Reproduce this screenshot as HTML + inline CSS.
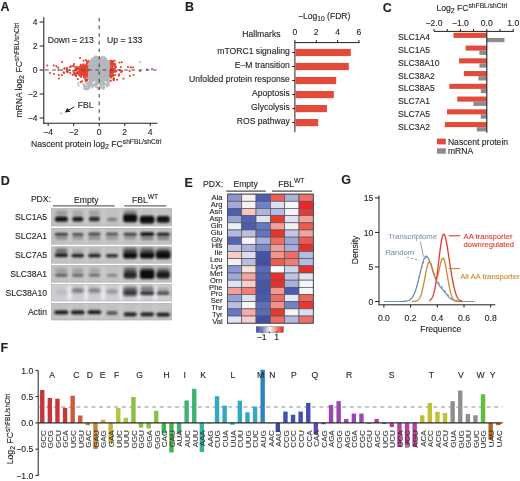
<!DOCTYPE html>
<html><head><meta charset="utf-8"><style>
html,body{margin:0;padding:0;background:#fff;}
svg{display:block;will-change:transform;}
text{font-family:"Liberation Sans", sans-serif;stroke-width:0.12px;}
</style></head><body>
<svg width="520" height="481" viewBox="0 0 520 481">
<rect width="520" height="481" fill="#fff"/>
<text x="0.50" y="10.60" font-size="12.5" text-anchor="start" fill="#231f20" stroke="#231f20" font-weight="bold" >A</text>
<text x="185.00" y="10.70" font-size="12.5" text-anchor="start" fill="#231f20" stroke="#231f20" font-weight="bold" >B</text>
<text x="382.80" y="11.80" font-size="12.5" text-anchor="start" fill="#231f20" stroke="#231f20" font-weight="bold" >C</text>
<text x="0.80" y="185.40" font-size="12.5" text-anchor="start" fill="#231f20" stroke="#231f20" font-weight="bold" >D</text>
<text x="184.60" y="187.00" font-size="12.5" text-anchor="start" fill="#231f20" stroke="#231f20" font-weight="bold" >E</text>
<text x="341.20" y="184.30" font-size="12.5" text-anchor="start" fill="#231f20" stroke="#231f20" font-weight="bold" >G</text>
<text x="0.50" y="351.90" font-size="12.5" text-anchor="start" fill="#231f20" stroke="#231f20" font-weight="bold" >F</text>
<circle cx="105.4" cy="68.1" r="1.05" fill="#b4b8bc"/>
<circle cx="102.5" cy="82.4" r="1.05" fill="#b4b8bc"/>
<circle cx="113.5" cy="79.2" r="1.05" fill="#e5412f"/>
<circle cx="91.3" cy="76.4" r="1.05" fill="#b4b8bc"/>
<circle cx="108.0" cy="77.6" r="1.05" fill="#b4b8bc"/>
<circle cx="106.8" cy="76.3" r="1.05" fill="#b4b8bc"/>
<circle cx="108.3" cy="67.0" r="1.05" fill="#b4b8bc"/>
<circle cx="100.6" cy="73.3" r="1.05" fill="#b4b8bc"/>
<circle cx="113.7" cy="80.3" r="1.05" fill="#e5412f"/>
<circle cx="99.4" cy="78.8" r="1.05" fill="#b4b8bc"/>
<circle cx="82.0" cy="81.4" r="1.05" fill="#e5412f"/>
<circle cx="102.4" cy="76.9" r="1.05" fill="#b4b8bc"/>
<circle cx="93.3" cy="85.4" r="1.05" fill="#b4b8bc"/>
<circle cx="111.7" cy="72.3" r="1.05" fill="#e5412f"/>
<circle cx="102.2" cy="70.3" r="1.05" fill="#b4b8bc"/>
<circle cx="93.1" cy="68.5" r="1.05" fill="#b4b8bc"/>
<circle cx="96.5" cy="75.3" r="1.05" fill="#b4b8bc"/>
<circle cx="101.5" cy="69.0" r="1.05" fill="#b4b8bc"/>
<circle cx="103.6" cy="64.4" r="1.05" fill="#b4b8bc"/>
<circle cx="109.1" cy="78.5" r="1.05" fill="#b4b8bc"/>
<circle cx="99.0" cy="67.5" r="1.05" fill="#b4b8bc"/>
<circle cx="95.6" cy="63.3" r="1.05" fill="#b4b8bc"/>
<circle cx="105.5" cy="67.3" r="1.05" fill="#b4b8bc"/>
<circle cx="104.1" cy="67.8" r="1.05" fill="#b4b8bc"/>
<circle cx="105.5" cy="75.3" r="1.05" fill="#b4b8bc"/>
<circle cx="93.2" cy="78.5" r="1.05" fill="#b4b8bc"/>
<circle cx="95.2" cy="76.9" r="1.05" fill="#b4b8bc"/>
<circle cx="90.4" cy="78.2" r="1.05" fill="#b4b8bc"/>
<circle cx="95.9" cy="81.0" r="1.05" fill="#b4b8bc"/>
<circle cx="95.9" cy="78.2" r="1.05" fill="#b4b8bc"/>
<circle cx="88.7" cy="64.8" r="1.05" fill="#b4b8bc"/>
<circle cx="107.3" cy="74.8" r="1.05" fill="#b4b8bc"/>
<circle cx="106.8" cy="72.6" r="1.05" fill="#b4b8bc"/>
<circle cx="100.4" cy="81.0" r="1.05" fill="#b4b8bc"/>
<circle cx="93.3" cy="72.4" r="1.05" fill="#b4b8bc"/>
<circle cx="83.6" cy="68.4" r="1.05" fill="#e5412f"/>
<circle cx="103.7" cy="75.8" r="1.05" fill="#b4b8bc"/>
<circle cx="107.1" cy="72.6" r="1.05" fill="#b4b8bc"/>
<circle cx="97.1" cy="74.0" r="1.05" fill="#b4b8bc"/>
<circle cx="98.8" cy="82.3" r="1.05" fill="#b4b8bc"/>
<circle cx="107.7" cy="74.5" r="1.05" fill="#b4b8bc"/>
<circle cx="108.2" cy="69.5" r="1.05" fill="#b4b8bc"/>
<circle cx="91.3" cy="71.6" r="1.05" fill="#b4b8bc"/>
<circle cx="85.0" cy="88.1" r="1.05" fill="#b4b8bc"/>
<circle cx="99.2" cy="74.3" r="1.05" fill="#b4b8bc"/>
<circle cx="94.1" cy="67.1" r="1.05" fill="#b4b8bc"/>
<circle cx="106.3" cy="63.4" r="1.05" fill="#b4b8bc"/>
<circle cx="105.2" cy="68.5" r="1.05" fill="#b4b8bc"/>
<circle cx="106.8" cy="70.8" r="1.05" fill="#b4b8bc"/>
<circle cx="95.9" cy="68.0" r="1.05" fill="#b4b8bc"/>
<circle cx="99.9" cy="73.7" r="1.05" fill="#b4b8bc"/>
<circle cx="95.3" cy="75.1" r="1.05" fill="#b4b8bc"/>
<circle cx="97.2" cy="68.9" r="1.05" fill="#b4b8bc"/>
<circle cx="94.4" cy="62.8" r="1.05" fill="#b4b8bc"/>
<circle cx="105.8" cy="74.7" r="1.05" fill="#b4b8bc"/>
<circle cx="99.2" cy="64.2" r="1.05" fill="#b4b8bc"/>
<circle cx="93.4" cy="71.1" r="1.05" fill="#b4b8bc"/>
<circle cx="108.4" cy="71.3" r="1.05" fill="#b4b8bc"/>
<circle cx="112.4" cy="68.2" r="1.05" fill="#e5412f"/>
<circle cx="106.7" cy="78.7" r="1.05" fill="#b4b8bc"/>
<circle cx="76.1" cy="76.2" r="1.05" fill="#e5412f"/>
<circle cx="99.5" cy="70.8" r="1.05" fill="#b4b8bc"/>
<circle cx="91.1" cy="64.0" r="1.05" fill="#b4b8bc"/>
<circle cx="99.5" cy="73.9" r="1.05" fill="#b4b8bc"/>
<circle cx="92.3" cy="71.6" r="1.05" fill="#b4b8bc"/>
<circle cx="102.6" cy="74.6" r="1.05" fill="#b4b8bc"/>
<circle cx="104.4" cy="71.9" r="1.05" fill="#b4b8bc"/>
<circle cx="103.0" cy="70.8" r="1.05" fill="#b4b8bc"/>
<circle cx="97.6" cy="66.8" r="1.05" fill="#b4b8bc"/>
<circle cx="109.6" cy="68.9" r="1.05" fill="#e5412f"/>
<circle cx="102.8" cy="69.0" r="1.05" fill="#b4b8bc"/>
<circle cx="100.4" cy="70.4" r="1.05" fill="#b4b8bc"/>
<circle cx="84.3" cy="67.6" r="1.05" fill="#e5412f"/>
<circle cx="111.4" cy="72.0" r="1.05" fill="#e5412f"/>
<circle cx="91.1" cy="77.2" r="1.05" fill="#b4b8bc"/>
<circle cx="90.1" cy="77.6" r="1.05" fill="#b4b8bc"/>
<circle cx="104.8" cy="79.9" r="1.05" fill="#b4b8bc"/>
<circle cx="99.6" cy="83.6" r="1.05" fill="#b4b8bc"/>
<circle cx="105.5" cy="75.7" r="1.05" fill="#b4b8bc"/>
<circle cx="86.1" cy="71.3" r="1.05" fill="#e5412f"/>
<circle cx="104.3" cy="71.6" r="1.05" fill="#b4b8bc"/>
<circle cx="91.3" cy="63.2" r="1.05" fill="#b4b8bc"/>
<circle cx="98.2" cy="63.4" r="1.05" fill="#b4b8bc"/>
<circle cx="103.9" cy="73.5" r="1.05" fill="#b4b8bc"/>
<circle cx="108.0" cy="66.8" r="1.05" fill="#b4b8bc"/>
<circle cx="91.9" cy="67.7" r="1.05" fill="#b4b8bc"/>
<circle cx="91.1" cy="68.3" r="1.05" fill="#b4b8bc"/>
<circle cx="105.4" cy="68.6" r="1.05" fill="#b4b8bc"/>
<circle cx="102.5" cy="68.3" r="1.05" fill="#b4b8bc"/>
<circle cx="88.9" cy="69.6" r="1.05" fill="#b4b8bc"/>
<circle cx="84.3" cy="73.1" r="1.05" fill="#e5412f"/>
<circle cx="107.8" cy="65.6" r="1.05" fill="#b4b8bc"/>
<circle cx="103.8" cy="78.7" r="1.05" fill="#b4b8bc"/>
<circle cx="98.7" cy="73.3" r="1.05" fill="#b4b8bc"/>
<circle cx="98.3" cy="70.4" r="1.05" fill="#b4b8bc"/>
<circle cx="80.1" cy="58.1" r="1.05" fill="#e5412f"/>
<circle cx="107.0" cy="67.3" r="1.05" fill="#b4b8bc"/>
<circle cx="91.5" cy="66.5" r="1.05" fill="#b4b8bc"/>
<circle cx="89.9" cy="66.4" r="1.05" fill="#b4b8bc"/>
<circle cx="104.8" cy="68.5" r="1.05" fill="#b4b8bc"/>
<circle cx="116.0" cy="66.9" r="1.05" fill="#e5412f"/>
<circle cx="105.9" cy="66.3" r="1.05" fill="#b4b8bc"/>
<circle cx="87.4" cy="74.3" r="1.05" fill="#e5412f"/>
<circle cx="94.4" cy="70.7" r="1.05" fill="#b4b8bc"/>
<circle cx="107.6" cy="61.5" r="1.05" fill="#b4b8bc"/>
<circle cx="104.4" cy="71.8" r="1.05" fill="#b4b8bc"/>
<circle cx="96.7" cy="69.5" r="1.05" fill="#b4b8bc"/>
<circle cx="102.0" cy="66.6" r="1.05" fill="#b4b8bc"/>
<circle cx="104.8" cy="68.5" r="1.05" fill="#b4b8bc"/>
<circle cx="97.8" cy="78.0" r="1.05" fill="#b4b8bc"/>
<circle cx="94.8" cy="70.0" r="1.05" fill="#b4b8bc"/>
<circle cx="92.8" cy="58.9" r="1.05" fill="#b4b8bc"/>
<circle cx="90.3" cy="69.3" r="1.05" fill="#b4b8bc"/>
<circle cx="78.1" cy="73.8" r="1.05" fill="#e5412f"/>
<circle cx="103.8" cy="84.0" r="1.05" fill="#b4b8bc"/>
<circle cx="99.7" cy="64.7" r="1.05" fill="#b4b8bc"/>
<circle cx="90.9" cy="71.4" r="1.05" fill="#b4b8bc"/>
<circle cx="105.6" cy="73.5" r="1.05" fill="#b4b8bc"/>
<circle cx="96.2" cy="70.1" r="1.05" fill="#b4b8bc"/>
<circle cx="97.1" cy="72.2" r="1.05" fill="#b4b8bc"/>
<circle cx="105.3" cy="64.1" r="1.05" fill="#b4b8bc"/>
<circle cx="89.5" cy="75.1" r="1.05" fill="#b4b8bc"/>
<circle cx="105.0" cy="70.4" r="1.05" fill="#b4b8bc"/>
<circle cx="97.8" cy="68.6" r="1.05" fill="#b4b8bc"/>
<circle cx="108.9" cy="73.1" r="1.05" fill="#b4b8bc"/>
<circle cx="96.1" cy="71.5" r="1.05" fill="#b4b8bc"/>
<circle cx="99.1" cy="76.5" r="1.05" fill="#b4b8bc"/>
<circle cx="97.4" cy="63.0" r="1.05" fill="#b4b8bc"/>
<circle cx="103.0" cy="73.3" r="1.05" fill="#b4b8bc"/>
<circle cx="107.4" cy="61.1" r="1.05" fill="#b4b8bc"/>
<circle cx="88.9" cy="72.2" r="1.05" fill="#b4b8bc"/>
<circle cx="106.0" cy="73.3" r="1.05" fill="#b4b8bc"/>
<circle cx="90.7" cy="70.3" r="1.05" fill="#b4b8bc"/>
<circle cx="103.9" cy="80.3" r="1.05" fill="#b4b8bc"/>
<circle cx="54.0" cy="74.0" r="1.05" fill="#e5412f"/>
<circle cx="101.4" cy="75.0" r="1.05" fill="#b4b8bc"/>
<circle cx="92.0" cy="70.5" r="1.05" fill="#b4b8bc"/>
<circle cx="91.3" cy="72.0" r="1.05" fill="#b4b8bc"/>
<circle cx="95.8" cy="69.4" r="1.05" fill="#b4b8bc"/>
<circle cx="90.0" cy="66.1" r="1.05" fill="#b4b8bc"/>
<circle cx="97.5" cy="68.5" r="1.05" fill="#b4b8bc"/>
<circle cx="106.5" cy="68.5" r="1.05" fill="#b4b8bc"/>
<circle cx="90.7" cy="73.6" r="1.05" fill="#b4b8bc"/>
<circle cx="99.4" cy="67.8" r="1.05" fill="#b4b8bc"/>
<circle cx="103.0" cy="70.6" r="1.05" fill="#b4b8bc"/>
<circle cx="105.3" cy="72.7" r="1.05" fill="#b4b8bc"/>
<circle cx="102.7" cy="66.6" r="1.05" fill="#b4b8bc"/>
<circle cx="105.3" cy="61.0" r="1.05" fill="#b4b8bc"/>
<circle cx="99.6" cy="74.7" r="1.05" fill="#b4b8bc"/>
<circle cx="95.7" cy="74.2" r="1.05" fill="#b4b8bc"/>
<circle cx="107.2" cy="72.4" r="1.05" fill="#b4b8bc"/>
<circle cx="98.6" cy="74.4" r="1.05" fill="#b4b8bc"/>
<circle cx="101.5" cy="64.6" r="1.05" fill="#b4b8bc"/>
<circle cx="104.8" cy="72.0" r="1.05" fill="#b4b8bc"/>
<circle cx="89.6" cy="65.4" r="1.05" fill="#b4b8bc"/>
<circle cx="97.0" cy="83.3" r="1.05" fill="#b4b8bc"/>
<circle cx="100.0" cy="72.6" r="1.05" fill="#b4b8bc"/>
<circle cx="99.1" cy="79.7" r="1.05" fill="#b4b8bc"/>
<circle cx="110.3" cy="67.7" r="1.05" fill="#e5412f"/>
<circle cx="90.7" cy="74.4" r="1.05" fill="#b4b8bc"/>
<circle cx="105.0" cy="71.3" r="1.05" fill="#b4b8bc"/>
<circle cx="96.7" cy="77.0" r="1.05" fill="#b4b8bc"/>
<circle cx="93.0" cy="70.4" r="1.05" fill="#b4b8bc"/>
<circle cx="90.1" cy="69.6" r="1.05" fill="#b4b8bc"/>
<circle cx="88.2" cy="61.9" r="1.05" fill="#e5412f"/>
<circle cx="108.5" cy="66.0" r="1.05" fill="#b4b8bc"/>
<circle cx="95.0" cy="70.1" r="1.05" fill="#b4b8bc"/>
<circle cx="89.1" cy="66.8" r="1.05" fill="#b4b8bc"/>
<circle cx="106.4" cy="68.9" r="1.05" fill="#b4b8bc"/>
<circle cx="105.2" cy="68.6" r="1.05" fill="#b4b8bc"/>
<circle cx="102.3" cy="65.5" r="1.05" fill="#b4b8bc"/>
<circle cx="95.9" cy="74.6" r="1.05" fill="#b4b8bc"/>
<circle cx="98.0" cy="62.8" r="1.05" fill="#b4b8bc"/>
<circle cx="104.3" cy="68.8" r="1.05" fill="#b4b8bc"/>
<circle cx="104.9" cy="69.3" r="1.05" fill="#b4b8bc"/>
<circle cx="109.1" cy="80.3" r="1.05" fill="#b4b8bc"/>
<circle cx="96.0" cy="76.2" r="1.05" fill="#b4b8bc"/>
<circle cx="91.2" cy="69.6" r="1.05" fill="#b4b8bc"/>
<circle cx="107.4" cy="72.2" r="1.05" fill="#b4b8bc"/>
<circle cx="103.9" cy="80.0" r="1.05" fill="#b4b8bc"/>
<circle cx="103.1" cy="72.2" r="1.05" fill="#b4b8bc"/>
<circle cx="98.3" cy="72.7" r="1.05" fill="#b4b8bc"/>
<circle cx="105.6" cy="62.1" r="1.05" fill="#b4b8bc"/>
<circle cx="88.9" cy="84.9" r="1.05" fill="#b4b8bc"/>
<circle cx="98.4" cy="69.5" r="1.05" fill="#b4b8bc"/>
<circle cx="90.9" cy="73.1" r="1.05" fill="#b4b8bc"/>
<circle cx="97.6" cy="69.4" r="1.05" fill="#b4b8bc"/>
<circle cx="92.1" cy="65.8" r="1.05" fill="#b4b8bc"/>
<circle cx="89.9" cy="70.7" r="1.05" fill="#b4b8bc"/>
<circle cx="93.7" cy="69.9" r="1.05" fill="#b4b8bc"/>
<circle cx="103.6" cy="70.9" r="1.05" fill="#b4b8bc"/>
<circle cx="99.3" cy="58.4" r="1.05" fill="#b4b8bc"/>
<circle cx="100.3" cy="77.3" r="1.05" fill="#b4b8bc"/>
<circle cx="108.9" cy="67.1" r="1.05" fill="#b4b8bc"/>
<circle cx="106.6" cy="73.4" r="1.05" fill="#b4b8bc"/>
<circle cx="99.9" cy="79.7" r="1.05" fill="#b4b8bc"/>
<circle cx="91.7" cy="73.7" r="1.05" fill="#b4b8bc"/>
<circle cx="110.9" cy="69.2" r="1.05" fill="#e5412f"/>
<circle cx="92.6" cy="67.9" r="1.05" fill="#b4b8bc"/>
<circle cx="105.1" cy="73.8" r="1.05" fill="#b4b8bc"/>
<circle cx="93.4" cy="76.2" r="1.05" fill="#b4b8bc"/>
<circle cx="100.8" cy="71.2" r="1.05" fill="#b4b8bc"/>
<circle cx="102.1" cy="57.1" r="1.05" fill="#b4b8bc"/>
<circle cx="95.0" cy="64.1" r="1.05" fill="#b4b8bc"/>
<circle cx="108.3" cy="71.4" r="1.05" fill="#b4b8bc"/>
<circle cx="92.1" cy="70.4" r="1.05" fill="#b4b8bc"/>
<circle cx="105.5" cy="74.5" r="1.05" fill="#b4b8bc"/>
<circle cx="99.5" cy="77.0" r="1.05" fill="#b4b8bc"/>
<circle cx="108.0" cy="66.0" r="1.05" fill="#b4b8bc"/>
<circle cx="92.7" cy="70.4" r="1.05" fill="#b4b8bc"/>
<circle cx="99.6" cy="67.4" r="1.05" fill="#b4b8bc"/>
<circle cx="108.1" cy="78.1" r="1.05" fill="#b4b8bc"/>
<circle cx="95.4" cy="73.1" r="1.05" fill="#b4b8bc"/>
<circle cx="89.4" cy="69.8" r="1.05" fill="#b4b8bc"/>
<circle cx="100.2" cy="71.2" r="1.05" fill="#b4b8bc"/>
<circle cx="106.2" cy="73.9" r="1.05" fill="#b4b8bc"/>
<circle cx="101.7" cy="68.9" r="1.05" fill="#b4b8bc"/>
<circle cx="86.9" cy="73.0" r="1.05" fill="#e5412f"/>
<circle cx="96.3" cy="66.7" r="1.05" fill="#b4b8bc"/>
<circle cx="114.6" cy="64.3" r="1.05" fill="#e5412f"/>
<circle cx="89.8" cy="65.0" r="1.05" fill="#b4b8bc"/>
<circle cx="92.2" cy="66.6" r="1.05" fill="#b4b8bc"/>
<circle cx="108.4" cy="72.0" r="1.05" fill="#b4b8bc"/>
<circle cx="93.9" cy="61.5" r="1.05" fill="#b4b8bc"/>
<circle cx="89.5" cy="63.8" r="1.05" fill="#b4b8bc"/>
<circle cx="94.2" cy="70.6" r="1.05" fill="#b4b8bc"/>
<circle cx="88.7" cy="70.3" r="1.05" fill="#b4b8bc"/>
<circle cx="92.8" cy="80.5" r="1.05" fill="#b4b8bc"/>
<circle cx="96.7" cy="70.7" r="1.05" fill="#b4b8bc"/>
<circle cx="93.8" cy="66.1" r="1.05" fill="#b4b8bc"/>
<circle cx="93.6" cy="71.0" r="1.05" fill="#b4b8bc"/>
<circle cx="107.0" cy="62.6" r="1.05" fill="#b4b8bc"/>
<circle cx="95.4" cy="66.6" r="1.05" fill="#b4b8bc"/>
<circle cx="87.3" cy="66.0" r="1.05" fill="#e5412f"/>
<circle cx="89.8" cy="71.5" r="1.05" fill="#b4b8bc"/>
<circle cx="99.7" cy="77.0" r="1.05" fill="#b4b8bc"/>
<circle cx="91.0" cy="68.2" r="1.05" fill="#b4b8bc"/>
<circle cx="107.8" cy="68.8" r="1.05" fill="#b4b8bc"/>
<circle cx="100.0" cy="69.5" r="1.05" fill="#b4b8bc"/>
<circle cx="105.3" cy="65.2" r="1.05" fill="#b4b8bc"/>
<circle cx="94.2" cy="68.2" r="1.05" fill="#b4b8bc"/>
<circle cx="102.9" cy="62.9" r="1.05" fill="#b4b8bc"/>
<circle cx="104.9" cy="64.7" r="1.05" fill="#b4b8bc"/>
<circle cx="90.5" cy="65.2" r="1.05" fill="#b4b8bc"/>
<circle cx="108.6" cy="73.6" r="1.05" fill="#b4b8bc"/>
<circle cx="92.9" cy="65.0" r="1.05" fill="#b4b8bc"/>
<circle cx="91.1" cy="73.5" r="1.05" fill="#b4b8bc"/>
<circle cx="95.2" cy="65.4" r="1.05" fill="#b4b8bc"/>
<circle cx="95.1" cy="73.2" r="1.05" fill="#b4b8bc"/>
<circle cx="101.1" cy="74.2" r="1.05" fill="#b4b8bc"/>
<circle cx="108.6" cy="72.6" r="1.05" fill="#b4b8bc"/>
<circle cx="91.8" cy="66.5" r="1.05" fill="#b4b8bc"/>
<circle cx="101.7" cy="63.9" r="1.05" fill="#b4b8bc"/>
<circle cx="107.6" cy="68.3" r="1.05" fill="#b4b8bc"/>
<circle cx="108.0" cy="76.6" r="1.05" fill="#b4b8bc"/>
<circle cx="95.1" cy="70.4" r="1.05" fill="#b4b8bc"/>
<circle cx="102.9" cy="80.8" r="1.05" fill="#b4b8bc"/>
<circle cx="92.8" cy="72.7" r="1.05" fill="#b4b8bc"/>
<circle cx="90.8" cy="74.2" r="1.05" fill="#b4b8bc"/>
<circle cx="88.7" cy="75.5" r="1.05" fill="#b4b8bc"/>
<circle cx="98.4" cy="66.9" r="1.05" fill="#b4b8bc"/>
<circle cx="109.4" cy="80.5" r="1.05" fill="#e5412f"/>
<circle cx="89.2" cy="69.7" r="1.05" fill="#b4b8bc"/>
<circle cx="100.6" cy="71.5" r="1.05" fill="#b4b8bc"/>
<circle cx="97.4" cy="71.3" r="1.05" fill="#b4b8bc"/>
<circle cx="90.9" cy="70.6" r="1.05" fill="#b4b8bc"/>
<circle cx="97.8" cy="66.2" r="1.05" fill="#b4b8bc"/>
<circle cx="91.2" cy="85.6" r="1.05" fill="#b4b8bc"/>
<circle cx="107.9" cy="71.0" r="1.05" fill="#b4b8bc"/>
<circle cx="95.6" cy="61.2" r="1.05" fill="#b4b8bc"/>
<circle cx="107.6" cy="77.6" r="1.05" fill="#b4b8bc"/>
<circle cx="98.7" cy="72.0" r="1.05" fill="#b4b8bc"/>
<circle cx="103.7" cy="71.2" r="1.05" fill="#b4b8bc"/>
<circle cx="92.8" cy="71.2" r="1.05" fill="#b4b8bc"/>
<circle cx="99.4" cy="67.9" r="1.05" fill="#b4b8bc"/>
<circle cx="78.4" cy="72.5" r="1.05" fill="#e5412f"/>
<circle cx="86.4" cy="89.0" r="1.05" fill="#b4b8bc"/>
<circle cx="98.5" cy="64.7" r="1.05" fill="#b4b8bc"/>
<circle cx="96.1" cy="84.0" r="1.05" fill="#b4b8bc"/>
<circle cx="90.8" cy="71.2" r="1.05" fill="#b4b8bc"/>
<circle cx="109.4" cy="68.3" r="1.05" fill="#e5412f"/>
<circle cx="98.5" cy="73.2" r="1.05" fill="#b4b8bc"/>
<circle cx="101.5" cy="71.3" r="1.05" fill="#b4b8bc"/>
<circle cx="106.4" cy="63.5" r="1.05" fill="#b4b8bc"/>
<circle cx="90.6" cy="66.6" r="1.05" fill="#b4b8bc"/>
<circle cx="86.7" cy="73.1" r="1.05" fill="#e5412f"/>
<circle cx="98.6" cy="69.8" r="1.05" fill="#b4b8bc"/>
<circle cx="98.9" cy="69.6" r="1.05" fill="#b4b8bc"/>
<circle cx="91.8" cy="69.9" r="1.05" fill="#b4b8bc"/>
<circle cx="94.1" cy="70.1" r="1.05" fill="#b4b8bc"/>
<circle cx="96.5" cy="69.5" r="1.05" fill="#b4b8bc"/>
<circle cx="78.1" cy="83.3" r="1.05" fill="#b4b8bc"/>
<circle cx="103.3" cy="69.4" r="1.05" fill="#b4b8bc"/>
<circle cx="91.3" cy="68.1" r="1.05" fill="#b4b8bc"/>
<circle cx="92.7" cy="78.2" r="1.05" fill="#b4b8bc"/>
<circle cx="97.6" cy="62.1" r="1.05" fill="#b4b8bc"/>
<circle cx="94.3" cy="69.7" r="1.05" fill="#b4b8bc"/>
<circle cx="80.8" cy="68.9" r="1.05" fill="#e5412f"/>
<circle cx="95.6" cy="75.1" r="1.05" fill="#b4b8bc"/>
<circle cx="93.1" cy="60.8" r="1.05" fill="#b4b8bc"/>
<circle cx="95.8" cy="67.8" r="1.05" fill="#b4b8bc"/>
<circle cx="103.8" cy="68.9" r="1.05" fill="#b4b8bc"/>
<circle cx="103.6" cy="66.9" r="1.05" fill="#b4b8bc"/>
<circle cx="98.1" cy="71.0" r="1.05" fill="#b4b8bc"/>
<circle cx="109.0" cy="71.7" r="1.05" fill="#b4b8bc"/>
<circle cx="94.2" cy="65.3" r="1.05" fill="#b4b8bc"/>
<circle cx="95.6" cy="84.4" r="1.05" fill="#b4b8bc"/>
<circle cx="100.3" cy="70.4" r="1.05" fill="#b4b8bc"/>
<circle cx="95.5" cy="71.3" r="1.05" fill="#b4b8bc"/>
<circle cx="86.8" cy="63.2" r="1.05" fill="#e5412f"/>
<circle cx="81.4" cy="71.0" r="1.05" fill="#e5412f"/>
<circle cx="103.5" cy="74.7" r="1.05" fill="#b4b8bc"/>
<circle cx="98.8" cy="76.2" r="1.05" fill="#b4b8bc"/>
<circle cx="106.3" cy="59.5" r="1.05" fill="#b4b8bc"/>
<circle cx="97.3" cy="79.0" r="1.05" fill="#b4b8bc"/>
<circle cx="92.3" cy="66.4" r="1.05" fill="#b4b8bc"/>
<circle cx="109.1" cy="85.0" r="1.05" fill="#b4b8bc"/>
<circle cx="106.3" cy="65.4" r="1.05" fill="#b4b8bc"/>
<circle cx="93.9" cy="67.1" r="1.05" fill="#b4b8bc"/>
<circle cx="100.7" cy="70.8" r="1.05" fill="#b4b8bc"/>
<circle cx="93.7" cy="58.0" r="1.05" fill="#b4b8bc"/>
<circle cx="109.6" cy="63.9" r="1.05" fill="#e5412f"/>
<circle cx="93.3" cy="75.2" r="1.05" fill="#b4b8bc"/>
<circle cx="91.8" cy="75.8" r="1.05" fill="#b4b8bc"/>
<circle cx="64.7" cy="68.2" r="1.05" fill="#e5412f"/>
<circle cx="96.3" cy="84.9" r="1.05" fill="#b4b8bc"/>
<circle cx="102.7" cy="71.5" r="1.05" fill="#b4b8bc"/>
<circle cx="98.3" cy="75.0" r="1.05" fill="#b4b8bc"/>
<circle cx="100.2" cy="69.4" r="1.05" fill="#b4b8bc"/>
<circle cx="105.9" cy="76.3" r="1.05" fill="#b4b8bc"/>
<circle cx="93.2" cy="67.3" r="1.05" fill="#b4b8bc"/>
<circle cx="95.0" cy="65.9" r="1.05" fill="#b4b8bc"/>
<circle cx="94.4" cy="74.0" r="1.05" fill="#b4b8bc"/>
<circle cx="105.4" cy="67.7" r="1.05" fill="#b4b8bc"/>
<circle cx="83.3" cy="64.4" r="1.05" fill="#e5412f"/>
<circle cx="89.4" cy="62.1" r="1.05" fill="#b4b8bc"/>
<circle cx="96.9" cy="61.7" r="1.05" fill="#b4b8bc"/>
<circle cx="80.8" cy="66.3" r="1.05" fill="#e5412f"/>
<circle cx="89.1" cy="73.3" r="1.05" fill="#b4b8bc"/>
<circle cx="109.8" cy="70.4" r="1.05" fill="#e5412f"/>
<circle cx="94.3" cy="71.6" r="1.05" fill="#b4b8bc"/>
<circle cx="103.5" cy="67.6" r="1.05" fill="#b4b8bc"/>
<circle cx="94.2" cy="72.4" r="1.05" fill="#b4b8bc"/>
<circle cx="105.1" cy="71.5" r="1.05" fill="#b4b8bc"/>
<circle cx="98.7" cy="66.8" r="1.05" fill="#b4b8bc"/>
<circle cx="106.1" cy="73.4" r="1.05" fill="#b4b8bc"/>
<circle cx="95.0" cy="74.8" r="1.05" fill="#b4b8bc"/>
<circle cx="99.4" cy="70.2" r="1.05" fill="#b4b8bc"/>
<circle cx="96.3" cy="67.3" r="1.05" fill="#b4b8bc"/>
<circle cx="87.0" cy="79.2" r="1.05" fill="#e5412f"/>
<circle cx="99.9" cy="68.9" r="1.05" fill="#b4b8bc"/>
<circle cx="104.0" cy="66.1" r="1.05" fill="#b4b8bc"/>
<circle cx="90.5" cy="70.9" r="1.05" fill="#b4b8bc"/>
<circle cx="140.0" cy="71.0" r="1.05" fill="#e5412f"/>
<circle cx="96.6" cy="63.2" r="1.05" fill="#b4b8bc"/>
<circle cx="99.5" cy="66.6" r="1.05" fill="#b4b8bc"/>
<circle cx="95.0" cy="70.7" r="1.05" fill="#b4b8bc"/>
<circle cx="100.8" cy="61.2" r="1.05" fill="#b4b8bc"/>
<circle cx="107.9" cy="64.5" r="1.05" fill="#b4b8bc"/>
<circle cx="104.5" cy="70.7" r="1.05" fill="#b4b8bc"/>
<circle cx="103.7" cy="74.3" r="1.05" fill="#b4b8bc"/>
<circle cx="108.9" cy="67.7" r="1.05" fill="#b4b8bc"/>
<circle cx="99.0" cy="68.1" r="1.05" fill="#b4b8bc"/>
<circle cx="75.6" cy="68.6" r="1.05" fill="#e5412f"/>
<circle cx="95.6" cy="62.0" r="1.05" fill="#b4b8bc"/>
<circle cx="86.5" cy="64.7" r="1.05" fill="#e5412f"/>
<circle cx="108.4" cy="73.4" r="1.05" fill="#b4b8bc"/>
<circle cx="91.4" cy="66.9" r="1.05" fill="#b4b8bc"/>
<circle cx="96.7" cy="62.3" r="1.05" fill="#b4b8bc"/>
<circle cx="98.5" cy="66.8" r="1.05" fill="#b4b8bc"/>
<circle cx="107.4" cy="65.8" r="1.05" fill="#b4b8bc"/>
<circle cx="105.5" cy="73.4" r="1.05" fill="#b4b8bc"/>
<circle cx="110.9" cy="60.9" r="1.05" fill="#e5412f"/>
<circle cx="103.4" cy="68.2" r="1.05" fill="#b4b8bc"/>
<circle cx="94.8" cy="63.6" r="1.05" fill="#b4b8bc"/>
<circle cx="91.5" cy="71.0" r="1.05" fill="#b4b8bc"/>
<circle cx="104.0" cy="75.1" r="1.05" fill="#b4b8bc"/>
<circle cx="103.4" cy="66.3" r="1.05" fill="#b4b8bc"/>
<circle cx="103.9" cy="69.2" r="1.05" fill="#b4b8bc"/>
<circle cx="110.3" cy="70.6" r="1.05" fill="#e5412f"/>
<circle cx="91.3" cy="70.6" r="1.05" fill="#b4b8bc"/>
<circle cx="104.7" cy="71.9" r="1.05" fill="#b4b8bc"/>
<circle cx="104.9" cy="71.3" r="1.05" fill="#b4b8bc"/>
<circle cx="94.3" cy="62.9" r="1.05" fill="#b4b8bc"/>
<circle cx="88.7" cy="74.6" r="1.05" fill="#b4b8bc"/>
<circle cx="106.8" cy="77.7" r="1.05" fill="#b4b8bc"/>
<circle cx="105.6" cy="65.9" r="1.05" fill="#b4b8bc"/>
<circle cx="99.5" cy="77.6" r="1.05" fill="#b4b8bc"/>
<circle cx="92.7" cy="70.6" r="1.05" fill="#b4b8bc"/>
<circle cx="108.1" cy="69.4" r="1.05" fill="#b4b8bc"/>
<circle cx="89.5" cy="66.1" r="1.05" fill="#b4b8bc"/>
<circle cx="96.2" cy="66.4" r="1.05" fill="#b4b8bc"/>
<circle cx="104.3" cy="75.6" r="1.05" fill="#b4b8bc"/>
<circle cx="107.5" cy="61.9" r="1.05" fill="#b4b8bc"/>
<circle cx="107.3" cy="61.9" r="1.05" fill="#b4b8bc"/>
<circle cx="102.0" cy="79.2" r="1.05" fill="#b4b8bc"/>
<circle cx="89.3" cy="67.6" r="1.05" fill="#b4b8bc"/>
<circle cx="108.7" cy="74.1" r="1.05" fill="#b4b8bc"/>
<circle cx="94.1" cy="75.0" r="1.05" fill="#b4b8bc"/>
<circle cx="96.4" cy="70.7" r="1.05" fill="#b4b8bc"/>
<circle cx="97.3" cy="75.8" r="1.05" fill="#b4b8bc"/>
<circle cx="112.9" cy="64.2" r="1.05" fill="#e5412f"/>
<circle cx="96.1" cy="66.6" r="1.05" fill="#b4b8bc"/>
<circle cx="113.8" cy="69.9" r="1.05" fill="#e5412f"/>
<circle cx="89.7" cy="69.6" r="1.05" fill="#b4b8bc"/>
<circle cx="82.7" cy="70.9" r="1.05" fill="#e5412f"/>
<circle cx="99.8" cy="70.3" r="1.05" fill="#b4b8bc"/>
<circle cx="100.7" cy="75.9" r="1.05" fill="#b4b8bc"/>
<circle cx="103.1" cy="74.0" r="1.05" fill="#b4b8bc"/>
<circle cx="100.5" cy="64.1" r="1.05" fill="#b4b8bc"/>
<circle cx="103.4" cy="78.8" r="1.05" fill="#b4b8bc"/>
<circle cx="97.9" cy="72.8" r="1.05" fill="#b4b8bc"/>
<circle cx="97.1" cy="68.2" r="1.05" fill="#b4b8bc"/>
<circle cx="102.6" cy="79.1" r="1.05" fill="#b4b8bc"/>
<circle cx="104.5" cy="67.2" r="1.05" fill="#b4b8bc"/>
<circle cx="103.0" cy="67.1" r="1.05" fill="#b4b8bc"/>
<circle cx="90.0" cy="66.2" r="1.05" fill="#b4b8bc"/>
<circle cx="100.2" cy="74.4" r="1.05" fill="#b4b8bc"/>
<circle cx="101.0" cy="80.5" r="1.05" fill="#b4b8bc"/>
<circle cx="102.5" cy="68.8" r="1.05" fill="#b4b8bc"/>
<circle cx="89.3" cy="68.7" r="1.05" fill="#b4b8bc"/>
<circle cx="96.7" cy="57.0" r="1.05" fill="#b4b8bc"/>
<circle cx="101.7" cy="72.0" r="1.05" fill="#b4b8bc"/>
<circle cx="91.7" cy="61.8" r="1.05" fill="#b4b8bc"/>
<circle cx="98.3" cy="72.6" r="1.05" fill="#b4b8bc"/>
<circle cx="105.8" cy="74.6" r="1.05" fill="#b4b8bc"/>
<circle cx="100.8" cy="69.8" r="1.05" fill="#b4b8bc"/>
<circle cx="104.8" cy="69.9" r="1.05" fill="#b4b8bc"/>
<circle cx="106.1" cy="74.7" r="1.05" fill="#b4b8bc"/>
<circle cx="102.4" cy="67.9" r="1.05" fill="#b4b8bc"/>
<circle cx="95.9" cy="70.1" r="1.05" fill="#b4b8bc"/>
<circle cx="83.9" cy="70.8" r="1.05" fill="#e5412f"/>
<circle cx="101.2" cy="67.5" r="1.05" fill="#b4b8bc"/>
<circle cx="106.4" cy="77.0" r="1.05" fill="#b4b8bc"/>
<circle cx="99.8" cy="62.6" r="1.05" fill="#b4b8bc"/>
<circle cx="100.0" cy="70.1" r="1.05" fill="#b4b8bc"/>
<circle cx="97.0" cy="82.5" r="1.05" fill="#b4b8bc"/>
<circle cx="104.5" cy="72.0" r="1.05" fill="#b4b8bc"/>
<circle cx="90.6" cy="79.9" r="1.05" fill="#b4b8bc"/>
<circle cx="94.6" cy="72.8" r="1.05" fill="#b4b8bc"/>
<circle cx="108.6" cy="69.6" r="1.05" fill="#b4b8bc"/>
<circle cx="98.2" cy="71.0" r="1.05" fill="#b4b8bc"/>
<circle cx="91.4" cy="74.2" r="1.05" fill="#b4b8bc"/>
<circle cx="103.9" cy="80.5" r="1.05" fill="#b4b8bc"/>
<circle cx="92.4" cy="65.5" r="1.05" fill="#b4b8bc"/>
<circle cx="94.9" cy="63.6" r="1.05" fill="#b4b8bc"/>
<circle cx="100.1" cy="80.2" r="1.05" fill="#b4b8bc"/>
<circle cx="108.3" cy="66.2" r="1.05" fill="#b4b8bc"/>
<circle cx="88.7" cy="85.0" r="1.05" fill="#b4b8bc"/>
<circle cx="89.2" cy="64.8" r="1.05" fill="#b4b8bc"/>
<circle cx="104.0" cy="70.6" r="1.05" fill="#b4b8bc"/>
<circle cx="107.3" cy="67.7" r="1.05" fill="#b4b8bc"/>
<circle cx="89.3" cy="73.9" r="1.05" fill="#b4b8bc"/>
<circle cx="106.3" cy="67.3" r="1.05" fill="#b4b8bc"/>
<circle cx="103.4" cy="79.2" r="1.05" fill="#b4b8bc"/>
<circle cx="93.3" cy="73.7" r="1.05" fill="#b4b8bc"/>
<circle cx="108.3" cy="72.6" r="1.05" fill="#b4b8bc"/>
<circle cx="92.3" cy="73.7" r="1.05" fill="#b4b8bc"/>
<circle cx="90.4" cy="75.5" r="1.05" fill="#b4b8bc"/>
<circle cx="105.5" cy="76.3" r="1.05" fill="#b4b8bc"/>
<circle cx="101.5" cy="69.1" r="1.05" fill="#b4b8bc"/>
<circle cx="101.7" cy="74.1" r="1.05" fill="#b4b8bc"/>
<circle cx="94.9" cy="58.2" r="1.05" fill="#b4b8bc"/>
<circle cx="80.7" cy="65.6" r="1.05" fill="#e5412f"/>
<circle cx="90.9" cy="71.5" r="1.05" fill="#b4b8bc"/>
<circle cx="90.0" cy="72.5" r="1.05" fill="#b4b8bc"/>
<circle cx="91.8" cy="71.5" r="1.05" fill="#b4b8bc"/>
<circle cx="97.1" cy="76.7" r="1.05" fill="#b4b8bc"/>
<circle cx="100.3" cy="69.4" r="1.05" fill="#b4b8bc"/>
<circle cx="91.9" cy="70.1" r="1.05" fill="#b4b8bc"/>
<circle cx="101.8" cy="68.0" r="1.05" fill="#b4b8bc"/>
<circle cx="96.5" cy="70.7" r="1.05" fill="#b4b8bc"/>
<circle cx="106.6" cy="67.3" r="1.05" fill="#b4b8bc"/>
<circle cx="106.5" cy="69.1" r="1.05" fill="#b4b8bc"/>
<circle cx="102.7" cy="69.3" r="1.05" fill="#b4b8bc"/>
<circle cx="107.1" cy="72.5" r="1.05" fill="#b4b8bc"/>
<circle cx="99.3" cy="62.4" r="1.05" fill="#b4b8bc"/>
<circle cx="106.6" cy="75.9" r="1.05" fill="#b4b8bc"/>
<circle cx="103.2" cy="74.7" r="1.05" fill="#b4b8bc"/>
<circle cx="96.9" cy="71.7" r="1.05" fill="#b4b8bc"/>
<circle cx="107.7" cy="70.9" r="1.05" fill="#b4b8bc"/>
<circle cx="107.3" cy="71.6" r="1.05" fill="#b4b8bc"/>
<circle cx="90.7" cy="71.5" r="1.05" fill="#b4b8bc"/>
<circle cx="101.8" cy="69.7" r="1.05" fill="#b4b8bc"/>
<circle cx="96.4" cy="80.8" r="1.05" fill="#b4b8bc"/>
<circle cx="97.6" cy="69.2" r="1.05" fill="#b4b8bc"/>
<circle cx="97.0" cy="70.6" r="1.05" fill="#b4b8bc"/>
<circle cx="103.2" cy="67.6" r="1.05" fill="#b4b8bc"/>
<circle cx="106.9" cy="74.7" r="1.05" fill="#b4b8bc"/>
<circle cx="105.8" cy="71.2" r="1.05" fill="#b4b8bc"/>
<circle cx="100.3" cy="69.8" r="1.05" fill="#b4b8bc"/>
<circle cx="94.3" cy="62.6" r="1.05" fill="#b4b8bc"/>
<circle cx="99.0" cy="75.5" r="1.05" fill="#b4b8bc"/>
<circle cx="104.9" cy="68.8" r="1.05" fill="#b4b8bc"/>
<circle cx="105.2" cy="67.1" r="1.05" fill="#b4b8bc"/>
<circle cx="95.0" cy="75.5" r="1.05" fill="#b4b8bc"/>
<circle cx="98.2" cy="70.1" r="1.05" fill="#b4b8bc"/>
<circle cx="91.8" cy="70.5" r="1.05" fill="#b4b8bc"/>
<circle cx="97.0" cy="69.5" r="1.05" fill="#b4b8bc"/>
<circle cx="107.4" cy="72.9" r="1.05" fill="#b4b8bc"/>
<circle cx="104.3" cy="66.3" r="1.05" fill="#b4b8bc"/>
<circle cx="94.6" cy="79.1" r="1.05" fill="#b4b8bc"/>
<circle cx="101.5" cy="72.9" r="1.05" fill="#b4b8bc"/>
<circle cx="84.5" cy="71.7" r="1.05" fill="#e5412f"/>
<circle cx="98.8" cy="72.7" r="1.05" fill="#b4b8bc"/>
<circle cx="91.0" cy="75.3" r="1.05" fill="#b4b8bc"/>
<circle cx="104.6" cy="72.4" r="1.05" fill="#b4b8bc"/>
<circle cx="93.9" cy="65.2" r="1.05" fill="#b4b8bc"/>
<circle cx="92.4" cy="63.7" r="1.05" fill="#b4b8bc"/>
<circle cx="99.4" cy="88.8" r="1.05" fill="#b4b8bc"/>
<circle cx="93.2" cy="74.5" r="1.05" fill="#b4b8bc"/>
<circle cx="96.5" cy="69.9" r="1.05" fill="#b4b8bc"/>
<circle cx="92.2" cy="64.7" r="1.05" fill="#b4b8bc"/>
<circle cx="94.1" cy="61.7" r="1.05" fill="#b4b8bc"/>
<circle cx="108.4" cy="71.9" r="1.05" fill="#b4b8bc"/>
<circle cx="94.8" cy="74.5" r="1.05" fill="#b4b8bc"/>
<circle cx="105.3" cy="72.0" r="1.05" fill="#b4b8bc"/>
<circle cx="90.2" cy="68.7" r="1.05" fill="#b4b8bc"/>
<circle cx="100.2" cy="74.9" r="1.05" fill="#b4b8bc"/>
<circle cx="95.0" cy="69.7" r="1.05" fill="#b4b8bc"/>
<circle cx="104.3" cy="60.2" r="1.05" fill="#b4b8bc"/>
<circle cx="88.8" cy="66.2" r="1.05" fill="#b4b8bc"/>
<circle cx="91.4" cy="73.2" r="1.05" fill="#b4b8bc"/>
<circle cx="107.6" cy="78.4" r="1.05" fill="#b4b8bc"/>
<circle cx="99.2" cy="74.2" r="1.05" fill="#b4b8bc"/>
<circle cx="105.7" cy="73.7" r="1.05" fill="#b4b8bc"/>
<circle cx="88.7" cy="74.8" r="1.05" fill="#b4b8bc"/>
<circle cx="95.3" cy="67.5" r="1.05" fill="#b4b8bc"/>
<circle cx="94.9" cy="66.7" r="1.05" fill="#b4b8bc"/>
<circle cx="91.8" cy="79.5" r="1.05" fill="#b4b8bc"/>
<circle cx="93.0" cy="75.1" r="1.05" fill="#b4b8bc"/>
<circle cx="98.8" cy="75.1" r="1.05" fill="#b4b8bc"/>
<circle cx="108.9" cy="76.9" r="1.05" fill="#b4b8bc"/>
<circle cx="92.1" cy="72.7" r="1.05" fill="#b4b8bc"/>
<circle cx="99.5" cy="70.2" r="1.05" fill="#b4b8bc"/>
<circle cx="98.9" cy="66.5" r="1.05" fill="#b4b8bc"/>
<circle cx="93.7" cy="65.4" r="1.05" fill="#b4b8bc"/>
<circle cx="84.5" cy="67.9" r="1.05" fill="#e5412f"/>
<circle cx="101.5" cy="67.1" r="1.05" fill="#b4b8bc"/>
<circle cx="107.8" cy="65.3" r="1.05" fill="#b4b8bc"/>
<circle cx="105.0" cy="68.8" r="1.05" fill="#b4b8bc"/>
<circle cx="111.0" cy="75.9" r="1.05" fill="#e5412f"/>
<circle cx="90.9" cy="73.2" r="1.05" fill="#b4b8bc"/>
<circle cx="89.4" cy="77.7" r="1.05" fill="#b4b8bc"/>
<circle cx="112.4" cy="63.2" r="1.05" fill="#e5412f"/>
<circle cx="94.5" cy="63.7" r="1.05" fill="#b4b8bc"/>
<circle cx="106.9" cy="70.8" r="1.05" fill="#b4b8bc"/>
<circle cx="101.8" cy="73.2" r="1.05" fill="#b4b8bc"/>
<circle cx="108.8" cy="68.9" r="1.05" fill="#b4b8bc"/>
<circle cx="95.3" cy="66.8" r="1.05" fill="#b4b8bc"/>
<circle cx="47.3" cy="65.5" r="1.05" fill="#e5412f"/>
<circle cx="106.0" cy="75.4" r="1.05" fill="#b4b8bc"/>
<circle cx="93.4" cy="58.0" r="1.05" fill="#b4b8bc"/>
<circle cx="108.5" cy="66.2" r="1.05" fill="#b4b8bc"/>
<circle cx="96.6" cy="75.8" r="1.05" fill="#b4b8bc"/>
<circle cx="88.9" cy="77.1" r="1.05" fill="#b4b8bc"/>
<circle cx="96.8" cy="72.0" r="1.05" fill="#b4b8bc"/>
<circle cx="92.7" cy="66.5" r="1.05" fill="#b4b8bc"/>
<circle cx="100.0" cy="84.3" r="1.05" fill="#b4b8bc"/>
<circle cx="95.0" cy="65.9" r="1.05" fill="#b4b8bc"/>
<circle cx="115.0" cy="75.1" r="1.05" fill="#e5412f"/>
<circle cx="104.2" cy="66.1" r="1.05" fill="#b4b8bc"/>
<circle cx="97.5" cy="72.7" r="1.05" fill="#b4b8bc"/>
<circle cx="79.9" cy="70.4" r="1.05" fill="#e5412f"/>
<circle cx="92.1" cy="67.7" r="1.05" fill="#b4b8bc"/>
<circle cx="107.7" cy="75.7" r="1.05" fill="#b4b8bc"/>
<circle cx="92.7" cy="65.4" r="1.05" fill="#b4b8bc"/>
<circle cx="101.6" cy="81.5" r="1.05" fill="#b4b8bc"/>
<circle cx="69.9" cy="67.0" r="1.05" fill="#e5412f"/>
<circle cx="106.6" cy="67.5" r="1.05" fill="#b4b8bc"/>
<circle cx="97.4" cy="70.7" r="1.05" fill="#b4b8bc"/>
<circle cx="129.6" cy="70.9" r="1.05" fill="#e5412f"/>
<circle cx="78.0" cy="69.1" r="1.05" fill="#e5412f"/>
<circle cx="101.6" cy="69.4" r="1.05" fill="#b4b8bc"/>
<circle cx="90.8" cy="84.2" r="1.05" fill="#b4b8bc"/>
<circle cx="91.9" cy="72.0" r="1.05" fill="#b4b8bc"/>
<circle cx="101.9" cy="68.5" r="1.05" fill="#b4b8bc"/>
<circle cx="85.2" cy="72.7" r="1.05" fill="#e5412f"/>
<circle cx="115.0" cy="68.3" r="1.05" fill="#e5412f"/>
<circle cx="104.1" cy="70.0" r="1.05" fill="#b4b8bc"/>
<circle cx="108.3" cy="69.0" r="1.05" fill="#b4b8bc"/>
<circle cx="102.7" cy="72.0" r="1.05" fill="#b4b8bc"/>
<circle cx="67.0" cy="68.0" r="1.05" fill="#e5412f"/>
<circle cx="96.1" cy="66.5" r="1.05" fill="#b4b8bc"/>
<circle cx="101.6" cy="69.9" r="1.05" fill="#b4b8bc"/>
<circle cx="100.1" cy="66.2" r="1.05" fill="#b4b8bc"/>
<circle cx="92.9" cy="70.0" r="1.05" fill="#b4b8bc"/>
<circle cx="107.7" cy="67.8" r="1.05" fill="#b4b8bc"/>
<circle cx="99.2" cy="67.0" r="1.05" fill="#b4b8bc"/>
<circle cx="99.8" cy="77.0" r="1.05" fill="#b4b8bc"/>
<circle cx="107.3" cy="74.0" r="1.05" fill="#b4b8bc"/>
<circle cx="105.9" cy="75.0" r="1.05" fill="#b4b8bc"/>
<circle cx="100.7" cy="73.6" r="1.05" fill="#b4b8bc"/>
<circle cx="85.1" cy="70.9" r="1.05" fill="#e5412f"/>
<circle cx="50.0" cy="73.0" r="1.05" fill="#e5412f"/>
<circle cx="102.8" cy="76.7" r="1.05" fill="#b4b8bc"/>
<circle cx="100.7" cy="73.7" r="1.05" fill="#b4b8bc"/>
<circle cx="95.9" cy="62.2" r="1.05" fill="#b4b8bc"/>
<circle cx="93.9" cy="72.7" r="1.05" fill="#b4b8bc"/>
<circle cx="86.9" cy="73.0" r="1.05" fill="#e5412f"/>
<circle cx="92.9" cy="80.1" r="1.05" fill="#b4b8bc"/>
<circle cx="92.8" cy="70.9" r="1.05" fill="#b4b8bc"/>
<circle cx="101.8" cy="72.5" r="1.05" fill="#b4b8bc"/>
<circle cx="85.7" cy="60.0" r="1.05" fill="#e5412f"/>
<circle cx="98.9" cy="66.9" r="1.05" fill="#b4b8bc"/>
<circle cx="81.4" cy="75.0" r="1.05" fill="#e5412f"/>
<circle cx="104.8" cy="73.0" r="1.05" fill="#b4b8bc"/>
<circle cx="104.4" cy="70.8" r="1.05" fill="#b4b8bc"/>
<circle cx="113.3" cy="72.2" r="1.05" fill="#e5412f"/>
<circle cx="95.4" cy="76.9" r="1.05" fill="#b4b8bc"/>
<circle cx="107.4" cy="69.4" r="1.05" fill="#b4b8bc"/>
<circle cx="97.0" cy="83.5" r="1.05" fill="#b4b8bc"/>
<circle cx="105.5" cy="71.6" r="1.05" fill="#b4b8bc"/>
<circle cx="110.1" cy="75.9" r="1.05" fill="#e5412f"/>
<circle cx="93.6" cy="64.6" r="1.05" fill="#b4b8bc"/>
<circle cx="103.9" cy="78.9" r="1.05" fill="#b4b8bc"/>
<circle cx="95.2" cy="64.4" r="1.05" fill="#b4b8bc"/>
<circle cx="94.2" cy="72.2" r="1.05" fill="#b4b8bc"/>
<circle cx="104.4" cy="78.9" r="1.05" fill="#b4b8bc"/>
<circle cx="97.1" cy="70.4" r="1.05" fill="#b4b8bc"/>
<circle cx="97.0" cy="76.6" r="1.05" fill="#b4b8bc"/>
<circle cx="102.9" cy="64.9" r="1.05" fill="#b4b8bc"/>
<circle cx="106.0" cy="77.7" r="1.05" fill="#b4b8bc"/>
<circle cx="89.5" cy="72.8" r="1.05" fill="#b4b8bc"/>
<circle cx="105.6" cy="79.4" r="1.05" fill="#b4b8bc"/>
<circle cx="100.0" cy="71.0" r="1.05" fill="#b4b8bc"/>
<circle cx="89.8" cy="69.8" r="1.05" fill="#b4b8bc"/>
<circle cx="96.7" cy="65.6" r="1.05" fill="#b4b8bc"/>
<circle cx="133.5" cy="75.0" r="1.05" fill="#e5412f"/>
<circle cx="94.4" cy="69.4" r="1.05" fill="#b4b8bc"/>
<circle cx="90.0" cy="75.6" r="1.05" fill="#b4b8bc"/>
<circle cx="103.4" cy="68.2" r="1.05" fill="#b4b8bc"/>
<circle cx="98.7" cy="82.1" r="1.05" fill="#b4b8bc"/>
<circle cx="108.2" cy="75.0" r="1.05" fill="#b4b8bc"/>
<circle cx="91.7" cy="61.5" r="1.05" fill="#b4b8bc"/>
<circle cx="90.6" cy="67.4" r="1.05" fill="#b4b8bc"/>
<circle cx="97.7" cy="67.5" r="1.05" fill="#b4b8bc"/>
<circle cx="104.2" cy="76.7" r="1.05" fill="#b4b8bc"/>
<circle cx="99.3" cy="69.0" r="1.05" fill="#b4b8bc"/>
<circle cx="103.8" cy="61.1" r="1.05" fill="#b4b8bc"/>
<circle cx="103.7" cy="63.3" r="1.05" fill="#b4b8bc"/>
<circle cx="103.2" cy="84.8" r="1.05" fill="#b4b8bc"/>
<circle cx="104.7" cy="75.6" r="1.05" fill="#b4b8bc"/>
<circle cx="96.7" cy="68.5" r="1.05" fill="#b4b8bc"/>
<circle cx="107.0" cy="73.8" r="1.05" fill="#b4b8bc"/>
<circle cx="106.5" cy="78.1" r="1.05" fill="#b4b8bc"/>
<circle cx="101.2" cy="73.0" r="1.05" fill="#b4b8bc"/>
<circle cx="104.3" cy="67.4" r="1.05" fill="#b4b8bc"/>
<circle cx="107.5" cy="71.4" r="1.05" fill="#b4b8bc"/>
<circle cx="105.1" cy="74.5" r="1.05" fill="#b4b8bc"/>
<circle cx="97.1" cy="64.7" r="1.05" fill="#b4b8bc"/>
<circle cx="108.9" cy="70.3" r="1.05" fill="#b4b8bc"/>
<circle cx="89.1" cy="68.2" r="1.05" fill="#b4b8bc"/>
<circle cx="106.2" cy="69.1" r="1.05" fill="#b4b8bc"/>
<circle cx="107.8" cy="74.9" r="1.05" fill="#b4b8bc"/>
<circle cx="104.0" cy="75.5" r="1.05" fill="#b4b8bc"/>
<circle cx="94.9" cy="70.3" r="1.05" fill="#b4b8bc"/>
<circle cx="84.2" cy="76.7" r="1.05" fill="#e5412f"/>
<circle cx="91.6" cy="73.0" r="1.05" fill="#b4b8bc"/>
<circle cx="94.4" cy="67.1" r="1.05" fill="#b4b8bc"/>
<circle cx="106.4" cy="69.8" r="1.05" fill="#b4b8bc"/>
<circle cx="89.9" cy="68.1" r="1.05" fill="#b4b8bc"/>
<circle cx="91.3" cy="68.5" r="1.05" fill="#b4b8bc"/>
<circle cx="101.9" cy="73.8" r="1.05" fill="#b4b8bc"/>
<circle cx="94.2" cy="68.6" r="1.05" fill="#b4b8bc"/>
<circle cx="107.9" cy="73.4" r="1.05" fill="#b4b8bc"/>
<circle cx="105.0" cy="74.4" r="1.05" fill="#b4b8bc"/>
<circle cx="63.6" cy="72.3" r="1.05" fill="#e5412f"/>
<circle cx="97.9" cy="76.7" r="1.05" fill="#b4b8bc"/>
<circle cx="96.3" cy="71.9" r="1.05" fill="#b4b8bc"/>
<circle cx="101.5" cy="66.3" r="1.05" fill="#b4b8bc"/>
<circle cx="89.4" cy="71.8" r="1.05" fill="#b4b8bc"/>
<circle cx="102.8" cy="73.6" r="1.05" fill="#b4b8bc"/>
<circle cx="104.2" cy="65.7" r="1.05" fill="#b4b8bc"/>
<circle cx="103.0" cy="63.1" r="1.05" fill="#b4b8bc"/>
<circle cx="111.8" cy="76.3" r="1.05" fill="#e5412f"/>
<circle cx="106.5" cy="70.2" r="1.05" fill="#b4b8bc"/>
<circle cx="93.8" cy="75.7" r="1.05" fill="#b4b8bc"/>
<circle cx="99.1" cy="67.0" r="1.05" fill="#b4b8bc"/>
<circle cx="96.9" cy="68.2" r="1.05" fill="#b4b8bc"/>
<circle cx="99.2" cy="69.8" r="1.05" fill="#b4b8bc"/>
<circle cx="92.6" cy="69.9" r="1.05" fill="#b4b8bc"/>
<circle cx="82.4" cy="68.0" r="1.05" fill="#e5412f"/>
<circle cx="91.6" cy="70.0" r="1.05" fill="#b4b8bc"/>
<circle cx="85.4" cy="65.4" r="1.05" fill="#e5412f"/>
<circle cx="100.5" cy="72.1" r="1.05" fill="#b4b8bc"/>
<circle cx="90.7" cy="73.1" r="1.05" fill="#b4b8bc"/>
<circle cx="98.4" cy="71.6" r="1.05" fill="#b4b8bc"/>
<circle cx="96.1" cy="72.3" r="1.05" fill="#b4b8bc"/>
<circle cx="106.5" cy="64.9" r="1.05" fill="#b4b8bc"/>
<circle cx="105.6" cy="58.8" r="1.05" fill="#b4b8bc"/>
<circle cx="96.2" cy="67.5" r="1.05" fill="#b4b8bc"/>
<circle cx="98.4" cy="61.4" r="1.05" fill="#b4b8bc"/>
<circle cx="108.8" cy="63.0" r="1.05" fill="#b4b8bc"/>
<circle cx="107.1" cy="70.5" r="1.05" fill="#b4b8bc"/>
<circle cx="98.0" cy="75.9" r="1.05" fill="#b4b8bc"/>
<circle cx="93.2" cy="68.0" r="1.05" fill="#b4b8bc"/>
<circle cx="108.3" cy="80.4" r="1.05" fill="#b4b8bc"/>
<circle cx="108.9" cy="77.5" r="1.05" fill="#b4b8bc"/>
<circle cx="107.1" cy="68.9" r="1.05" fill="#b4b8bc"/>
<circle cx="99.8" cy="68.1" r="1.05" fill="#b4b8bc"/>
<circle cx="96.7" cy="71.2" r="1.05" fill="#b4b8bc"/>
<circle cx="93.2" cy="70.8" r="1.05" fill="#b4b8bc"/>
<circle cx="98.9" cy="74.8" r="1.05" fill="#b4b8bc"/>
<circle cx="108.6" cy="65.4" r="1.05" fill="#b4b8bc"/>
<circle cx="96.0" cy="66.6" r="1.05" fill="#b4b8bc"/>
<circle cx="102.3" cy="73.3" r="1.05" fill="#b4b8bc"/>
<circle cx="95.5" cy="70.9" r="1.05" fill="#b4b8bc"/>
<circle cx="90.1" cy="70.3" r="1.05" fill="#b4b8bc"/>
<circle cx="102.0" cy="63.8" r="1.05" fill="#b4b8bc"/>
<circle cx="94.1" cy="63.5" r="1.05" fill="#b4b8bc"/>
<circle cx="101.8" cy="72.2" r="1.05" fill="#b4b8bc"/>
<circle cx="108.2" cy="75.8" r="1.05" fill="#b4b8bc"/>
<circle cx="90.1" cy="66.3" r="1.05" fill="#b4b8bc"/>
<circle cx="102.3" cy="73.4" r="1.05" fill="#b4b8bc"/>
<circle cx="106.8" cy="72.6" r="1.05" fill="#b4b8bc"/>
<circle cx="92.6" cy="70.4" r="1.05" fill="#b4b8bc"/>
<circle cx="74.0" cy="64.1" r="1.05" fill="#e5412f"/>
<circle cx="94.2" cy="72.7" r="1.05" fill="#b4b8bc"/>
<circle cx="103.9" cy="60.6" r="1.05" fill="#b4b8bc"/>
<circle cx="99.7" cy="69.7" r="1.05" fill="#b4b8bc"/>
<circle cx="101.0" cy="70.3" r="1.05" fill="#b4b8bc"/>
<circle cx="92.7" cy="74.8" r="1.05" fill="#b4b8bc"/>
<circle cx="90.3" cy="64.0" r="1.05" fill="#b4b8bc"/>
<circle cx="80.6" cy="82.2" r="1.05" fill="#e5412f"/>
<circle cx="94.8" cy="74.0" r="1.05" fill="#b4b8bc"/>
<circle cx="62.0" cy="62.0" r="1.05" fill="#e5412f"/>
<circle cx="96.8" cy="56.8" r="1.05" fill="#b4b8bc"/>
<circle cx="92.2" cy="73.3" r="1.05" fill="#b4b8bc"/>
<circle cx="90.4" cy="73.7" r="1.05" fill="#b4b8bc"/>
<circle cx="107.1" cy="71.5" r="1.05" fill="#b4b8bc"/>
<circle cx="103.4" cy="67.7" r="1.05" fill="#b4b8bc"/>
<circle cx="97.3" cy="77.0" r="1.05" fill="#b4b8bc"/>
<circle cx="96.7" cy="84.2" r="1.05" fill="#b4b8bc"/>
<circle cx="53.7" cy="65.5" r="1.05" fill="#e5412f"/>
<circle cx="103.6" cy="66.5" r="1.05" fill="#b4b8bc"/>
<circle cx="104.5" cy="68.2" r="1.05" fill="#b4b8bc"/>
<circle cx="83.7" cy="71.3" r="1.05" fill="#e5412f"/>
<circle cx="95.7" cy="76.6" r="1.05" fill="#b4b8bc"/>
<circle cx="96.4" cy="78.8" r="1.05" fill="#b4b8bc"/>
<circle cx="102.1" cy="67.8" r="1.05" fill="#b4b8bc"/>
<circle cx="92.1" cy="78.0" r="1.05" fill="#b4b8bc"/>
<circle cx="113.0" cy="69.6" r="1.05" fill="#e5412f"/>
<circle cx="106.4" cy="79.4" r="1.05" fill="#b4b8bc"/>
<circle cx="90.2" cy="71.5" r="1.05" fill="#b4b8bc"/>
<circle cx="89.3" cy="67.0" r="1.05" fill="#b4b8bc"/>
<circle cx="105.0" cy="74.0" r="1.05" fill="#b4b8bc"/>
<circle cx="93.6" cy="73.9" r="1.05" fill="#b4b8bc"/>
<circle cx="64.3" cy="68.8" r="1.05" fill="#e5412f"/>
<circle cx="90.1" cy="73.2" r="1.05" fill="#b4b8bc"/>
<circle cx="111.3" cy="61.8" r="1.05" fill="#e5412f"/>
<circle cx="108.4" cy="66.3" r="1.05" fill="#b4b8bc"/>
<circle cx="98.0" cy="78.3" r="1.05" fill="#b4b8bc"/>
<circle cx="107.1" cy="65.5" r="1.05" fill="#b4b8bc"/>
<circle cx="104.0" cy="75.2" r="1.05" fill="#b4b8bc"/>
<circle cx="97.8" cy="78.0" r="1.05" fill="#b4b8bc"/>
<circle cx="85.4" cy="72.9" r="1.05" fill="#e5412f"/>
<circle cx="100.6" cy="80.8" r="1.05" fill="#b4b8bc"/>
<circle cx="95.9" cy="71.5" r="1.05" fill="#b4b8bc"/>
<circle cx="107.2" cy="71.3" r="1.05" fill="#b4b8bc"/>
<circle cx="85.7" cy="81.0" r="1.05" fill="#e5412f"/>
<circle cx="95.8" cy="69.7" r="1.05" fill="#b4b8bc"/>
<circle cx="98.4" cy="69.6" r="1.05" fill="#b4b8bc"/>
<circle cx="102.7" cy="65.4" r="1.05" fill="#b4b8bc"/>
<circle cx="101.5" cy="71.8" r="1.05" fill="#b4b8bc"/>
<circle cx="91.9" cy="81.4" r="1.05" fill="#b4b8bc"/>
<circle cx="93.0" cy="62.7" r="1.05" fill="#b4b8bc"/>
<circle cx="90.0" cy="70.5" r="1.05" fill="#b4b8bc"/>
<circle cx="108.7" cy="72.3" r="1.05" fill="#b4b8bc"/>
<circle cx="104.6" cy="68.4" r="1.05" fill="#b4b8bc"/>
<circle cx="91.1" cy="66.1" r="1.05" fill="#b4b8bc"/>
<circle cx="95.5" cy="65.8" r="1.05" fill="#b4b8bc"/>
<circle cx="104.8" cy="71.1" r="1.05" fill="#b4b8bc"/>
<circle cx="111.3" cy="72.1" r="1.05" fill="#e5412f"/>
<circle cx="98.6" cy="68.2" r="1.05" fill="#b4b8bc"/>
<circle cx="95.9" cy="61.9" r="1.05" fill="#b4b8bc"/>
<circle cx="106.2" cy="69.2" r="1.05" fill="#b4b8bc"/>
<circle cx="91.6" cy="83.1" r="1.05" fill="#b4b8bc"/>
<circle cx="92.6" cy="62.9" r="1.05" fill="#b4b8bc"/>
<circle cx="101.1" cy="66.0" r="1.05" fill="#b4b8bc"/>
<circle cx="86.4" cy="71.7" r="1.05" fill="#e5412f"/>
<circle cx="94.6" cy="83.8" r="1.05" fill="#b4b8bc"/>
<circle cx="105.3" cy="74.0" r="1.05" fill="#b4b8bc"/>
<circle cx="94.2" cy="72.5" r="1.05" fill="#b4b8bc"/>
<circle cx="98.2" cy="65.8" r="1.05" fill="#b4b8bc"/>
<circle cx="93.4" cy="74.1" r="1.05" fill="#b4b8bc"/>
<circle cx="104.9" cy="66.5" r="1.05" fill="#b4b8bc"/>
<circle cx="93.5" cy="78.3" r="1.05" fill="#b4b8bc"/>
<circle cx="96.5" cy="69.8" r="1.05" fill="#b4b8bc"/>
<circle cx="97.2" cy="70.6" r="1.05" fill="#b4b8bc"/>
<circle cx="84.0" cy="77.6" r="1.05" fill="#e5412f"/>
<circle cx="109.1" cy="70.0" r="1.05" fill="#b4b8bc"/>
<circle cx="99.1" cy="74.1" r="1.05" fill="#b4b8bc"/>
<circle cx="85.0" cy="74.6" r="1.05" fill="#e5412f"/>
<circle cx="93.4" cy="73.1" r="1.05" fill="#b4b8bc"/>
<circle cx="107.7" cy="70.5" r="1.05" fill="#b4b8bc"/>
<circle cx="107.3" cy="74.1" r="1.05" fill="#b4b8bc"/>
<circle cx="88.1" cy="71.9" r="1.05" fill="#e5412f"/>
<circle cx="91.9" cy="74.3" r="1.05" fill="#b4b8bc"/>
<circle cx="102.2" cy="62.2" r="1.05" fill="#b4b8bc"/>
<circle cx="97.9" cy="64.5" r="1.05" fill="#b4b8bc"/>
<circle cx="90.1" cy="67.1" r="1.05" fill="#b4b8bc"/>
<circle cx="109.9" cy="74.0" r="1.05" fill="#e5412f"/>
<circle cx="109.8" cy="66.1" r="1.05" fill="#e5412f"/>
<circle cx="107.2" cy="72.1" r="1.05" fill="#b4b8bc"/>
<circle cx="95.6" cy="78.0" r="1.05" fill="#b4b8bc"/>
<circle cx="94.6" cy="74.6" r="1.05" fill="#b4b8bc"/>
<circle cx="93.4" cy="72.0" r="1.05" fill="#b4b8bc"/>
<circle cx="102.6" cy="66.1" r="1.05" fill="#b4b8bc"/>
<circle cx="100.2" cy="58.4" r="1.05" fill="#b4b8bc"/>
<circle cx="103.7" cy="72.6" r="1.05" fill="#b4b8bc"/>
<circle cx="101.3" cy="64.6" r="1.05" fill="#b4b8bc"/>
<circle cx="106.0" cy="73.0" r="1.05" fill="#b4b8bc"/>
<circle cx="95.9" cy="70.1" r="1.05" fill="#b4b8bc"/>
<circle cx="93.4" cy="66.6" r="1.05" fill="#b4b8bc"/>
<circle cx="102.6" cy="63.5" r="1.05" fill="#b4b8bc"/>
<circle cx="93.3" cy="73.4" r="1.05" fill="#b4b8bc"/>
<circle cx="98.0" cy="66.7" r="1.05" fill="#b4b8bc"/>
<circle cx="95.9" cy="84.7" r="1.05" fill="#b4b8bc"/>
<circle cx="103.5" cy="76.2" r="1.05" fill="#b4b8bc"/>
<circle cx="96.2" cy="70.7" r="1.05" fill="#b4b8bc"/>
<circle cx="101.8" cy="66.5" r="1.05" fill="#b4b8bc"/>
<circle cx="93.6" cy="73.0" r="1.05" fill="#b4b8bc"/>
<circle cx="91.8" cy="76.8" r="1.05" fill="#b4b8bc"/>
<circle cx="92.5" cy="67.9" r="1.05" fill="#b4b8bc"/>
<circle cx="97.9" cy="67.5" r="1.05" fill="#b4b8bc"/>
<circle cx="106.1" cy="79.1" r="1.05" fill="#b4b8bc"/>
<circle cx="98.7" cy="63.8" r="1.05" fill="#b4b8bc"/>
<circle cx="95.7" cy="57.8" r="1.05" fill="#b4b8bc"/>
<circle cx="90.6" cy="67.7" r="1.05" fill="#b4b8bc"/>
<circle cx="92.7" cy="70.5" r="1.05" fill="#b4b8bc"/>
<circle cx="105.7" cy="80.5" r="1.05" fill="#b4b8bc"/>
<circle cx="94.0" cy="64.5" r="1.05" fill="#b4b8bc"/>
<circle cx="103.3" cy="68.9" r="1.05" fill="#b4b8bc"/>
<circle cx="79.4" cy="75.4" r="1.05" fill="#e5412f"/>
<circle cx="95.5" cy="73.9" r="1.05" fill="#b4b8bc"/>
<circle cx="91.0" cy="67.3" r="1.05" fill="#b4b8bc"/>
<circle cx="90.3" cy="72.5" r="1.05" fill="#b4b8bc"/>
<circle cx="103.8" cy="79.4" r="1.05" fill="#b4b8bc"/>
<circle cx="101.7" cy="74.0" r="1.05" fill="#b4b8bc"/>
<circle cx="104.0" cy="77.6" r="1.05" fill="#b4b8bc"/>
<circle cx="107.2" cy="71.1" r="1.05" fill="#b4b8bc"/>
<circle cx="93.3" cy="75.4" r="1.05" fill="#b4b8bc"/>
<circle cx="98.7" cy="69.5" r="1.05" fill="#b4b8bc"/>
<circle cx="105.0" cy="59.7" r="1.05" fill="#b4b8bc"/>
<circle cx="93.2" cy="78.5" r="1.05" fill="#b4b8bc"/>
<circle cx="108.7" cy="71.0" r="1.05" fill="#b4b8bc"/>
<circle cx="101.7" cy="67.5" r="1.05" fill="#b4b8bc"/>
<circle cx="89.4" cy="67.6" r="1.05" fill="#b4b8bc"/>
<circle cx="104.4" cy="73.4" r="1.05" fill="#b4b8bc"/>
<circle cx="88.7" cy="78.6" r="1.05" fill="#b4b8bc"/>
<circle cx="98.2" cy="81.4" r="1.05" fill="#b4b8bc"/>
<circle cx="59.0" cy="78.5" r="1.05" fill="#e5412f"/>
<circle cx="97.6" cy="61.2" r="1.05" fill="#b4b8bc"/>
<circle cx="92.4" cy="79.1" r="1.05" fill="#b4b8bc"/>
<circle cx="83.2" cy="72.5" r="1.05" fill="#e5412f"/>
<circle cx="106.6" cy="73.3" r="1.05" fill="#b4b8bc"/>
<circle cx="94.6" cy="67.1" r="1.05" fill="#b4b8bc"/>
<circle cx="91.6" cy="70.4" r="1.05" fill="#b4b8bc"/>
<circle cx="107.3" cy="73.6" r="1.05" fill="#b4b8bc"/>
<circle cx="91.6" cy="77.5" r="1.05" fill="#b4b8bc"/>
<circle cx="101.9" cy="69.0" r="1.05" fill="#b4b8bc"/>
<circle cx="101.3" cy="68.4" r="1.05" fill="#b4b8bc"/>
<circle cx="99.4" cy="60.7" r="1.05" fill="#b4b8bc"/>
<circle cx="107.2" cy="71.7" r="1.05" fill="#b4b8bc"/>
<circle cx="92.3" cy="63.0" r="1.05" fill="#b4b8bc"/>
<circle cx="98.0" cy="74.1" r="1.05" fill="#b4b8bc"/>
<circle cx="101.6" cy="66.5" r="1.05" fill="#b4b8bc"/>
<circle cx="96.4" cy="70.2" r="1.05" fill="#b4b8bc"/>
<circle cx="105.8" cy="74.6" r="1.05" fill="#b4b8bc"/>
<circle cx="112.5" cy="71.7" r="1.05" fill="#e5412f"/>
<circle cx="95.7" cy="72.8" r="1.05" fill="#b4b8bc"/>
<circle cx="98.8" cy="74.3" r="1.05" fill="#b4b8bc"/>
<circle cx="95.0" cy="73.3" r="1.05" fill="#b4b8bc"/>
<circle cx="110.1" cy="72.9" r="1.05" fill="#e5412f"/>
<circle cx="98.1" cy="82.7" r="1.05" fill="#b4b8bc"/>
<circle cx="89.1" cy="76.3" r="1.05" fill="#b4b8bc"/>
<circle cx="89.3" cy="63.0" r="1.05" fill="#b4b8bc"/>
<circle cx="97.3" cy="71.8" r="1.05" fill="#b4b8bc"/>
<circle cx="109.1" cy="67.5" r="1.05" fill="#b4b8bc"/>
<circle cx="93.4" cy="62.4" r="1.05" fill="#b4b8bc"/>
<circle cx="93.0" cy="68.9" r="1.05" fill="#b4b8bc"/>
<circle cx="115.2" cy="64.1" r="1.05" fill="#e5412f"/>
<circle cx="92.7" cy="74.4" r="1.05" fill="#b4b8bc"/>
<circle cx="104.8" cy="57.8" r="1.05" fill="#b4b8bc"/>
<circle cx="107.1" cy="77.7" r="1.05" fill="#b4b8bc"/>
<circle cx="103.7" cy="73.4" r="1.05" fill="#b4b8bc"/>
<circle cx="110.4" cy="76.0" r="1.05" fill="#e5412f"/>
<circle cx="119.2" cy="74.4" r="1.05" fill="#e5412f"/>
<circle cx="89.6" cy="73.6" r="1.05" fill="#b4b8bc"/>
<circle cx="107.4" cy="72.9" r="1.05" fill="#b4b8bc"/>
<circle cx="101.4" cy="75.6" r="1.05" fill="#b4b8bc"/>
<circle cx="97.8" cy="77.0" r="1.05" fill="#b4b8bc"/>
<circle cx="108.8" cy="71.6" r="1.05" fill="#b4b8bc"/>
<circle cx="98.3" cy="71.8" r="1.05" fill="#b4b8bc"/>
<circle cx="92.5" cy="87.8" r="1.05" fill="#b4b8bc"/>
<circle cx="97.4" cy="65.3" r="1.05" fill="#b4b8bc"/>
<circle cx="105.9" cy="77.9" r="1.05" fill="#b4b8bc"/>
<circle cx="91.7" cy="71.0" r="1.05" fill="#b4b8bc"/>
<circle cx="91.4" cy="73.0" r="1.05" fill="#b4b8bc"/>
<circle cx="107.8" cy="61.1" r="1.05" fill="#b4b8bc"/>
<circle cx="97.3" cy="68.9" r="1.05" fill="#b4b8bc"/>
<circle cx="58.5" cy="70.0" r="1.05" fill="#e5412f"/>
<circle cx="100.1" cy="68.0" r="1.05" fill="#b4b8bc"/>
<circle cx="108.7" cy="70.9" r="1.05" fill="#b4b8bc"/>
<circle cx="90.7" cy="64.2" r="1.05" fill="#b4b8bc"/>
<circle cx="96.9" cy="68.3" r="1.05" fill="#b4b8bc"/>
<circle cx="96.4" cy="77.3" r="1.05" fill="#b4b8bc"/>
<circle cx="110.9" cy="80.8" r="1.05" fill="#e5412f"/>
<circle cx="93.0" cy="69.0" r="1.05" fill="#b4b8bc"/>
<circle cx="89.8" cy="69.6" r="1.05" fill="#b4b8bc"/>
<circle cx="98.3" cy="69.3" r="1.05" fill="#b4b8bc"/>
<circle cx="106.1" cy="68.6" r="1.05" fill="#b4b8bc"/>
<circle cx="100.5" cy="59.9" r="1.05" fill="#b4b8bc"/>
<circle cx="88.6" cy="70.0" r="1.05" fill="#b4b8bc"/>
<circle cx="90.5" cy="66.6" r="1.05" fill="#b4b8bc"/>
<circle cx="76.2" cy="67.7" r="1.05" fill="#e5412f"/>
<circle cx="85.0" cy="71.3" r="1.05" fill="#e5412f"/>
<circle cx="92.4" cy="78.7" r="1.05" fill="#b4b8bc"/>
<circle cx="91.5" cy="74.0" r="1.05" fill="#b4b8bc"/>
<circle cx="93.9" cy="65.5" r="1.05" fill="#b4b8bc"/>
<circle cx="102.5" cy="74.8" r="1.05" fill="#b4b8bc"/>
<circle cx="104.8" cy="74.5" r="1.05" fill="#b4b8bc"/>
<circle cx="77.3" cy="73.4" r="1.05" fill="#e5412f"/>
<circle cx="110.9" cy="70.9" r="1.05" fill="#e5412f"/>
<circle cx="105.9" cy="74.4" r="1.05" fill="#b4b8bc"/>
<circle cx="101.2" cy="68.7" r="1.05" fill="#b4b8bc"/>
<circle cx="107.3" cy="71.0" r="1.05" fill="#b4b8bc"/>
<circle cx="85.5" cy="71.9" r="1.05" fill="#e5412f"/>
<circle cx="105.2" cy="80.0" r="1.05" fill="#b4b8bc"/>
<circle cx="107.4" cy="67.7" r="1.05" fill="#b4b8bc"/>
<circle cx="103.7" cy="77.6" r="1.05" fill="#b4b8bc"/>
<circle cx="108.8" cy="74.7" r="1.05" fill="#b4b8bc"/>
<circle cx="101.2" cy="77.3" r="1.05" fill="#b4b8bc"/>
<circle cx="101.3" cy="75.2" r="1.05" fill="#b4b8bc"/>
<circle cx="104.8" cy="74.5" r="1.05" fill="#b4b8bc"/>
<circle cx="92.7" cy="72.6" r="1.05" fill="#b4b8bc"/>
<circle cx="103.7" cy="73.9" r="1.05" fill="#b4b8bc"/>
<circle cx="104.7" cy="58.8" r="1.05" fill="#b4b8bc"/>
<circle cx="103.9" cy="73.3" r="1.05" fill="#b4b8bc"/>
<circle cx="101.5" cy="67.8" r="1.05" fill="#b4b8bc"/>
<circle cx="90.7" cy="77.9" r="1.05" fill="#b4b8bc"/>
<circle cx="99.1" cy="69.0" r="1.05" fill="#b4b8bc"/>
<circle cx="101.3" cy="76.4" r="1.05" fill="#b4b8bc"/>
<circle cx="95.0" cy="71.9" r="1.05" fill="#b4b8bc"/>
<circle cx="98.2" cy="63.1" r="1.05" fill="#b4b8bc"/>
<circle cx="98.4" cy="67.3" r="1.05" fill="#b4b8bc"/>
<circle cx="84.6" cy="69.2" r="1.05" fill="#e5412f"/>
<circle cx="93.4" cy="61.8" r="1.05" fill="#b4b8bc"/>
<circle cx="103.1" cy="68.9" r="1.05" fill="#b4b8bc"/>
<circle cx="94.1" cy="75.3" r="1.05" fill="#b4b8bc"/>
<circle cx="100.2" cy="65.4" r="1.05" fill="#b4b8bc"/>
<circle cx="104.7" cy="60.5" r="1.05" fill="#b4b8bc"/>
<circle cx="102.3" cy="66.7" r="1.05" fill="#b4b8bc"/>
<circle cx="74.7" cy="73.3" r="1.05" fill="#e5412f"/>
<circle cx="100.6" cy="75.6" r="1.05" fill="#b4b8bc"/>
<circle cx="95.9" cy="67.4" r="1.05" fill="#b4b8bc"/>
<circle cx="98.1" cy="71.4" r="1.05" fill="#b4b8bc"/>
<circle cx="115.8" cy="70.6" r="1.05" fill="#e5412f"/>
<circle cx="91.3" cy="70.3" r="1.05" fill="#b4b8bc"/>
<circle cx="93.8" cy="67.1" r="1.05" fill="#b4b8bc"/>
<circle cx="96.0" cy="80.6" r="1.05" fill="#b4b8bc"/>
<circle cx="96.0" cy="71.4" r="1.05" fill="#b4b8bc"/>
<circle cx="95.9" cy="75.0" r="1.05" fill="#b4b8bc"/>
<circle cx="102.1" cy="65.2" r="1.05" fill="#b4b8bc"/>
<circle cx="103.3" cy="67.6" r="1.05" fill="#b4b8bc"/>
<circle cx="93.6" cy="75.2" r="1.05" fill="#b4b8bc"/>
<circle cx="106.1" cy="75.4" r="1.05" fill="#b4b8bc"/>
<circle cx="103.1" cy="71.9" r="1.05" fill="#b4b8bc"/>
<circle cx="101.0" cy="65.1" r="1.05" fill="#b4b8bc"/>
<circle cx="89.9" cy="74.9" r="1.05" fill="#b4b8bc"/>
<circle cx="108.9" cy="80.2" r="1.05" fill="#b4b8bc"/>
<circle cx="106.6" cy="70.7" r="1.05" fill="#b4b8bc"/>
<circle cx="90.7" cy="69.7" r="1.05" fill="#b4b8bc"/>
<circle cx="88.8" cy="77.0" r="1.05" fill="#b4b8bc"/>
<circle cx="102.9" cy="70.6" r="1.05" fill="#b4b8bc"/>
<circle cx="93.8" cy="72.6" r="1.05" fill="#b4b8bc"/>
<circle cx="91.3" cy="79.1" r="1.05" fill="#b4b8bc"/>
<circle cx="102.8" cy="75.2" r="1.05" fill="#b4b8bc"/>
<circle cx="84.9" cy="72.9" r="1.05" fill="#e5412f"/>
<circle cx="101.6" cy="66.1" r="1.05" fill="#b4b8bc"/>
<circle cx="97.9" cy="73.2" r="1.05" fill="#b4b8bc"/>
<circle cx="96.9" cy="66.6" r="1.05" fill="#b4b8bc"/>
<circle cx="100.1" cy="66.1" r="1.05" fill="#b4b8bc"/>
<circle cx="89.0" cy="75.0" r="1.05" fill="#b4b8bc"/>
<circle cx="98.6" cy="75.3" r="1.05" fill="#b4b8bc"/>
<circle cx="96.6" cy="70.5" r="1.05" fill="#b4b8bc"/>
<circle cx="108.4" cy="61.9" r="1.05" fill="#b4b8bc"/>
<circle cx="96.6" cy="71.7" r="1.05" fill="#b4b8bc"/>
<circle cx="70.0" cy="70.2" r="1.05" fill="#e5412f"/>
<circle cx="108.0" cy="69.1" r="1.05" fill="#b4b8bc"/>
<circle cx="91.2" cy="77.3" r="1.05" fill="#b4b8bc"/>
<circle cx="113.2" cy="62.3" r="1.05" fill="#e5412f"/>
<circle cx="96.4" cy="80.7" r="1.05" fill="#b4b8bc"/>
<circle cx="101.0" cy="75.6" r="1.05" fill="#b4b8bc"/>
<circle cx="70.3" cy="73.1" r="1.05" fill="#e5412f"/>
<circle cx="89.5" cy="76.3" r="1.05" fill="#b4b8bc"/>
<circle cx="99.1" cy="67.2" r="1.05" fill="#b4b8bc"/>
<circle cx="95.0" cy="70.2" r="1.05" fill="#b4b8bc"/>
<circle cx="97.3" cy="60.2" r="1.05" fill="#b4b8bc"/>
<circle cx="89.7" cy="68.3" r="1.05" fill="#b4b8bc"/>
<circle cx="96.1" cy="73.8" r="1.05" fill="#b4b8bc"/>
<circle cx="92.9" cy="63.2" r="1.05" fill="#b4b8bc"/>
<circle cx="103.2" cy="77.7" r="1.05" fill="#b4b8bc"/>
<circle cx="96.4" cy="64.0" r="1.05" fill="#b4b8bc"/>
<circle cx="102.1" cy="84.5" r="1.05" fill="#b4b8bc"/>
<circle cx="93.8" cy="78.9" r="1.05" fill="#b4b8bc"/>
<circle cx="103.1" cy="71.6" r="1.05" fill="#b4b8bc"/>
<circle cx="95.5" cy="66.6" r="1.05" fill="#b4b8bc"/>
<circle cx="104.9" cy="61.1" r="1.05" fill="#b4b8bc"/>
<circle cx="89.8" cy="69.7" r="1.05" fill="#b4b8bc"/>
<circle cx="89.3" cy="66.0" r="1.05" fill="#b4b8bc"/>
<circle cx="105.0" cy="70.4" r="1.05" fill="#b4b8bc"/>
<circle cx="96.1" cy="78.0" r="1.05" fill="#b4b8bc"/>
<circle cx="100.6" cy="75.8" r="1.05" fill="#b4b8bc"/>
<circle cx="103.5" cy="73.1" r="1.05" fill="#b4b8bc"/>
<circle cx="93.4" cy="77.3" r="1.05" fill="#b4b8bc"/>
<circle cx="101.7" cy="67.6" r="1.05" fill="#b4b8bc"/>
<circle cx="93.6" cy="69.7" r="1.05" fill="#b4b8bc"/>
<circle cx="66.9" cy="69.6" r="1.05" fill="#e5412f"/>
<circle cx="90.6" cy="69.3" r="1.05" fill="#b4b8bc"/>
<circle cx="86.3" cy="89.4" r="1.05" fill="#b4b8bc"/>
<circle cx="108.0" cy="65.8" r="1.05" fill="#b4b8bc"/>
<circle cx="91.9" cy="79.9" r="1.05" fill="#b4b8bc"/>
<circle cx="98.5" cy="75.1" r="1.05" fill="#b4b8bc"/>
<circle cx="107.1" cy="75.0" r="1.05" fill="#b4b8bc"/>
<circle cx="89.6" cy="67.0" r="1.05" fill="#b4b8bc"/>
<circle cx="100.7" cy="72.6" r="1.05" fill="#b4b8bc"/>
<circle cx="101.8" cy="65.1" r="1.05" fill="#b4b8bc"/>
<circle cx="86.7" cy="85.6" r="1.05" fill="#b4b8bc"/>
<circle cx="106.4" cy="60.8" r="1.05" fill="#b4b8bc"/>
<circle cx="96.5" cy="72.0" r="1.05" fill="#b4b8bc"/>
<circle cx="104.4" cy="71.1" r="1.05" fill="#b4b8bc"/>
<circle cx="97.7" cy="74.0" r="1.05" fill="#b4b8bc"/>
<circle cx="96.7" cy="70.2" r="1.05" fill="#b4b8bc"/>
<circle cx="89.2" cy="71.3" r="1.05" fill="#b4b8bc"/>
<circle cx="93.9" cy="71.0" r="1.05" fill="#b4b8bc"/>
<circle cx="103.3" cy="74.4" r="1.05" fill="#b4b8bc"/>
<circle cx="103.8" cy="64.3" r="1.05" fill="#b4b8bc"/>
<circle cx="101.0" cy="66.2" r="1.05" fill="#b4b8bc"/>
<circle cx="97.5" cy="71.4" r="1.05" fill="#b4b8bc"/>
<circle cx="102.9" cy="65.2" r="1.05" fill="#b4b8bc"/>
<circle cx="102.6" cy="69.8" r="1.05" fill="#b4b8bc"/>
<circle cx="101.6" cy="72.4" r="1.05" fill="#b4b8bc"/>
<circle cx="103.6" cy="65.7" r="1.05" fill="#b4b8bc"/>
<circle cx="92.7" cy="65.5" r="1.05" fill="#b4b8bc"/>
<circle cx="104.7" cy="73.1" r="1.05" fill="#b4b8bc"/>
<circle cx="107.8" cy="75.7" r="1.05" fill="#b4b8bc"/>
<circle cx="100.4" cy="80.7" r="1.05" fill="#b4b8bc"/>
<circle cx="95.7" cy="77.9" r="1.05" fill="#b4b8bc"/>
<circle cx="106.5" cy="84.2" r="1.05" fill="#b4b8bc"/>
<circle cx="98.9" cy="68.6" r="1.05" fill="#b4b8bc"/>
<circle cx="88.4" cy="69.8" r="1.05" fill="#e5412f"/>
<circle cx="83.9" cy="86.4" r="1.05" fill="#b4b8bc"/>
<circle cx="109.6" cy="75.5" r="1.05" fill="#e5412f"/>
<circle cx="99.0" cy="63.1" r="1.05" fill="#b4b8bc"/>
<circle cx="96.0" cy="72.5" r="1.05" fill="#b4b8bc"/>
<circle cx="95.4" cy="68.6" r="1.05" fill="#b4b8bc"/>
<circle cx="90.0" cy="75.5" r="1.05" fill="#b4b8bc"/>
<circle cx="80.4" cy="74.1" r="1.05" fill="#e5412f"/>
<circle cx="105.6" cy="75.5" r="1.05" fill="#b4b8bc"/>
<circle cx="107.7" cy="61.6" r="1.05" fill="#b4b8bc"/>
<circle cx="106.4" cy="71.0" r="1.05" fill="#b4b8bc"/>
<circle cx="106.4" cy="70.6" r="1.05" fill="#b4b8bc"/>
<circle cx="91.2" cy="75.9" r="1.05" fill="#b4b8bc"/>
<circle cx="90.4" cy="73.4" r="1.05" fill="#b4b8bc"/>
<circle cx="91.0" cy="74.1" r="1.05" fill="#b4b8bc"/>
<circle cx="83.6" cy="66.2" r="1.05" fill="#e5412f"/>
<circle cx="104.8" cy="74.2" r="1.05" fill="#b4b8bc"/>
<circle cx="76.2" cy="75.3" r="1.05" fill="#e5412f"/>
<circle cx="58.8" cy="75.0" r="1.05" fill="#e5412f"/>
<circle cx="91.5" cy="66.0" r="1.05" fill="#b4b8bc"/>
<circle cx="92.4" cy="77.7" r="1.05" fill="#b4b8bc"/>
<circle cx="100.6" cy="77.7" r="1.05" fill="#b4b8bc"/>
<circle cx="94.6" cy="66.8" r="1.05" fill="#b4b8bc"/>
<circle cx="64.1" cy="72.9" r="1.05" fill="#e5412f"/>
<circle cx="82.4" cy="68.8" r="1.05" fill="#e5412f"/>
<circle cx="72.7" cy="75.0" r="1.05" fill="#e5412f"/>
<circle cx="86.2" cy="83.4" r="1.05" fill="#b4b8bc"/>
<circle cx="95.2" cy="65.2" r="1.05" fill="#b4b8bc"/>
<circle cx="93.9" cy="78.3" r="1.05" fill="#b4b8bc"/>
<circle cx="93.5" cy="70.9" r="1.05" fill="#b4b8bc"/>
<circle cx="87.9" cy="69.6" r="1.05" fill="#e5412f"/>
<circle cx="106.1" cy="70.3" r="1.05" fill="#b4b8bc"/>
<circle cx="96.6" cy="65.5" r="1.05" fill="#b4b8bc"/>
<circle cx="89.4" cy="72.5" r="1.05" fill="#b4b8bc"/>
<circle cx="89.4" cy="83.1" r="1.05" fill="#b4b8bc"/>
<circle cx="98.3" cy="68.3" r="1.05" fill="#b4b8bc"/>
<circle cx="95.5" cy="75.5" r="1.05" fill="#b4b8bc"/>
<circle cx="100.9" cy="64.5" r="1.05" fill="#b4b8bc"/>
<circle cx="98.0" cy="76.1" r="1.05" fill="#b4b8bc"/>
<circle cx="97.7" cy="58.6" r="1.05" fill="#b4b8bc"/>
<circle cx="86.8" cy="75.3" r="1.05" fill="#e5412f"/>
<circle cx="90.7" cy="70.7" r="1.05" fill="#b4b8bc"/>
<circle cx="88.9" cy="65.6" r="1.05" fill="#b4b8bc"/>
<circle cx="102.1" cy="69.6" r="1.05" fill="#b4b8bc"/>
<circle cx="83.5" cy="60.7" r="1.05" fill="#e5412f"/>
<circle cx="107.0" cy="66.8" r="1.05" fill="#b4b8bc"/>
<circle cx="110.2" cy="68.1" r="1.05" fill="#e5412f"/>
<circle cx="99.3" cy="64.9" r="1.05" fill="#b4b8bc"/>
<circle cx="102.6" cy="75.4" r="1.05" fill="#b4b8bc"/>
<circle cx="88.9" cy="74.2" r="1.05" fill="#b4b8bc"/>
<circle cx="97.4" cy="74.5" r="1.05" fill="#b4b8bc"/>
<circle cx="101.4" cy="78.1" r="1.05" fill="#b4b8bc"/>
<circle cx="100.7" cy="74.7" r="1.05" fill="#b4b8bc"/>
<circle cx="77.8" cy="79.1" r="1.05" fill="#e5412f"/>
<circle cx="83.6" cy="65.7" r="1.05" fill="#e5412f"/>
<circle cx="109.1" cy="64.9" r="1.05" fill="#b4b8bc"/>
<circle cx="100.2" cy="68.4" r="1.05" fill="#b4b8bc"/>
<circle cx="103.1" cy="74.0" r="1.05" fill="#b4b8bc"/>
<circle cx="96.2" cy="67.7" r="1.05" fill="#b4b8bc"/>
<circle cx="90.5" cy="77.6" r="1.05" fill="#b4b8bc"/>
<circle cx="152.0" cy="69.0" r="1.05" fill="#e5412f"/>
<circle cx="101.1" cy="72.1" r="1.05" fill="#b4b8bc"/>
<circle cx="88.8" cy="72.3" r="1.05" fill="#b4b8bc"/>
<circle cx="107.4" cy="69.0" r="1.05" fill="#b4b8bc"/>
<circle cx="101.3" cy="67.0" r="1.05" fill="#b4b8bc"/>
<circle cx="97.9" cy="66.9" r="1.05" fill="#b4b8bc"/>
<circle cx="114.6" cy="60.8" r="1.05" fill="#e5412f"/>
<circle cx="108.5" cy="72.0" r="1.05" fill="#b4b8bc"/>
<circle cx="102.5" cy="69.6" r="1.05" fill="#b4b8bc"/>
<circle cx="90.3" cy="63.6" r="1.05" fill="#b4b8bc"/>
<circle cx="90.6" cy="68.8" r="1.05" fill="#b4b8bc"/>
<circle cx="102.4" cy="60.7" r="1.05" fill="#b4b8bc"/>
<circle cx="106.7" cy="68.6" r="1.05" fill="#b4b8bc"/>
<circle cx="107.7" cy="68.9" r="1.05" fill="#b4b8bc"/>
<circle cx="90.5" cy="74.2" r="1.05" fill="#b4b8bc"/>
<circle cx="101.6" cy="71.3" r="1.05" fill="#b4b8bc"/>
<circle cx="98.8" cy="67.3" r="1.05" fill="#b4b8bc"/>
<circle cx="93.1" cy="67.8" r="1.05" fill="#b4b8bc"/>
<circle cx="94.8" cy="70.5" r="1.05" fill="#b4b8bc"/>
<circle cx="110.4" cy="65.8" r="1.05" fill="#e5412f"/>
<circle cx="97.4" cy="81.9" r="1.05" fill="#b4b8bc"/>
<circle cx="92.7" cy="68.8" r="1.05" fill="#b4b8bc"/>
<circle cx="96.1" cy="71.0" r="1.05" fill="#b4b8bc"/>
<circle cx="89.5" cy="77.1" r="1.05" fill="#b4b8bc"/>
<circle cx="105.7" cy="70.7" r="1.05" fill="#b4b8bc"/>
<circle cx="106.4" cy="72.4" r="1.05" fill="#b4b8bc"/>
<circle cx="100.9" cy="68.3" r="1.05" fill="#b4b8bc"/>
<circle cx="106.8" cy="66.6" r="1.05" fill="#b4b8bc"/>
<circle cx="106.3" cy="76.0" r="1.05" fill="#b4b8bc"/>
<circle cx="103.0" cy="79.8" r="1.05" fill="#b4b8bc"/>
<circle cx="90.6" cy="74.5" r="1.05" fill="#b4b8bc"/>
<circle cx="95.1" cy="72.5" r="1.05" fill="#b4b8bc"/>
<circle cx="96.0" cy="79.3" r="1.05" fill="#b4b8bc"/>
<circle cx="105.2" cy="68.9" r="1.05" fill="#b4b8bc"/>
<circle cx="93.3" cy="65.5" r="1.05" fill="#b4b8bc"/>
<circle cx="98.0" cy="67.9" r="1.05" fill="#b4b8bc"/>
<circle cx="88.8" cy="73.4" r="1.05" fill="#b4b8bc"/>
<circle cx="98.4" cy="79.0" r="1.05" fill="#b4b8bc"/>
<circle cx="89.8" cy="69.1" r="1.05" fill="#b4b8bc"/>
<circle cx="107.4" cy="71.4" r="1.05" fill="#b4b8bc"/>
<circle cx="100.2" cy="65.6" r="1.05" fill="#b4b8bc"/>
<circle cx="107.2" cy="79.0" r="1.05" fill="#b4b8bc"/>
<circle cx="93.3" cy="76.2" r="1.05" fill="#b4b8bc"/>
<circle cx="90.1" cy="65.9" r="1.05" fill="#b4b8bc"/>
<circle cx="94.4" cy="70.4" r="1.05" fill="#b4b8bc"/>
<circle cx="112.6" cy="70.1" r="1.05" fill="#e5412f"/>
<circle cx="96.5" cy="79.3" r="1.05" fill="#b4b8bc"/>
<circle cx="105.2" cy="73.3" r="1.05" fill="#b4b8bc"/>
<circle cx="94.1" cy="67.8" r="1.05" fill="#b4b8bc"/>
<circle cx="92.0" cy="59.3" r="1.05" fill="#b4b8bc"/>
<circle cx="93.7" cy="71.1" r="1.05" fill="#b4b8bc"/>
<circle cx="103.6" cy="70.7" r="1.05" fill="#b4b8bc"/>
<circle cx="90.3" cy="82.6" r="1.05" fill="#b4b8bc"/>
<circle cx="80.9" cy="76.6" r="1.05" fill="#e5412f"/>
<circle cx="92.3" cy="72.5" r="1.05" fill="#b4b8bc"/>
<circle cx="99.3" cy="88.3" r="1.05" fill="#b4b8bc"/>
<circle cx="98.4" cy="75.0" r="1.05" fill="#b4b8bc"/>
<circle cx="89.3" cy="72.4" r="1.05" fill="#b4b8bc"/>
<circle cx="108.4" cy="75.8" r="1.05" fill="#b4b8bc"/>
<circle cx="90.4" cy="69.7" r="1.05" fill="#b4b8bc"/>
<circle cx="96.4" cy="74.8" r="1.05" fill="#b4b8bc"/>
<circle cx="102.1" cy="66.9" r="1.05" fill="#b4b8bc"/>
<circle cx="102.6" cy="72.4" r="1.05" fill="#b4b8bc"/>
<circle cx="113.5" cy="63.6" r="1.05" fill="#e5412f"/>
<circle cx="90.9" cy="77.7" r="1.05" fill="#b4b8bc"/>
<circle cx="107.6" cy="75.6" r="1.05" fill="#b4b8bc"/>
<circle cx="107.9" cy="85.1" r="1.05" fill="#b4b8bc"/>
<circle cx="93.7" cy="71.8" r="1.05" fill="#b4b8bc"/>
<circle cx="101.3" cy="74.9" r="1.05" fill="#b4b8bc"/>
<circle cx="109.2" cy="74.9" r="1.05" fill="#e5412f"/>
<circle cx="92.3" cy="77.6" r="1.05" fill="#b4b8bc"/>
<circle cx="97.9" cy="63.8" r="1.05" fill="#b4b8bc"/>
<circle cx="104.9" cy="71.7" r="1.05" fill="#b4b8bc"/>
<circle cx="96.2" cy="58.3" r="1.05" fill="#b4b8bc"/>
<circle cx="106.4" cy="64.5" r="1.05" fill="#b4b8bc"/>
<circle cx="109.3" cy="64.7" r="1.05" fill="#e5412f"/>
<circle cx="99.3" cy="68.8" r="1.05" fill="#b4b8bc"/>
<circle cx="100.0" cy="71.3" r="1.05" fill="#b4b8bc"/>
<circle cx="90.9" cy="75.4" r="1.05" fill="#b4b8bc"/>
<circle cx="103.4" cy="69.9" r="1.05" fill="#b4b8bc"/>
<circle cx="89.7" cy="68.7" r="1.05" fill="#b4b8bc"/>
<circle cx="110.6" cy="72.3" r="1.05" fill="#e5412f"/>
<circle cx="95.8" cy="70.1" r="1.05" fill="#b4b8bc"/>
<circle cx="88.9" cy="64.7" r="1.05" fill="#b4b8bc"/>
<circle cx="108.6" cy="67.8" r="1.05" fill="#b4b8bc"/>
<circle cx="95.6" cy="86.7" r="1.05" fill="#b4b8bc"/>
<circle cx="104.8" cy="72.3" r="1.05" fill="#b4b8bc"/>
<circle cx="112.7" cy="75.9" r="1.05" fill="#e5412f"/>
<circle cx="92.8" cy="64.1" r="1.05" fill="#b4b8bc"/>
<circle cx="91.7" cy="62.4" r="1.05" fill="#b4b8bc"/>
<circle cx="99.1" cy="74.9" r="1.05" fill="#b4b8bc"/>
<circle cx="88.8" cy="66.7" r="1.05" fill="#b4b8bc"/>
<circle cx="105.9" cy="63.6" r="1.05" fill="#b4b8bc"/>
<circle cx="95.7" cy="74.9" r="1.05" fill="#b4b8bc"/>
<circle cx="91.2" cy="84.4" r="1.05" fill="#b4b8bc"/>
<circle cx="106.8" cy="77.3" r="1.05" fill="#b4b8bc"/>
<circle cx="105.3" cy="78.0" r="1.05" fill="#b4b8bc"/>
<circle cx="94.8" cy="57.3" r="1.05" fill="#b4b8bc"/>
<circle cx="89.0" cy="75.0" r="1.05" fill="#b4b8bc"/>
<circle cx="88.9" cy="68.7" r="1.05" fill="#b4b8bc"/>
<circle cx="96.7" cy="68.3" r="1.05" fill="#b4b8bc"/>
<circle cx="108.6" cy="66.6" r="1.05" fill="#b4b8bc"/>
<circle cx="99.4" cy="63.7" r="1.05" fill="#b4b8bc"/>
<circle cx="96.2" cy="65.6" r="1.05" fill="#b4b8bc"/>
<circle cx="100.4" cy="76.5" r="1.05" fill="#b4b8bc"/>
<circle cx="101.0" cy="69.0" r="1.05" fill="#b4b8bc"/>
<circle cx="108.0" cy="69.9" r="1.05" fill="#b4b8bc"/>
<circle cx="89.6" cy="69.0" r="1.05" fill="#b4b8bc"/>
<circle cx="99.9" cy="67.0" r="1.05" fill="#b4b8bc"/>
<circle cx="107.4" cy="62.8" r="1.05" fill="#b4b8bc"/>
<circle cx="97.7" cy="75.0" r="1.05" fill="#b4b8bc"/>
<circle cx="102.5" cy="74.3" r="1.05" fill="#b4b8bc"/>
<circle cx="106.4" cy="71.3" r="1.05" fill="#b4b8bc"/>
<circle cx="85.3" cy="67.8" r="1.05" fill="#e5412f"/>
<circle cx="97.4" cy="70.5" r="1.05" fill="#b4b8bc"/>
<circle cx="101.4" cy="86.4" r="1.05" fill="#b4b8bc"/>
<circle cx="102.2" cy="78.6" r="1.05" fill="#b4b8bc"/>
<circle cx="91.2" cy="85.7" r="1.05" fill="#b4b8bc"/>
<circle cx="92.8" cy="74.6" r="1.05" fill="#b4b8bc"/>
<circle cx="98.8" cy="72.0" r="1.05" fill="#b4b8bc"/>
<circle cx="89.3" cy="68.2" r="1.05" fill="#b4b8bc"/>
<circle cx="95.6" cy="73.2" r="1.05" fill="#b4b8bc"/>
<circle cx="107.8" cy="72.9" r="1.05" fill="#b4b8bc"/>
<circle cx="87.1" cy="64.6" r="1.05" fill="#e5412f"/>
<circle cx="90.3" cy="70.2" r="1.05" fill="#b4b8bc"/>
<circle cx="105.8" cy="78.4" r="1.05" fill="#b4b8bc"/>
<circle cx="87.4" cy="89.3" r="1.05" fill="#b4b8bc"/>
<circle cx="108.0" cy="68.5" r="1.05" fill="#b4b8bc"/>
<circle cx="94.8" cy="66.3" r="1.05" fill="#b4b8bc"/>
<circle cx="95.5" cy="71.6" r="1.05" fill="#b4b8bc"/>
<circle cx="98.8" cy="76.2" r="1.05" fill="#b4b8bc"/>
<circle cx="101.4" cy="72.6" r="1.05" fill="#b4b8bc"/>
<circle cx="96.3" cy="68.1" r="1.05" fill="#b4b8bc"/>
<circle cx="107.3" cy="64.1" r="1.05" fill="#b4b8bc"/>
<circle cx="97.9" cy="84.2" r="1.05" fill="#b4b8bc"/>
<circle cx="97.8" cy="75.0" r="1.05" fill="#b4b8bc"/>
<circle cx="97.0" cy="64.5" r="1.05" fill="#b4b8bc"/>
<circle cx="90.0" cy="68.7" r="1.05" fill="#b4b8bc"/>
<circle cx="107.9" cy="70.8" r="1.05" fill="#b4b8bc"/>
<circle cx="102.9" cy="78.5" r="1.05" fill="#b4b8bc"/>
<circle cx="107.9" cy="66.7" r="1.05" fill="#b4b8bc"/>
<circle cx="93.5" cy="66.1" r="1.05" fill="#b4b8bc"/>
<circle cx="103.5" cy="81.4" r="1.05" fill="#b4b8bc"/>
<circle cx="105.5" cy="71.3" r="1.05" fill="#b4b8bc"/>
<circle cx="97.3" cy="68.5" r="1.05" fill="#b4b8bc"/>
<circle cx="89.4" cy="71.3" r="1.05" fill="#b4b8bc"/>
<circle cx="108.6" cy="69.7" r="1.05" fill="#b4b8bc"/>
<circle cx="97.7" cy="69.4" r="1.05" fill="#b4b8bc"/>
<circle cx="98.7" cy="77.4" r="1.05" fill="#b4b8bc"/>
<circle cx="100.5" cy="68.2" r="1.05" fill="#b4b8bc"/>
<circle cx="104.5" cy="68.0" r="1.05" fill="#b4b8bc"/>
<circle cx="95.2" cy="68.7" r="1.05" fill="#b4b8bc"/>
<circle cx="98.1" cy="69.5" r="1.05" fill="#b4b8bc"/>
<circle cx="85.8" cy="67.1" r="1.05" fill="#e5412f"/>
<circle cx="82.7" cy="71.7" r="1.05" fill="#e5412f"/>
<circle cx="96.6" cy="62.8" r="1.05" fill="#b4b8bc"/>
<circle cx="101.7" cy="74.0" r="1.05" fill="#b4b8bc"/>
<circle cx="94.9" cy="71.3" r="1.05" fill="#b4b8bc"/>
<circle cx="95.6" cy="76.9" r="1.05" fill="#b4b8bc"/>
<circle cx="89.6" cy="72.4" r="1.05" fill="#b4b8bc"/>
<circle cx="90.5" cy="64.9" r="1.05" fill="#b4b8bc"/>
<circle cx="84.5" cy="71.1" r="1.05" fill="#e5412f"/>
<circle cx="107.9" cy="65.1" r="1.05" fill="#b4b8bc"/>
<circle cx="102.5" cy="68.4" r="1.05" fill="#b4b8bc"/>
<circle cx="88.8" cy="87.9" r="1.05" fill="#b4b8bc"/>
<circle cx="96.3" cy="64.3" r="1.05" fill="#b4b8bc"/>
<circle cx="100.8" cy="84.5" r="1.05" fill="#b4b8bc"/>
<circle cx="97.3" cy="61.0" r="1.05" fill="#b4b8bc"/>
<circle cx="101.5" cy="67.6" r="1.05" fill="#b4b8bc"/>
<circle cx="96.3" cy="64.0" r="1.05" fill="#b4b8bc"/>
<circle cx="108.8" cy="63.4" r="1.05" fill="#b4b8bc"/>
<circle cx="103.0" cy="78.2" r="1.05" fill="#b4b8bc"/>
<circle cx="103.3" cy="65.3" r="1.05" fill="#b4b8bc"/>
<circle cx="90.9" cy="76.5" r="1.05" fill="#b4b8bc"/>
<circle cx="99.4" cy="65.3" r="1.05" fill="#b4b8bc"/>
<circle cx="91.5" cy="67.9" r="1.05" fill="#b4b8bc"/>
<circle cx="105.2" cy="74.0" r="1.05" fill="#b4b8bc"/>
<circle cx="93.3" cy="73.3" r="1.05" fill="#b4b8bc"/>
<circle cx="88.4" cy="68.8" r="1.05" fill="#e5412f"/>
<circle cx="91.0" cy="71.6" r="1.05" fill="#b4b8bc"/>
<circle cx="88.9" cy="71.5" r="1.05" fill="#b4b8bc"/>
<circle cx="90.1" cy="76.9" r="1.05" fill="#b4b8bc"/>
<circle cx="99.2" cy="73.8" r="1.05" fill="#b4b8bc"/>
<circle cx="99.8" cy="75.0" r="1.05" fill="#b4b8bc"/>
<circle cx="105.7" cy="72.7" r="1.05" fill="#b4b8bc"/>
<circle cx="91.5" cy="69.9" r="1.05" fill="#b4b8bc"/>
<circle cx="102.4" cy="68.9" r="1.05" fill="#b4b8bc"/>
<circle cx="104.8" cy="62.4" r="1.05" fill="#b4b8bc"/>
<circle cx="94.2" cy="78.6" r="1.05" fill="#b4b8bc"/>
<circle cx="88.7" cy="66.2" r="1.05" fill="#b4b8bc"/>
<circle cx="91.9" cy="68.6" r="1.05" fill="#b4b8bc"/>
<circle cx="91.4" cy="71.9" r="1.05" fill="#b4b8bc"/>
<circle cx="81.9" cy="67.3" r="1.05" fill="#e5412f"/>
<circle cx="91.5" cy="64.9" r="1.05" fill="#b4b8bc"/>
<circle cx="100.5" cy="62.2" r="1.05" fill="#b4b8bc"/>
<circle cx="108.5" cy="70.1" r="1.05" fill="#b4b8bc"/>
<circle cx="99.5" cy="69.6" r="1.05" fill="#b4b8bc"/>
<circle cx="92.2" cy="69.4" r="1.05" fill="#b4b8bc"/>
<circle cx="104.0" cy="73.2" r="1.05" fill="#b4b8bc"/>
<circle cx="105.7" cy="73.9" r="1.05" fill="#b4b8bc"/>
<circle cx="89.5" cy="67.7" r="1.05" fill="#b4b8bc"/>
<circle cx="97.5" cy="73.0" r="1.05" fill="#b4b8bc"/>
<circle cx="103.0" cy="79.8" r="1.05" fill="#b4b8bc"/>
<circle cx="88.0" cy="87.4" r="1.05" fill="#b4b8bc"/>
<circle cx="88.8" cy="69.5" r="1.05" fill="#b4b8bc"/>
<circle cx="106.4" cy="68.0" r="1.05" fill="#b4b8bc"/>
<circle cx="96.1" cy="65.8" r="1.05" fill="#b4b8bc"/>
<circle cx="89.7" cy="72.5" r="1.05" fill="#b4b8bc"/>
<circle cx="81.3" cy="76.8" r="1.05" fill="#e5412f"/>
<circle cx="99.2" cy="69.3" r="1.05" fill="#b4b8bc"/>
<circle cx="93.1" cy="65.2" r="1.05" fill="#b4b8bc"/>
<circle cx="106.0" cy="68.8" r="1.05" fill="#b4b8bc"/>
<circle cx="90.5" cy="62.0" r="1.05" fill="#b4b8bc"/>
<circle cx="82.6" cy="73.2" r="1.05" fill="#e5412f"/>
<circle cx="97.6" cy="72.7" r="1.05" fill="#b4b8bc"/>
<circle cx="100.0" cy="78.6" r="1.05" fill="#b4b8bc"/>
<circle cx="91.7" cy="70.5" r="1.05" fill="#b4b8bc"/>
<circle cx="100.6" cy="66.1" r="1.05" fill="#b4b8bc"/>
<circle cx="90.5" cy="66.4" r="1.05" fill="#b4b8bc"/>
<circle cx="90.3" cy="64.2" r="1.05" fill="#b4b8bc"/>
<circle cx="106.1" cy="72.3" r="1.05" fill="#b4b8bc"/>
<circle cx="85.4" cy="72.8" r="1.05" fill="#e5412f"/>
<circle cx="99.5" cy="83.7" r="1.05" fill="#b4b8bc"/>
<circle cx="91.8" cy="67.9" r="1.05" fill="#b4b8bc"/>
<circle cx="90.8" cy="72.6" r="1.05" fill="#b4b8bc"/>
<circle cx="102.0" cy="75.8" r="1.05" fill="#b4b8bc"/>
<circle cx="96.1" cy="62.8" r="1.05" fill="#b4b8bc"/>
<circle cx="89.0" cy="78.4" r="1.05" fill="#b4b8bc"/>
<circle cx="103.1" cy="81.1" r="1.05" fill="#b4b8bc"/>
<circle cx="93.8" cy="66.8" r="1.05" fill="#b4b8bc"/>
<circle cx="92.9" cy="65.1" r="1.05" fill="#b4b8bc"/>
<circle cx="103.2" cy="68.7" r="1.05" fill="#b4b8bc"/>
<circle cx="102.8" cy="76.2" r="1.05" fill="#b4b8bc"/>
<circle cx="103.3" cy="75.9" r="1.05" fill="#b4b8bc"/>
<circle cx="100.2" cy="66.0" r="1.05" fill="#b4b8bc"/>
<circle cx="95.4" cy="72.2" r="1.05" fill="#b4b8bc"/>
<circle cx="93.9" cy="73.6" r="1.05" fill="#b4b8bc"/>
<circle cx="104.0" cy="56.7" r="1.05" fill="#b4b8bc"/>
<circle cx="77.7" cy="72.6" r="1.05" fill="#e5412f"/>
<circle cx="106.4" cy="66.5" r="1.05" fill="#b4b8bc"/>
<circle cx="97.9" cy="74.5" r="1.05" fill="#b4b8bc"/>
<circle cx="105.1" cy="69.9" r="1.05" fill="#b4b8bc"/>
<circle cx="92.3" cy="64.3" r="1.05" fill="#b4b8bc"/>
<circle cx="101.6" cy="67.9" r="1.05" fill="#b4b8bc"/>
<circle cx="94.6" cy="72.0" r="1.05" fill="#b4b8bc"/>
<circle cx="80.2" cy="73.6" r="1.05" fill="#e5412f"/>
<circle cx="89.3" cy="69.8" r="1.05" fill="#b4b8bc"/>
<circle cx="105.1" cy="64.6" r="1.05" fill="#b4b8bc"/>
<circle cx="101.6" cy="58.4" r="1.05" fill="#b4b8bc"/>
<circle cx="89.7" cy="73.3" r="1.05" fill="#b4b8bc"/>
<circle cx="92.7" cy="75.8" r="1.05" fill="#b4b8bc"/>
<circle cx="100.1" cy="82.0" r="1.05" fill="#b4b8bc"/>
<circle cx="93.6" cy="80.6" r="1.05" fill="#b4b8bc"/>
<circle cx="93.9" cy="60.4" r="1.05" fill="#b4b8bc"/>
<circle cx="104.1" cy="68.4" r="1.05" fill="#b4b8bc"/>
<circle cx="95.9" cy="77.7" r="1.05" fill="#b4b8bc"/>
<circle cx="96.9" cy="78.4" r="1.05" fill="#b4b8bc"/>
<circle cx="89.7" cy="70.0" r="1.05" fill="#b4b8bc"/>
<circle cx="96.9" cy="76.3" r="1.05" fill="#b4b8bc"/>
<circle cx="107.2" cy="69.4" r="1.05" fill="#b4b8bc"/>
<circle cx="108.1" cy="81.1" r="1.05" fill="#b4b8bc"/>
<circle cx="89.2" cy="67.8" r="1.05" fill="#b4b8bc"/>
<circle cx="99.9" cy="72.2" r="1.05" fill="#b4b8bc"/>
<circle cx="92.6" cy="60.8" r="1.05" fill="#b4b8bc"/>
<circle cx="93.8" cy="66.8" r="1.05" fill="#b4b8bc"/>
<circle cx="101.2" cy="71.2" r="1.05" fill="#b4b8bc"/>
<circle cx="89.0" cy="66.1" r="1.05" fill="#b4b8bc"/>
<circle cx="93.5" cy="70.8" r="1.05" fill="#b4b8bc"/>
<circle cx="88.6" cy="65.9" r="1.05" fill="#b4b8bc"/>
<circle cx="87.6" cy="68.1" r="1.05" fill="#e5412f"/>
<circle cx="90.9" cy="64.8" r="1.05" fill="#b4b8bc"/>
<circle cx="108.8" cy="68.0" r="1.05" fill="#b4b8bc"/>
<circle cx="109.7" cy="68.5" r="1.05" fill="#e5412f"/>
<circle cx="98.0" cy="76.2" r="1.05" fill="#b4b8bc"/>
<circle cx="93.8" cy="71.9" r="1.05" fill="#b4b8bc"/>
<circle cx="106.7" cy="75.1" r="1.05" fill="#b4b8bc"/>
<circle cx="96.5" cy="73.4" r="1.05" fill="#b4b8bc"/>
<circle cx="93.6" cy="70.3" r="1.05" fill="#b4b8bc"/>
<circle cx="96.9" cy="64.2" r="1.05" fill="#b4b8bc"/>
<circle cx="106.5" cy="65.9" r="1.05" fill="#b4b8bc"/>
<circle cx="92.9" cy="70.5" r="1.05" fill="#b4b8bc"/>
<circle cx="105.8" cy="73.1" r="1.05" fill="#b4b8bc"/>
<circle cx="88.7" cy="68.5" r="1.05" fill="#b4b8bc"/>
<circle cx="84.5" cy="69.9" r="1.05" fill="#e5412f"/>
<circle cx="103.3" cy="64.5" r="1.05" fill="#b4b8bc"/>
<circle cx="105.8" cy="72.1" r="1.05" fill="#b4b8bc"/>
<circle cx="93.8" cy="79.2" r="1.05" fill="#b4b8bc"/>
<circle cx="83.3" cy="68.8" r="1.05" fill="#e5412f"/>
<circle cx="102.9" cy="65.4" r="1.05" fill="#b4b8bc"/>
<circle cx="99.4" cy="74.6" r="1.05" fill="#b4b8bc"/>
<circle cx="93.6" cy="72.9" r="1.05" fill="#b4b8bc"/>
<circle cx="103.7" cy="72.9" r="1.05" fill="#b4b8bc"/>
<circle cx="95.2" cy="72.7" r="1.05" fill="#b4b8bc"/>
<circle cx="107.1" cy="62.2" r="1.05" fill="#b4b8bc"/>
<circle cx="108.3" cy="62.9" r="1.05" fill="#b4b8bc"/>
<circle cx="101.9" cy="80.5" r="1.05" fill="#b4b8bc"/>
<circle cx="97.7" cy="77.7" r="1.05" fill="#b4b8bc"/>
<circle cx="94.7" cy="64.9" r="1.05" fill="#b4b8bc"/>
<circle cx="92.8" cy="69.6" r="1.05" fill="#b4b8bc"/>
<circle cx="129.8" cy="75.9" r="1.05" fill="#e5412f"/>
<circle cx="110.0" cy="68.4" r="1.05" fill="#e5412f"/>
<circle cx="107.2" cy="73.0" r="1.05" fill="#b4b8bc"/>
<circle cx="105.4" cy="72.6" r="1.05" fill="#b4b8bc"/>
<circle cx="93.5" cy="72.5" r="1.05" fill="#b4b8bc"/>
<circle cx="95.4" cy="76.0" r="1.05" fill="#b4b8bc"/>
<circle cx="89.4" cy="87.4" r="1.05" fill="#b4b8bc"/>
<circle cx="97.2" cy="75.8" r="1.05" fill="#b4b8bc"/>
<circle cx="93.9" cy="70.8" r="1.05" fill="#b4b8bc"/>
<circle cx="107.2" cy="70.6" r="1.05" fill="#b4b8bc"/>
<circle cx="98.2" cy="68.2" r="1.05" fill="#b4b8bc"/>
<circle cx="97.8" cy="74.1" r="1.05" fill="#b4b8bc"/>
<circle cx="107.7" cy="74.8" r="1.05" fill="#b4b8bc"/>
<circle cx="87.1" cy="70.9" r="1.05" fill="#e5412f"/>
<circle cx="103.3" cy="65.3" r="1.05" fill="#b4b8bc"/>
<circle cx="102.6" cy="76.2" r="1.05" fill="#b4b8bc"/>
<circle cx="96.9" cy="73.2" r="1.05" fill="#b4b8bc"/>
<circle cx="99.8" cy="80.0" r="1.05" fill="#b4b8bc"/>
<circle cx="89.8" cy="73.5" r="1.05" fill="#b4b8bc"/>
<circle cx="100.1" cy="74.6" r="1.05" fill="#b4b8bc"/>
<circle cx="96.2" cy="80.1" r="1.05" fill="#b4b8bc"/>
<circle cx="88.8" cy="68.6" r="1.05" fill="#b4b8bc"/>
<circle cx="87.9" cy="70.8" r="1.05" fill="#e5412f"/>
<circle cx="103.7" cy="71.6" r="1.05" fill="#b4b8bc"/>
<circle cx="96.7" cy="78.8" r="1.05" fill="#b4b8bc"/>
<circle cx="89.4" cy="66.0" r="1.05" fill="#b4b8bc"/>
<circle cx="95.5" cy="60.2" r="1.05" fill="#b4b8bc"/>
<circle cx="90.1" cy="70.1" r="1.05" fill="#b4b8bc"/>
<circle cx="100.1" cy="70.2" r="1.05" fill="#b4b8bc"/>
<circle cx="100.7" cy="74.4" r="1.05" fill="#b4b8bc"/>
<circle cx="99.2" cy="77.8" r="1.05" fill="#b4b8bc"/>
<circle cx="97.3" cy="71.7" r="1.05" fill="#b4b8bc"/>
<circle cx="90.8" cy="78.1" r="1.05" fill="#b4b8bc"/>
<circle cx="101.5" cy="77.2" r="1.05" fill="#b4b8bc"/>
<circle cx="110.1" cy="70.2" r="1.05" fill="#e5412f"/>
<circle cx="91.9" cy="64.2" r="1.05" fill="#b4b8bc"/>
<circle cx="105.1" cy="78.1" r="1.05" fill="#b4b8bc"/>
<circle cx="103.4" cy="76.4" r="1.05" fill="#b4b8bc"/>
<circle cx="100.0" cy="76.8" r="1.05" fill="#b4b8bc"/>
<circle cx="110.2" cy="63.7" r="1.05" fill="#e5412f"/>
<circle cx="88.7" cy="73.8" r="1.05" fill="#b4b8bc"/>
<circle cx="105.8" cy="70.2" r="1.05" fill="#b4b8bc"/>
<circle cx="101.4" cy="63.7" r="1.05" fill="#b4b8bc"/>
<circle cx="104.4" cy="69.8" r="1.05" fill="#b4b8bc"/>
<circle cx="94.4" cy="70.6" r="1.05" fill="#b4b8bc"/>
<circle cx="93.4" cy="70.2" r="1.05" fill="#b4b8bc"/>
<circle cx="120.3" cy="70.7" r="1.05" fill="#e5412f"/>
<circle cx="101.0" cy="76.0" r="1.05" fill="#b4b8bc"/>
<circle cx="105.6" cy="66.4" r="1.05" fill="#b4b8bc"/>
<circle cx="105.1" cy="74.2" r="1.05" fill="#b4b8bc"/>
<circle cx="104.2" cy="71.0" r="1.05" fill="#b4b8bc"/>
<circle cx="98.5" cy="72.5" r="1.05" fill="#b4b8bc"/>
<circle cx="92.4" cy="70.4" r="1.05" fill="#b4b8bc"/>
<circle cx="95.7" cy="69.6" r="1.05" fill="#b4b8bc"/>
<circle cx="99.9" cy="72.6" r="1.05" fill="#b4b8bc"/>
<circle cx="99.2" cy="70.8" r="1.05" fill="#b4b8bc"/>
<circle cx="105.8" cy="69.5" r="1.05" fill="#b4b8bc"/>
<circle cx="121.3" cy="72.3" r="1.05" fill="#e5412f"/>
<circle cx="98.8" cy="66.1" r="1.05" fill="#b4b8bc"/>
<circle cx="105.5" cy="64.6" r="1.05" fill="#b4b8bc"/>
<circle cx="98.4" cy="64.0" r="1.05" fill="#b4b8bc"/>
<circle cx="98.8" cy="60.9" r="1.05" fill="#b4b8bc"/>
<circle cx="93.3" cy="63.1" r="1.05" fill="#b4b8bc"/>
<circle cx="91.1" cy="78.0" r="1.05" fill="#b4b8bc"/>
<circle cx="103.8" cy="76.7" r="1.05" fill="#b4b8bc"/>
<circle cx="101.9" cy="61.5" r="1.05" fill="#b4b8bc"/>
<circle cx="91.1" cy="68.5" r="1.05" fill="#b4b8bc"/>
<circle cx="93.7" cy="68.9" r="1.05" fill="#b4b8bc"/>
<circle cx="93.1" cy="73.3" r="1.05" fill="#b4b8bc"/>
<circle cx="104.0" cy="86.8" r="1.05" fill="#b4b8bc"/>
<circle cx="96.5" cy="74.3" r="1.05" fill="#b4b8bc"/>
<circle cx="98.4" cy="74.9" r="1.05" fill="#b4b8bc"/>
<circle cx="102.1" cy="68.3" r="1.05" fill="#b4b8bc"/>
<circle cx="106.6" cy="79.9" r="1.05" fill="#b4b8bc"/>
<circle cx="101.7" cy="67.2" r="1.05" fill="#b4b8bc"/>
<circle cx="97.9" cy="65.1" r="1.05" fill="#b4b8bc"/>
<circle cx="116.3" cy="70.7" r="1.05" fill="#e5412f"/>
<circle cx="93.9" cy="72.5" r="1.05" fill="#b4b8bc"/>
<circle cx="90.2" cy="62.4" r="1.05" fill="#b4b8bc"/>
<circle cx="90.8" cy="70.3" r="1.05" fill="#b4b8bc"/>
<circle cx="97.7" cy="76.6" r="1.05" fill="#b4b8bc"/>
<circle cx="99.1" cy="76.8" r="1.05" fill="#b4b8bc"/>
<circle cx="100.1" cy="73.3" r="1.05" fill="#b4b8bc"/>
<circle cx="87.3" cy="69.3" r="1.05" fill="#e5412f"/>
<circle cx="81.7" cy="73.1" r="1.05" fill="#e5412f"/>
<circle cx="103.3" cy="70.3" r="1.05" fill="#b4b8bc"/>
<circle cx="107.0" cy="75.5" r="1.05" fill="#b4b8bc"/>
<circle cx="89.9" cy="66.2" r="1.05" fill="#b4b8bc"/>
<circle cx="91.2" cy="70.4" r="1.05" fill="#b4b8bc"/>
<circle cx="94.7" cy="74.8" r="1.05" fill="#b4b8bc"/>
<circle cx="101.5" cy="72.3" r="1.05" fill="#b4b8bc"/>
<circle cx="96.9" cy="69.5" r="1.05" fill="#b4b8bc"/>
<circle cx="101.5" cy="68.0" r="1.05" fill="#b4b8bc"/>
<circle cx="90.9" cy="80.7" r="1.05" fill="#b4b8bc"/>
<circle cx="108.5" cy="71.1" r="1.05" fill="#b4b8bc"/>
<circle cx="99.0" cy="70.5" r="1.05" fill="#b4b8bc"/>
<circle cx="90.9" cy="72.6" r="1.05" fill="#b4b8bc"/>
<circle cx="98.6" cy="64.8" r="1.05" fill="#b4b8bc"/>
<circle cx="92.4" cy="66.9" r="1.05" fill="#b4b8bc"/>
<circle cx="91.4" cy="79.5" r="1.05" fill="#b4b8bc"/>
<circle cx="95.4" cy="71.4" r="1.05" fill="#b4b8bc"/>
<circle cx="93.9" cy="63.7" r="1.05" fill="#b4b8bc"/>
<circle cx="93.5" cy="75.4" r="1.05" fill="#b4b8bc"/>
<circle cx="85.5" cy="89.0" r="1.05" fill="#b4b8bc"/>
<circle cx="95.4" cy="70.1" r="1.05" fill="#b4b8bc"/>
<circle cx="113.7" cy="70.5" r="1.05" fill="#e5412f"/>
<circle cx="98.8" cy="76.0" r="1.05" fill="#b4b8bc"/>
<circle cx="102.6" cy="68.5" r="1.05" fill="#b4b8bc"/>
<circle cx="89.8" cy="63.4" r="1.05" fill="#b4b8bc"/>
<circle cx="111.1" cy="77.3" r="1.05" fill="#e5412f"/>
<circle cx="107.6" cy="83.3" r="1.05" fill="#b4b8bc"/>
<circle cx="99.2" cy="72.9" r="1.05" fill="#b4b8bc"/>
<circle cx="91.5" cy="62.7" r="1.05" fill="#b4b8bc"/>
<circle cx="74.6" cy="74.2" r="1.05" fill="#e5412f"/>
<circle cx="93.8" cy="72.0" r="1.05" fill="#b4b8bc"/>
<circle cx="84.0" cy="68.9" r="1.05" fill="#e5412f"/>
<circle cx="113.7" cy="69.4" r="1.05" fill="#e5412f"/>
<circle cx="99.4" cy="74.4" r="1.05" fill="#b4b8bc"/>
<circle cx="114.1" cy="79.6" r="1.05" fill="#e5412f"/>
<circle cx="94.6" cy="68.1" r="1.05" fill="#b4b8bc"/>
<circle cx="107.5" cy="65.5" r="1.05" fill="#b4b8bc"/>
<circle cx="107.8" cy="73.4" r="1.05" fill="#b4b8bc"/>
<circle cx="99.2" cy="76.1" r="1.05" fill="#b4b8bc"/>
<circle cx="105.7" cy="67.1" r="1.05" fill="#b4b8bc"/>
<circle cx="100.5" cy="77.2" r="1.05" fill="#b4b8bc"/>
<circle cx="96.5" cy="65.4" r="1.05" fill="#b4b8bc"/>
<circle cx="79.4" cy="74.8" r="1.05" fill="#e5412f"/>
<circle cx="104.7" cy="67.1" r="1.05" fill="#b4b8bc"/>
<circle cx="90.2" cy="66.3" r="1.05" fill="#b4b8bc"/>
<circle cx="83.6" cy="66.0" r="1.05" fill="#e5412f"/>
<circle cx="88.8" cy="77.7" r="1.05" fill="#b4b8bc"/>
<circle cx="105.4" cy="71.5" r="1.05" fill="#b4b8bc"/>
<circle cx="92.6" cy="68.8" r="1.05" fill="#b4b8bc"/>
<circle cx="104.5" cy="71.7" r="1.05" fill="#b4b8bc"/>
<circle cx="101.6" cy="70.5" r="1.05" fill="#b4b8bc"/>
<circle cx="90.8" cy="74.0" r="1.05" fill="#b4b8bc"/>
<circle cx="100.9" cy="61.6" r="1.05" fill="#b4b8bc"/>
<circle cx="97.6" cy="65.4" r="1.05" fill="#b4b8bc"/>
<circle cx="98.1" cy="75.0" r="1.05" fill="#b4b8bc"/>
<circle cx="91.2" cy="69.8" r="1.05" fill="#b4b8bc"/>
<circle cx="105.9" cy="75.9" r="1.05" fill="#b4b8bc"/>
<circle cx="101.9" cy="77.5" r="1.05" fill="#b4b8bc"/>
<circle cx="79.3" cy="67.0" r="1.05" fill="#e5412f"/>
<circle cx="101.8" cy="79.2" r="1.05" fill="#b4b8bc"/>
<circle cx="106.6" cy="75.7" r="1.05" fill="#b4b8bc"/>
<circle cx="90.4" cy="73.4" r="1.05" fill="#b4b8bc"/>
<circle cx="92.8" cy="65.9" r="1.05" fill="#b4b8bc"/>
<circle cx="90.2" cy="76.8" r="1.05" fill="#b4b8bc"/>
<circle cx="102.1" cy="68.9" r="1.05" fill="#b4b8bc"/>
<circle cx="98.3" cy="73.6" r="1.05" fill="#b4b8bc"/>
<circle cx="123.5" cy="78.6" r="1.05" fill="#e5412f"/>
<circle cx="105.9" cy="77.1" r="1.05" fill="#b4b8bc"/>
<circle cx="102.9" cy="64.1" r="1.05" fill="#b4b8bc"/>
<circle cx="90.8" cy="73.4" r="1.05" fill="#b4b8bc"/>
<circle cx="97.3" cy="76.0" r="1.05" fill="#b4b8bc"/>
<circle cx="102.8" cy="63.7" r="1.05" fill="#b4b8bc"/>
<circle cx="104.0" cy="73.5" r="1.05" fill="#b4b8bc"/>
<circle cx="99.4" cy="71.0" r="1.05" fill="#b4b8bc"/>
<circle cx="105.7" cy="68.9" r="1.05" fill="#b4b8bc"/>
<circle cx="103.3" cy="72.2" r="1.05" fill="#b4b8bc"/>
<circle cx="100.9" cy="74.2" r="1.05" fill="#b4b8bc"/>
<circle cx="108.7" cy="80.7" r="1.05" fill="#b4b8bc"/>
<circle cx="89.5" cy="65.0" r="1.05" fill="#b4b8bc"/>
<circle cx="89.8" cy="61.5" r="1.05" fill="#b4b8bc"/>
<circle cx="102.1" cy="71.0" r="1.05" fill="#b4b8bc"/>
<circle cx="93.6" cy="67.6" r="1.05" fill="#b4b8bc"/>
<circle cx="107.5" cy="65.8" r="1.05" fill="#b4b8bc"/>
<circle cx="92.9" cy="65.6" r="1.05" fill="#b4b8bc"/>
<circle cx="90.7" cy="67.1" r="1.05" fill="#b4b8bc"/>
<circle cx="105.5" cy="59.2" r="1.05" fill="#b4b8bc"/>
<circle cx="88.6" cy="70.5" r="1.05" fill="#b4b8bc"/>
<circle cx="121.8" cy="62.3" r="1.05" fill="#e5412f"/>
<circle cx="103.7" cy="68.2" r="1.05" fill="#b4b8bc"/>
<circle cx="105.5" cy="64.8" r="1.05" fill="#b4b8bc"/>
<circle cx="84.3" cy="70.7" r="1.05" fill="#e5412f"/>
<circle cx="90.5" cy="71.3" r="1.05" fill="#b4b8bc"/>
<circle cx="94.3" cy="78.8" r="1.05" fill="#b4b8bc"/>
<circle cx="89.7" cy="76.1" r="1.05" fill="#b4b8bc"/>
<circle cx="88.6" cy="73.2" r="1.05" fill="#b4b8bc"/>
<circle cx="97.5" cy="73.0" r="1.05" fill="#b4b8bc"/>
<circle cx="98.4" cy="67.5" r="1.05" fill="#b4b8bc"/>
<circle cx="106.9" cy="70.6" r="1.05" fill="#b4b8bc"/>
<circle cx="106.5" cy="67.6" r="1.05" fill="#b4b8bc"/>
<circle cx="93.7" cy="69.6" r="1.05" fill="#b4b8bc"/>
<circle cx="106.5" cy="69.5" r="1.05" fill="#b4b8bc"/>
<circle cx="90.5" cy="73.2" r="1.05" fill="#b4b8bc"/>
<circle cx="93.8" cy="69.4" r="1.05" fill="#b4b8bc"/>
<circle cx="89.7" cy="68.7" r="1.05" fill="#b4b8bc"/>
<circle cx="108.4" cy="77.4" r="1.05" fill="#b4b8bc"/>
<circle cx="107.2" cy="70.2" r="1.05" fill="#b4b8bc"/>
<circle cx="95.1" cy="75.0" r="1.05" fill="#b4b8bc"/>
<circle cx="92.0" cy="68.0" r="1.05" fill="#b4b8bc"/>
<circle cx="105.9" cy="68.6" r="1.05" fill="#b4b8bc"/>
<circle cx="98.9" cy="60.0" r="1.05" fill="#b4b8bc"/>
<circle cx="105.2" cy="65.5" r="1.05" fill="#b4b8bc"/>
<circle cx="99.5" cy="70.4" r="1.05" fill="#b4b8bc"/>
<circle cx="107.3" cy="70.7" r="1.05" fill="#b4b8bc"/>
<circle cx="105.0" cy="69.0" r="1.05" fill="#b4b8bc"/>
<circle cx="100.6" cy="67.6" r="1.05" fill="#b4b8bc"/>
<circle cx="107.6" cy="71.6" r="1.05" fill="#b4b8bc"/>
<circle cx="97.6" cy="80.2" r="1.05" fill="#b4b8bc"/>
<circle cx="95.2" cy="65.1" r="1.05" fill="#b4b8bc"/>
<circle cx="105.5" cy="73.0" r="1.05" fill="#b4b8bc"/>
<circle cx="108.8" cy="73.5" r="1.05" fill="#b4b8bc"/>
<circle cx="95.6" cy="70.8" r="1.05" fill="#b4b8bc"/>
<circle cx="90.4" cy="71.5" r="1.05" fill="#b4b8bc"/>
<circle cx="96.1" cy="78.7" r="1.05" fill="#b4b8bc"/>
<circle cx="92.1" cy="74.9" r="1.05" fill="#b4b8bc"/>
<circle cx="90.5" cy="64.5" r="1.05" fill="#b4b8bc"/>
<circle cx="109.0" cy="79.0" r="1.05" fill="#b4b8bc"/>
<circle cx="92.0" cy="76.1" r="1.05" fill="#b4b8bc"/>
<circle cx="99.8" cy="67.5" r="1.05" fill="#b4b8bc"/>
<circle cx="103.4" cy="69.8" r="1.05" fill="#b4b8bc"/>
<circle cx="95.4" cy="70.9" r="1.05" fill="#b4b8bc"/>
<circle cx="92.0" cy="72.4" r="1.05" fill="#b4b8bc"/>
<circle cx="93.9" cy="66.4" r="1.05" fill="#b4b8bc"/>
<circle cx="95.2" cy="66.4" r="1.05" fill="#b4b8bc"/>
<circle cx="83.1" cy="71.6" r="1.05" fill="#e5412f"/>
<circle cx="94.1" cy="62.2" r="1.05" fill="#b4b8bc"/>
<circle cx="91.5" cy="63.0" r="1.05" fill="#b4b8bc"/>
<circle cx="93.6" cy="71.2" r="1.05" fill="#b4b8bc"/>
<circle cx="104.2" cy="71.0" r="1.05" fill="#b4b8bc"/>
<circle cx="89.2" cy="72.1" r="1.05" fill="#b4b8bc"/>
<circle cx="90.8" cy="65.5" r="1.05" fill="#b4b8bc"/>
<circle cx="106.7" cy="68.7" r="1.05" fill="#b4b8bc"/>
<circle cx="90.5" cy="72.1" r="1.05" fill="#b4b8bc"/>
<circle cx="92.6" cy="85.4" r="1.05" fill="#b4b8bc"/>
<circle cx="109.0" cy="71.2" r="1.05" fill="#b4b8bc"/>
<circle cx="94.3" cy="68.4" r="1.05" fill="#b4b8bc"/>
<circle cx="97.5" cy="69.3" r="1.05" fill="#b4b8bc"/>
<circle cx="107.3" cy="71.9" r="1.05" fill="#b4b8bc"/>
<circle cx="88.7" cy="69.5" r="1.05" fill="#b4b8bc"/>
<circle cx="104.1" cy="67.1" r="1.05" fill="#b4b8bc"/>
<circle cx="91.8" cy="68.9" r="1.05" fill="#b4b8bc"/>
<circle cx="108.1" cy="73.3" r="1.05" fill="#b4b8bc"/>
<circle cx="87.8" cy="62.8" r="1.05" fill="#e5412f"/>
<circle cx="67.2" cy="71.4" r="1.05" fill="#e5412f"/>
<circle cx="92.2" cy="70.9" r="1.05" fill="#b4b8bc"/>
<circle cx="107.6" cy="66.1" r="1.05" fill="#b4b8bc"/>
<circle cx="88.4" cy="71.0" r="1.05" fill="#e5412f"/>
<circle cx="94.5" cy="70.1" r="1.05" fill="#b4b8bc"/>
<circle cx="110.9" cy="72.8" r="1.05" fill="#e5412f"/>
<circle cx="86.6" cy="61.3" r="1.05" fill="#e5412f"/>
<circle cx="74.7" cy="74.7" r="1.05" fill="#e5412f"/>
<circle cx="98.4" cy="64.7" r="1.05" fill="#b4b8bc"/>
<circle cx="91.4" cy="67.4" r="1.05" fill="#b4b8bc"/>
<circle cx="109.2" cy="72.4" r="1.05" fill="#b4b8bc"/>
<circle cx="99.9" cy="66.6" r="1.05" fill="#b4b8bc"/>
<circle cx="92.7" cy="77.5" r="1.05" fill="#b4b8bc"/>
<circle cx="89.2" cy="64.2" r="1.05" fill="#b4b8bc"/>
<circle cx="130.8" cy="67.4" r="1.05" fill="#e5412f"/>
<circle cx="102.3" cy="67.2" r="1.05" fill="#b4b8bc"/>
<circle cx="91.8" cy="77.6" r="1.05" fill="#b4b8bc"/>
<circle cx="93.7" cy="71.8" r="1.05" fill="#b4b8bc"/>
<circle cx="89.7" cy="76.0" r="1.05" fill="#b4b8bc"/>
<circle cx="105.7" cy="71.8" r="1.05" fill="#b4b8bc"/>
<circle cx="89.2" cy="86.3" r="1.05" fill="#b4b8bc"/>
<circle cx="98.5" cy="61.1" r="1.05" fill="#b4b8bc"/>
<circle cx="102.3" cy="69.8" r="1.05" fill="#b4b8bc"/>
<circle cx="93.1" cy="71.5" r="1.05" fill="#b4b8bc"/>
<circle cx="103.9" cy="72.4" r="1.05" fill="#b4b8bc"/>
<circle cx="99.6" cy="70.3" r="1.05" fill="#b4b8bc"/>
<circle cx="98.1" cy="60.9" r="1.05" fill="#b4b8bc"/>
<circle cx="106.4" cy="75.6" r="1.05" fill="#b4b8bc"/>
<circle cx="96.9" cy="67.0" r="1.05" fill="#b4b8bc"/>
<circle cx="110.1" cy="64.3" r="1.05" fill="#e5412f"/>
<circle cx="96.8" cy="72.8" r="1.05" fill="#b4b8bc"/>
<circle cx="98.9" cy="77.3" r="1.05" fill="#b4b8bc"/>
<circle cx="101.4" cy="69.2" r="1.05" fill="#b4b8bc"/>
<circle cx="90.7" cy="72.9" r="1.05" fill="#b4b8bc"/>
<circle cx="105.6" cy="79.0" r="1.05" fill="#b4b8bc"/>
<circle cx="106.3" cy="80.5" r="1.05" fill="#b4b8bc"/>
<circle cx="89.9" cy="79.8" r="1.05" fill="#b4b8bc"/>
<circle cx="103.5" cy="66.0" r="1.05" fill="#b4b8bc"/>
<circle cx="109.0" cy="70.5" r="1.05" fill="#b4b8bc"/>
<circle cx="94.3" cy="74.2" r="1.05" fill="#b4b8bc"/>
<circle cx="93.3" cy="64.0" r="1.05" fill="#b4b8bc"/>
<circle cx="95.4" cy="70.3" r="1.05" fill="#b4b8bc"/>
<circle cx="110.0" cy="68.7" r="1.05" fill="#e5412f"/>
<circle cx="84.0" cy="88.6" r="1.05" fill="#b4b8bc"/>
<circle cx="88.0" cy="72.8" r="1.05" fill="#e5412f"/>
<circle cx="88.6" cy="67.2" r="1.05" fill="#b4b8bc"/>
<circle cx="106.6" cy="69.4" r="1.05" fill="#b4b8bc"/>
<circle cx="99.2" cy="64.0" r="1.05" fill="#b4b8bc"/>
<circle cx="105.3" cy="66.5" r="1.05" fill="#b4b8bc"/>
<circle cx="85.2" cy="65.6" r="1.05" fill="#e5412f"/>
<circle cx="98.1" cy="60.5" r="1.05" fill="#b4b8bc"/>
<circle cx="95.2" cy="79.7" r="1.05" fill="#b4b8bc"/>
<circle cx="104.5" cy="72.1" r="1.05" fill="#b4b8bc"/>
<circle cx="91.5" cy="73.0" r="1.05" fill="#b4b8bc"/>
<circle cx="102.4" cy="63.2" r="1.05" fill="#b4b8bc"/>
<circle cx="107.9" cy="67.8" r="1.05" fill="#b4b8bc"/>
<circle cx="91.6" cy="73.9" r="1.05" fill="#b4b8bc"/>
<circle cx="99.3" cy="57.9" r="1.05" fill="#b4b8bc"/>
<circle cx="100.6" cy="76.9" r="1.05" fill="#b4b8bc"/>
<circle cx="89.0" cy="71.5" r="1.05" fill="#b4b8bc"/>
<circle cx="101.4" cy="68.3" r="1.05" fill="#b4b8bc"/>
<circle cx="97.9" cy="70.3" r="1.05" fill="#b4b8bc"/>
<circle cx="101.7" cy="70.8" r="1.05" fill="#b4b8bc"/>
<circle cx="93.4" cy="75.2" r="1.05" fill="#b4b8bc"/>
<circle cx="101.5" cy="68.6" r="1.05" fill="#b4b8bc"/>
<circle cx="101.6" cy="69.2" r="1.05" fill="#b4b8bc"/>
<circle cx="106.2" cy="68.2" r="1.05" fill="#b4b8bc"/>
<circle cx="98.9" cy="69.0" r="1.05" fill="#b4b8bc"/>
<circle cx="102.9" cy="67.0" r="1.05" fill="#b4b8bc"/>
<circle cx="97.0" cy="77.6" r="1.05" fill="#b4b8bc"/>
<circle cx="100.5" cy="73.3" r="1.05" fill="#b4b8bc"/>
<circle cx="92.4" cy="66.3" r="1.05" fill="#b4b8bc"/>
<circle cx="108.3" cy="67.4" r="1.05" fill="#b4b8bc"/>
<circle cx="101.8" cy="66.0" r="1.05" fill="#b4b8bc"/>
<circle cx="97.2" cy="63.7" r="1.05" fill="#b4b8bc"/>
<circle cx="122.0" cy="70.9" r="1.05" fill="#e5412f"/>
<circle cx="102.8" cy="71.1" r="1.05" fill="#b4b8bc"/>
<circle cx="107.8" cy="62.7" r="1.05" fill="#b4b8bc"/>
<circle cx="83.6" cy="72.8" r="1.05" fill="#e5412f"/>
<circle cx="105.5" cy="72.0" r="1.05" fill="#b4b8bc"/>
<circle cx="90.7" cy="73.9" r="1.05" fill="#b4b8bc"/>
<circle cx="89.7" cy="75.2" r="1.05" fill="#b4b8bc"/>
<circle cx="101.2" cy="82.1" r="1.05" fill="#b4b8bc"/>
<circle cx="93.4" cy="74.1" r="1.05" fill="#b4b8bc"/>
<circle cx="94.2" cy="71.4" r="1.05" fill="#b4b8bc"/>
<circle cx="96.3" cy="68.0" r="1.05" fill="#b4b8bc"/>
<circle cx="88.8" cy="70.9" r="1.05" fill="#b4b8bc"/>
<circle cx="103.8" cy="74.2" r="1.05" fill="#b4b8bc"/>
<circle cx="94.8" cy="74.5" r="1.05" fill="#b4b8bc"/>
<circle cx="105.3" cy="84.5" r="1.05" fill="#b4b8bc"/>
<circle cx="103.0" cy="67.9" r="1.05" fill="#b4b8bc"/>
<circle cx="102.6" cy="67.2" r="1.05" fill="#b4b8bc"/>
<circle cx="103.5" cy="88.6" r="1.05" fill="#b4b8bc"/>
<circle cx="107.8" cy="64.7" r="1.05" fill="#b4b8bc"/>
<circle cx="102.2" cy="75.0" r="1.05" fill="#b4b8bc"/>
<circle cx="98.8" cy="77.8" r="1.05" fill="#b4b8bc"/>
<circle cx="98.1" cy="82.8" r="1.05" fill="#b4b8bc"/>
<circle cx="101.7" cy="70.5" r="1.05" fill="#b4b8bc"/>
<circle cx="95.5" cy="69.7" r="1.05" fill="#b4b8bc"/>
<circle cx="90.8" cy="78.1" r="1.05" fill="#b4b8bc"/>
<circle cx="100.8" cy="78.2" r="1.05" fill="#b4b8bc"/>
<circle cx="97.5" cy="77.5" r="1.05" fill="#b4b8bc"/>
<circle cx="86.2" cy="72.8" r="1.05" fill="#e5412f"/>
<circle cx="87.7" cy="66.5" r="1.05" fill="#e5412f"/>
<circle cx="94.4" cy="64.5" r="1.05" fill="#b4b8bc"/>
<circle cx="97.2" cy="67.2" r="1.05" fill="#b4b8bc"/>
<circle cx="99.9" cy="77.7" r="1.05" fill="#b4b8bc"/>
<circle cx="102.4" cy="73.2" r="1.05" fill="#b4b8bc"/>
<circle cx="108.8" cy="67.2" r="1.05" fill="#b4b8bc"/>
<circle cx="106.7" cy="80.7" r="1.05" fill="#b4b8bc"/>
<circle cx="96.4" cy="72.6" r="1.05" fill="#b4b8bc"/>
<circle cx="108.5" cy="74.2" r="1.05" fill="#b4b8bc"/>
<circle cx="101.4" cy="69.9" r="1.05" fill="#b4b8bc"/>
<circle cx="92.7" cy="64.6" r="1.05" fill="#b4b8bc"/>
<circle cx="96.8" cy="73.4" r="1.05" fill="#b4b8bc"/>
<circle cx="96.9" cy="73.0" r="1.05" fill="#b4b8bc"/>
<circle cx="104.5" cy="74.5" r="1.05" fill="#b4b8bc"/>
<circle cx="105.1" cy="74.1" r="1.05" fill="#b4b8bc"/>
<circle cx="85.8" cy="66.6" r="1.05" fill="#e5412f"/>
<circle cx="97.3" cy="74.7" r="1.05" fill="#b4b8bc"/>
<circle cx="98.2" cy="78.9" r="1.05" fill="#b4b8bc"/>
<circle cx="96.9" cy="67.5" r="1.05" fill="#b4b8bc"/>
<circle cx="91.9" cy="64.6" r="1.05" fill="#b4b8bc"/>
<circle cx="58.2" cy="67.7" r="1.05" fill="#e5412f"/>
<circle cx="92.7" cy="67.2" r="1.05" fill="#b4b8bc"/>
<circle cx="97.3" cy="72.9" r="1.05" fill="#b4b8bc"/>
<circle cx="101.2" cy="74.6" r="1.05" fill="#b4b8bc"/>
<circle cx="102.7" cy="65.0" r="1.05" fill="#b4b8bc"/>
<circle cx="95.6" cy="72.5" r="1.05" fill="#b4b8bc"/>
<circle cx="92.5" cy="75.8" r="1.05" fill="#b4b8bc"/>
<circle cx="105.6" cy="76.5" r="1.05" fill="#b4b8bc"/>
<circle cx="97.7" cy="72.8" r="1.05" fill="#b4b8bc"/>
<circle cx="94.8" cy="73.6" r="1.05" fill="#b4b8bc"/>
<circle cx="97.6" cy="67.2" r="1.05" fill="#b4b8bc"/>
<circle cx="95.0" cy="76.0" r="1.05" fill="#b4b8bc"/>
<circle cx="96.7" cy="61.8" r="1.05" fill="#b4b8bc"/>
<circle cx="97.6" cy="64.0" r="1.05" fill="#b4b8bc"/>
<circle cx="108.3" cy="66.4" r="1.05" fill="#b4b8bc"/>
<circle cx="102.8" cy="68.1" r="1.05" fill="#b4b8bc"/>
<circle cx="106.6" cy="75.1" r="1.05" fill="#b4b8bc"/>
<circle cx="96.9" cy="83.1" r="1.05" fill="#b4b8bc"/>
<circle cx="101.5" cy="68.5" r="1.05" fill="#b4b8bc"/>
<circle cx="89.0" cy="69.2" r="1.05" fill="#b4b8bc"/>
<circle cx="88.6" cy="73.0" r="1.05" fill="#b4b8bc"/>
<circle cx="110.0" cy="71.3" r="1.05" fill="#e5412f"/>
<circle cx="106.5" cy="71.6" r="1.05" fill="#b4b8bc"/>
<circle cx="97.6" cy="65.6" r="1.05" fill="#b4b8bc"/>
<circle cx="100.9" cy="68.9" r="1.05" fill="#b4b8bc"/>
<circle cx="102.7" cy="67.1" r="1.05" fill="#b4b8bc"/>
<circle cx="91.1" cy="71.9" r="1.05" fill="#b4b8bc"/>
<circle cx="92.8" cy="72.0" r="1.05" fill="#b4b8bc"/>
<circle cx="92.6" cy="66.9" r="1.05" fill="#b4b8bc"/>
<circle cx="91.1" cy="70.5" r="1.05" fill="#b4b8bc"/>
<circle cx="98.2" cy="76.8" r="1.05" fill="#b4b8bc"/>
<circle cx="109.0" cy="74.6" r="1.05" fill="#b4b8bc"/>
<circle cx="94.5" cy="75.0" r="1.05" fill="#b4b8bc"/>
<circle cx="93.5" cy="75.7" r="1.05" fill="#b4b8bc"/>
<circle cx="99.2" cy="64.5" r="1.05" fill="#b4b8bc"/>
<circle cx="96.1" cy="63.5" r="1.05" fill="#b4b8bc"/>
<circle cx="82.0" cy="68.1" r="1.05" fill="#e5412f"/>
<circle cx="94.6" cy="67.1" r="1.05" fill="#b4b8bc"/>
<circle cx="106.5" cy="66.3" r="1.05" fill="#b4b8bc"/>
<circle cx="104.9" cy="65.2" r="1.05" fill="#b4b8bc"/>
<circle cx="87.4" cy="66.7" r="1.05" fill="#e5412f"/>
<circle cx="106.1" cy="72.3" r="1.05" fill="#b4b8bc"/>
<circle cx="104.6" cy="73.3" r="1.05" fill="#b4b8bc"/>
<circle cx="102.6" cy="66.3" r="1.05" fill="#b4b8bc"/>
<circle cx="97.1" cy="65.3" r="1.05" fill="#b4b8bc"/>
<circle cx="103.2" cy="69.7" r="1.05" fill="#b4b8bc"/>
<circle cx="95.3" cy="79.2" r="1.05" fill="#b4b8bc"/>
<circle cx="93.1" cy="74.0" r="1.05" fill="#b4b8bc"/>
<circle cx="98.1" cy="63.4" r="1.05" fill="#b4b8bc"/>
<circle cx="106.8" cy="66.3" r="1.05" fill="#b4b8bc"/>
<circle cx="90.0" cy="74.3" r="1.05" fill="#b4b8bc"/>
<circle cx="95.9" cy="58.4" r="1.05" fill="#b4b8bc"/>
<circle cx="92.3" cy="63.8" r="1.05" fill="#b4b8bc"/>
<circle cx="110.4" cy="70.1" r="1.05" fill="#e5412f"/>
<circle cx="97.1" cy="74.0" r="1.05" fill="#b4b8bc"/>
<circle cx="89.6" cy="69.1" r="1.05" fill="#b4b8bc"/>
<circle cx="100.6" cy="80.8" r="1.05" fill="#b4b8bc"/>
<circle cx="98.9" cy="71.2" r="1.05" fill="#b4b8bc"/>
<circle cx="93.5" cy="77.3" r="1.05" fill="#b4b8bc"/>
<circle cx="101.6" cy="71.6" r="1.05" fill="#b4b8bc"/>
<circle cx="93.4" cy="75.5" r="1.05" fill="#b4b8bc"/>
<circle cx="92.7" cy="62.1" r="1.05" fill="#b4b8bc"/>
<circle cx="97.4" cy="69.0" r="1.05" fill="#b4b8bc"/>
<circle cx="98.9" cy="71.9" r="1.05" fill="#b4b8bc"/>
<circle cx="94.1" cy="69.3" r="1.05" fill="#b4b8bc"/>
<circle cx="78.6" cy="85.5" r="1.05" fill="#b4b8bc"/>
<circle cx="112.3" cy="75.1" r="1.05" fill="#e5412f"/>
<circle cx="110.4" cy="75.4" r="1.05" fill="#e5412f"/>
<circle cx="109.1" cy="77.8" r="1.05" fill="#b4b8bc"/>
<circle cx="95.9" cy="64.9" r="1.05" fill="#b4b8bc"/>
<circle cx="91.3" cy="72.7" r="1.05" fill="#b4b8bc"/>
<circle cx="96.4" cy="68.1" r="1.05" fill="#b4b8bc"/>
<circle cx="93.5" cy="68.8" r="1.05" fill="#b4b8bc"/>
<circle cx="107.3" cy="72.2" r="1.05" fill="#b4b8bc"/>
<circle cx="106.1" cy="72.1" r="1.05" fill="#b4b8bc"/>
<circle cx="92.9" cy="68.5" r="1.05" fill="#b4b8bc"/>
<circle cx="104.5" cy="76.4" r="1.05" fill="#b4b8bc"/>
<circle cx="97.4" cy="67.3" r="1.05" fill="#b4b8bc"/>
<circle cx="112.2" cy="67.0" r="1.05" fill="#e5412f"/>
<circle cx="105.6" cy="69.1" r="1.05" fill="#b4b8bc"/>
<circle cx="102.5" cy="73.3" r="1.05" fill="#b4b8bc"/>
<circle cx="86.3" cy="74.1" r="1.05" fill="#e5412f"/>
<circle cx="106.9" cy="76.6" r="1.05" fill="#b4b8bc"/>
<circle cx="91.5" cy="70.5" r="1.05" fill="#b4b8bc"/>
<circle cx="97.1" cy="67.1" r="1.05" fill="#b4b8bc"/>
<circle cx="107.7" cy="76.9" r="1.05" fill="#b4b8bc"/>
<circle cx="100.5" cy="74.8" r="1.05" fill="#b4b8bc"/>
<circle cx="102.8" cy="70.7" r="1.05" fill="#b4b8bc"/>
<circle cx="92.7" cy="69.5" r="1.05" fill="#b4b8bc"/>
<circle cx="92.1" cy="78.0" r="1.05" fill="#b4b8bc"/>
<circle cx="91.1" cy="75.5" r="1.05" fill="#b4b8bc"/>
<circle cx="105.0" cy="70.8" r="1.05" fill="#b4b8bc"/>
<circle cx="91.9" cy="70.9" r="1.05" fill="#b4b8bc"/>
<circle cx="95.6" cy="69.7" r="1.05" fill="#b4b8bc"/>
<circle cx="85.3" cy="72.7" r="1.05" fill="#e5412f"/>
<circle cx="104.1" cy="59.0" r="1.05" fill="#b4b8bc"/>
<circle cx="92.1" cy="70.2" r="1.05" fill="#b4b8bc"/>
<circle cx="105.5" cy="72.1" r="1.05" fill="#b4b8bc"/>
<circle cx="108.3" cy="76.9" r="1.05" fill="#b4b8bc"/>
<circle cx="102.9" cy="72.0" r="1.05" fill="#b4b8bc"/>
<circle cx="103.9" cy="63.3" r="1.05" fill="#b4b8bc"/>
<circle cx="101.7" cy="78.1" r="1.05" fill="#b4b8bc"/>
<circle cx="99.9" cy="65.8" r="1.05" fill="#b4b8bc"/>
<circle cx="103.0" cy="79.6" r="1.05" fill="#b4b8bc"/>
<circle cx="105.6" cy="75.6" r="1.05" fill="#b4b8bc"/>
<circle cx="103.5" cy="74.9" r="1.05" fill="#b4b8bc"/>
<circle cx="99.1" cy="76.5" r="1.05" fill="#b4b8bc"/>
<circle cx="92.1" cy="64.2" r="1.05" fill="#b4b8bc"/>
<circle cx="108.3" cy="72.0" r="1.05" fill="#b4b8bc"/>
<circle cx="80.7" cy="64.7" r="1.05" fill="#e5412f"/>
<circle cx="93.3" cy="70.5" r="1.05" fill="#b4b8bc"/>
<circle cx="104.2" cy="82.9" r="1.05" fill="#b4b8bc"/>
<circle cx="109.6" cy="66.0" r="1.05" fill="#e5412f"/>
<circle cx="108.8" cy="69.0" r="1.05" fill="#b4b8bc"/>
<circle cx="104.6" cy="72.1" r="1.05" fill="#b4b8bc"/>
<circle cx="99.9" cy="63.9" r="1.05" fill="#b4b8bc"/>
<circle cx="95.0" cy="61.2" r="1.05" fill="#b4b8bc"/>
<circle cx="104.3" cy="70.1" r="1.05" fill="#b4b8bc"/>
<circle cx="106.8" cy="68.1" r="1.05" fill="#b4b8bc"/>
<circle cx="107.7" cy="82.8" r="1.05" fill="#b4b8bc"/>
<circle cx="94.6" cy="59.2" r="1.05" fill="#b4b8bc"/>
<circle cx="96.9" cy="76.3" r="1.05" fill="#b4b8bc"/>
<circle cx="89.2" cy="69.2" r="1.05" fill="#b4b8bc"/>
<circle cx="93.3" cy="72.4" r="1.05" fill="#b4b8bc"/>
<circle cx="103.7" cy="63.1" r="1.05" fill="#b4b8bc"/>
<circle cx="117.0" cy="79.7" r="1.05" fill="#e5412f"/>
<circle cx="98.1" cy="69.9" r="1.05" fill="#b4b8bc"/>
<circle cx="102.3" cy="77.1" r="1.05" fill="#b4b8bc"/>
<circle cx="99.6" cy="73.5" r="1.05" fill="#b4b8bc"/>
<circle cx="84.8" cy="75.1" r="1.05" fill="#e5412f"/>
<circle cx="95.7" cy="71.3" r="1.05" fill="#b4b8bc"/>
<circle cx="96.1" cy="70.0" r="1.05" fill="#b4b8bc"/>
<circle cx="101.7" cy="70.4" r="1.05" fill="#b4b8bc"/>
<circle cx="100.9" cy="72.3" r="1.05" fill="#b4b8bc"/>
<circle cx="87.2" cy="80.6" r="1.05" fill="#e5412f"/>
<circle cx="106.4" cy="69.1" r="1.05" fill="#b4b8bc"/>
<circle cx="103.4" cy="70.5" r="1.05" fill="#b4b8bc"/>
<circle cx="93.9" cy="69.6" r="1.05" fill="#b4b8bc"/>
<circle cx="112.4" cy="69.0" r="1.05" fill="#e5412f"/>
<circle cx="104.3" cy="74.9" r="1.05" fill="#b4b8bc"/>
<circle cx="103.2" cy="73.8" r="1.05" fill="#b4b8bc"/>
<circle cx="103.2" cy="60.4" r="1.05" fill="#b4b8bc"/>
<circle cx="96.4" cy="73.4" r="1.05" fill="#b4b8bc"/>
<circle cx="103.6" cy="80.9" r="1.05" fill="#b4b8bc"/>
<circle cx="106.7" cy="75.2" r="1.05" fill="#b4b8bc"/>
<circle cx="91.4" cy="66.9" r="1.05" fill="#b4b8bc"/>
<circle cx="102.5" cy="80.1" r="1.05" fill="#b4b8bc"/>
<circle cx="103.1" cy="68.1" r="1.05" fill="#b4b8bc"/>
<circle cx="87.9" cy="76.6" r="1.05" fill="#e5412f"/>
<circle cx="91.4" cy="77.4" r="1.05" fill="#b4b8bc"/>
<circle cx="89.1" cy="68.8" r="1.05" fill="#b4b8bc"/>
<circle cx="105.7" cy="72.8" r="1.05" fill="#b4b8bc"/>
<circle cx="102.3" cy="66.7" r="1.05" fill="#b4b8bc"/>
<circle cx="106.2" cy="73.1" r="1.05" fill="#b4b8bc"/>
<circle cx="106.6" cy="73.5" r="1.05" fill="#b4b8bc"/>
<circle cx="91.6" cy="72.7" r="1.05" fill="#b4b8bc"/>
<circle cx="90.8" cy="70.2" r="1.05" fill="#b4b8bc"/>
<circle cx="90.5" cy="79.5" r="1.05" fill="#b4b8bc"/>
<circle cx="96.4" cy="66.3" r="1.05" fill="#b4b8bc"/>
<circle cx="91.6" cy="66.2" r="1.05" fill="#b4b8bc"/>
<circle cx="88.3" cy="71.0" r="1.05" fill="#e5412f"/>
<circle cx="90.9" cy="64.2" r="1.05" fill="#b4b8bc"/>
<circle cx="102.9" cy="67.5" r="1.05" fill="#b4b8bc"/>
<circle cx="91.9" cy="67.2" r="1.05" fill="#b4b8bc"/>
<circle cx="101.2" cy="62.4" r="1.05" fill="#b4b8bc"/>
<circle cx="108.9" cy="72.9" r="1.05" fill="#b4b8bc"/>
<circle cx="96.2" cy="72.1" r="1.05" fill="#b4b8bc"/>
<circle cx="95.0" cy="70.3" r="1.05" fill="#b4b8bc"/>
<circle cx="95.8" cy="78.2" r="1.05" fill="#b4b8bc"/>
<circle cx="98.6" cy="68.6" r="1.05" fill="#b4b8bc"/>
<circle cx="106.7" cy="79.1" r="1.05" fill="#b4b8bc"/>
<circle cx="86.7" cy="65.9" r="1.05" fill="#e5412f"/>
<circle cx="101.8" cy="69.4" r="1.05" fill="#b4b8bc"/>
<circle cx="89.2" cy="69.9" r="1.05" fill="#b4b8bc"/>
<circle cx="105.3" cy="58.7" r="1.05" fill="#b4b8bc"/>
<circle cx="90.5" cy="73.7" r="1.05" fill="#b4b8bc"/>
<circle cx="95.2" cy="69.2" r="1.05" fill="#b4b8bc"/>
<circle cx="107.4" cy="73.8" r="1.05" fill="#b4b8bc"/>
<circle cx="90.9" cy="70.6" r="1.05" fill="#b4b8bc"/>
<circle cx="102.9" cy="67.6" r="1.05" fill="#b4b8bc"/>
<circle cx="71.0" cy="66.4" r="1.05" fill="#e5412f"/>
<circle cx="96.1" cy="68.6" r="1.05" fill="#b4b8bc"/>
<circle cx="75.5" cy="74.1" r="1.05" fill="#e5412f"/>
<circle cx="105.7" cy="67.6" r="1.05" fill="#b4b8bc"/>
<circle cx="88.7" cy="75.0" r="1.05" fill="#b4b8bc"/>
<circle cx="108.7" cy="71.4" r="1.05" fill="#b4b8bc"/>
<circle cx="93.2" cy="70.4" r="1.05" fill="#b4b8bc"/>
<circle cx="89.8" cy="65.6" r="1.05" fill="#b4b8bc"/>
<circle cx="94.0" cy="70.2" r="1.05" fill="#b4b8bc"/>
<circle cx="84.5" cy="74.4" r="1.05" fill="#e5412f"/>
<circle cx="109.1" cy="82.0" r="1.05" fill="#b4b8bc"/>
<circle cx="108.6" cy="66.6" r="1.05" fill="#b4b8bc"/>
<circle cx="104.9" cy="71.7" r="1.05" fill="#b4b8bc"/>
<circle cx="93.6" cy="71.9" r="1.05" fill="#b4b8bc"/>
<circle cx="96.4" cy="78.4" r="1.05" fill="#b4b8bc"/>
<circle cx="103.4" cy="78.5" r="1.05" fill="#b4b8bc"/>
<circle cx="105.5" cy="61.3" r="1.05" fill="#b4b8bc"/>
<circle cx="108.1" cy="66.2" r="1.05" fill="#b4b8bc"/>
<circle cx="104.8" cy="74.4" r="1.05" fill="#b4b8bc"/>
<circle cx="111.6" cy="68.3" r="1.05" fill="#e5412f"/>
<circle cx="108.8" cy="74.4" r="1.05" fill="#b4b8bc"/>
<circle cx="92.9" cy="80.3" r="1.05" fill="#b4b8bc"/>
<circle cx="108.5" cy="69.3" r="1.05" fill="#b4b8bc"/>
<circle cx="102.4" cy="61.3" r="1.05" fill="#b4b8bc"/>
<circle cx="100.2" cy="69.8" r="1.05" fill="#b4b8bc"/>
<circle cx="92.5" cy="85.2" r="1.05" fill="#b4b8bc"/>
<circle cx="101.1" cy="67.8" r="1.05" fill="#b4b8bc"/>
<circle cx="104.6" cy="63.9" r="1.05" fill="#b4b8bc"/>
<circle cx="102.6" cy="60.5" r="1.05" fill="#b4b8bc"/>
<circle cx="88.4" cy="73.3" r="1.05" fill="#e5412f"/>
<circle cx="99.6" cy="62.5" r="1.05" fill="#b4b8bc"/>
<circle cx="97.8" cy="76.0" r="1.05" fill="#b4b8bc"/>
<circle cx="90.3" cy="76.4" r="1.05" fill="#b4b8bc"/>
<circle cx="95.3" cy="56.6" r="1.05" fill="#b4b8bc"/>
<circle cx="107.0" cy="73.2" r="1.05" fill="#b4b8bc"/>
<circle cx="97.6" cy="68.5" r="1.05" fill="#b4b8bc"/>
<circle cx="92.8" cy="79.2" r="1.05" fill="#b4b8bc"/>
<circle cx="89.5" cy="79.8" r="1.05" fill="#b4b8bc"/>
<circle cx="104.0" cy="72.6" r="1.05" fill="#b4b8bc"/>
<circle cx="94.8" cy="68.4" r="1.05" fill="#b4b8bc"/>
<circle cx="94.6" cy="65.3" r="1.05" fill="#b4b8bc"/>
<circle cx="100.3" cy="68.5" r="1.05" fill="#b4b8bc"/>
<circle cx="107.1" cy="66.8" r="1.05" fill="#b4b8bc"/>
<circle cx="100.8" cy="69.3" r="1.05" fill="#b4b8bc"/>
<circle cx="96.3" cy="72.7" r="1.05" fill="#b4b8bc"/>
<circle cx="95.7" cy="74.7" r="1.05" fill="#b4b8bc"/>
<circle cx="96.5" cy="70.3" r="1.05" fill="#b4b8bc"/>
<circle cx="106.1" cy="70.8" r="1.05" fill="#b4b8bc"/>
<circle cx="95.6" cy="67.8" r="1.05" fill="#b4b8bc"/>
<circle cx="91.6" cy="67.7" r="1.05" fill="#b4b8bc"/>
<circle cx="86.1" cy="75.0" r="1.05" fill="#e5412f"/>
<circle cx="97.3" cy="65.0" r="1.05" fill="#b4b8bc"/>
<circle cx="103.4" cy="67.5" r="1.05" fill="#b4b8bc"/>
<circle cx="105.6" cy="76.3" r="1.05" fill="#b4b8bc"/>
<circle cx="98.6" cy="76.2" r="1.05" fill="#b4b8bc"/>
<circle cx="106.4" cy="73.9" r="1.05" fill="#b4b8bc"/>
<circle cx="106.6" cy="67.5" r="1.05" fill="#b4b8bc"/>
<circle cx="103.5" cy="69.0" r="1.05" fill="#b4b8bc"/>
<circle cx="87.0" cy="74.1" r="1.05" fill="#e5412f"/>
<circle cx="90.9" cy="74.7" r="1.05" fill="#b4b8bc"/>
<circle cx="106.6" cy="75.1" r="1.05" fill="#b4b8bc"/>
<circle cx="103.3" cy="75.1" r="1.05" fill="#b4b8bc"/>
<circle cx="101.7" cy="70.7" r="1.05" fill="#b4b8bc"/>
<circle cx="90.7" cy="72.7" r="1.05" fill="#b4b8bc"/>
<circle cx="91.1" cy="72.8" r="1.05" fill="#b4b8bc"/>
<circle cx="106.9" cy="80.2" r="1.05" fill="#b4b8bc"/>
<circle cx="92.9" cy="74.0" r="1.05" fill="#b4b8bc"/>
<circle cx="93.2" cy="78.5" r="1.05" fill="#b4b8bc"/>
<circle cx="105.4" cy="71.7" r="1.05" fill="#b4b8bc"/>
<circle cx="89.8" cy="81.6" r="1.05" fill="#b4b8bc"/>
<circle cx="93.3" cy="67.6" r="1.05" fill="#b4b8bc"/>
<circle cx="101.2" cy="85.4" r="1.05" fill="#b4b8bc"/>
<circle cx="93.7" cy="74.4" r="1.05" fill="#b4b8bc"/>
<circle cx="103.7" cy="83.0" r="1.05" fill="#b4b8bc"/>
<circle cx="111.1" cy="77.4" r="1.05" fill="#e5412f"/>
<circle cx="106.4" cy="78.9" r="1.05" fill="#b4b8bc"/>
<circle cx="105.2" cy="66.8" r="1.05" fill="#b4b8bc"/>
<circle cx="105.6" cy="71.6" r="1.05" fill="#b4b8bc"/>
<circle cx="93.7" cy="59.1" r="1.05" fill="#b4b8bc"/>
<circle cx="94.0" cy="64.5" r="1.05" fill="#b4b8bc"/>
<circle cx="113.9" cy="71.5" r="1.05" fill="#e5412f"/>
<circle cx="77.8" cy="68.0" r="1.05" fill="#e5412f"/>
<circle cx="119.9" cy="70.0" r="1.05" fill="#e5412f"/>
<circle cx="94.0" cy="68.1" r="1.05" fill="#b4b8bc"/>
<circle cx="91.7" cy="74.4" r="1.05" fill="#b4b8bc"/>
<circle cx="92.4" cy="69.5" r="1.05" fill="#b4b8bc"/>
<circle cx="97.5" cy="66.7" r="1.05" fill="#b4b8bc"/>
<circle cx="102.1" cy="64.8" r="1.05" fill="#b4b8bc"/>
<circle cx="105.1" cy="65.9" r="1.05" fill="#b4b8bc"/>
<circle cx="94.5" cy="67.2" r="1.05" fill="#b4b8bc"/>
<circle cx="89.6" cy="66.8" r="1.05" fill="#b4b8bc"/>
<circle cx="95.8" cy="77.8" r="1.05" fill="#b4b8bc"/>
<circle cx="95.7" cy="68.6" r="1.05" fill="#b4b8bc"/>
<circle cx="98.9" cy="82.1" r="1.05" fill="#b4b8bc"/>
<circle cx="113.5" cy="69.8" r="1.05" fill="#e5412f"/>
<circle cx="89.4" cy="62.0" r="1.05" fill="#b4b8bc"/>
<circle cx="91.7" cy="79.7" r="1.05" fill="#b4b8bc"/>
<circle cx="101.8" cy="73.2" r="1.05" fill="#b4b8bc"/>
<circle cx="96.9" cy="78.7" r="1.05" fill="#b4b8bc"/>
<circle cx="94.8" cy="69.0" r="1.05" fill="#b4b8bc"/>
<circle cx="105.1" cy="70.8" r="1.05" fill="#b4b8bc"/>
<circle cx="91.9" cy="80.6" r="1.05" fill="#b4b8bc"/>
<circle cx="97.2" cy="74.0" r="1.05" fill="#b4b8bc"/>
<circle cx="96.3" cy="76.1" r="1.05" fill="#b4b8bc"/>
<circle cx="97.4" cy="73.4" r="1.05" fill="#b4b8bc"/>
<circle cx="100.7" cy="68.2" r="1.05" fill="#b4b8bc"/>
<circle cx="79.5" cy="69.8" r="1.05" fill="#e5412f"/>
<circle cx="107.0" cy="65.8" r="1.05" fill="#b4b8bc"/>
<circle cx="104.0" cy="71.7" r="1.05" fill="#b4b8bc"/>
<circle cx="94.2" cy="70.2" r="1.05" fill="#b4b8bc"/>
<circle cx="95.9" cy="73.0" r="1.05" fill="#b4b8bc"/>
<circle cx="94.5" cy="75.9" r="1.05" fill="#b4b8bc"/>
<circle cx="99.4" cy="76.3" r="1.05" fill="#b4b8bc"/>
<circle cx="108.2" cy="70.6" r="1.05" fill="#b4b8bc"/>
<circle cx="98.7" cy="69.3" r="1.05" fill="#b4b8bc"/>
<circle cx="97.2" cy="66.1" r="1.05" fill="#b4b8bc"/>
<circle cx="108.8" cy="68.1" r="1.05" fill="#b4b8bc"/>
<circle cx="111.0" cy="69.2" r="1.05" fill="#e5412f"/>
<circle cx="107.4" cy="72.6" r="1.05" fill="#b4b8bc"/>
<circle cx="103.4" cy="71.3" r="1.05" fill="#b4b8bc"/>
<circle cx="103.3" cy="71.3" r="1.05" fill="#b4b8bc"/>
<circle cx="108.5" cy="77.8" r="1.05" fill="#b4b8bc"/>
<circle cx="101.3" cy="64.7" r="1.05" fill="#b4b8bc"/>
<circle cx="89.0" cy="87.6" r="1.05" fill="#b4b8bc"/>
<circle cx="106.5" cy="73.9" r="1.05" fill="#b4b8bc"/>
<circle cx="108.6" cy="66.7" r="1.05" fill="#b4b8bc"/>
<circle cx="109.5" cy="72.4" r="1.05" fill="#e5412f"/>
<circle cx="91.1" cy="68.9" r="1.05" fill="#b4b8bc"/>
<circle cx="94.5" cy="73.2" r="1.05" fill="#b4b8bc"/>
<circle cx="91.8" cy="69.8" r="1.05" fill="#b4b8bc"/>
<circle cx="108.0" cy="76.2" r="1.05" fill="#b4b8bc"/>
<circle cx="86.6" cy="74.1" r="1.05" fill="#e5412f"/>
<circle cx="112.6" cy="72.1" r="1.05" fill="#e5412f"/>
<circle cx="103.1" cy="72.8" r="1.05" fill="#b4b8bc"/>
<circle cx="95.3" cy="65.8" r="1.05" fill="#b4b8bc"/>
<circle cx="109.9" cy="63.0" r="1.05" fill="#e5412f"/>
<circle cx="93.0" cy="81.5" r="1.05" fill="#b4b8bc"/>
<circle cx="100.1" cy="76.1" r="1.05" fill="#b4b8bc"/>
<circle cx="96.1" cy="61.6" r="1.05" fill="#b4b8bc"/>
<circle cx="99.3" cy="70.4" r="1.05" fill="#b4b8bc"/>
<circle cx="106.4" cy="84.1" r="1.05" fill="#b4b8bc"/>
<circle cx="90.8" cy="72.5" r="1.05" fill="#b4b8bc"/>
<circle cx="87.6" cy="76.8" r="1.05" fill="#e5412f"/>
<circle cx="98.4" cy="65.3" r="1.05" fill="#b4b8bc"/>
<circle cx="108.4" cy="68.2" r="1.05" fill="#b4b8bc"/>
<circle cx="67.9" cy="72.1" r="1.05" fill="#e5412f"/>
<circle cx="106.5" cy="70.0" r="1.05" fill="#b4b8bc"/>
<circle cx="108.5" cy="73.9" r="1.05" fill="#b4b8bc"/>
<circle cx="95.8" cy="70.3" r="1.05" fill="#b4b8bc"/>
<circle cx="112.9" cy="74.0" r="1.05" fill="#e5412f"/>
<circle cx="91.9" cy="73.0" r="1.05" fill="#b4b8bc"/>
<circle cx="108.3" cy="68.0" r="1.05" fill="#b4b8bc"/>
<circle cx="95.0" cy="67.4" r="1.05" fill="#b4b8bc"/>
<circle cx="92.4" cy="62.2" r="1.05" fill="#b4b8bc"/>
<circle cx="109.5" cy="72.2" r="1.05" fill="#e5412f"/>
<circle cx="101.5" cy="64.2" r="1.05" fill="#b4b8bc"/>
<circle cx="102.6" cy="71.8" r="1.05" fill="#b4b8bc"/>
<circle cx="106.8" cy="74.2" r="1.05" fill="#b4b8bc"/>
<circle cx="91.8" cy="67.9" r="1.05" fill="#b4b8bc"/>
<circle cx="103.8" cy="62.8" r="1.05" fill="#b4b8bc"/>
<circle cx="108.1" cy="69.9" r="1.05" fill="#b4b8bc"/>
<circle cx="84.5" cy="74.4" r="1.05" fill="#e5412f"/>
<circle cx="106.8" cy="65.5" r="1.05" fill="#b4b8bc"/>
<circle cx="91.1" cy="74.5" r="1.05" fill="#b4b8bc"/>
<circle cx="81.1" cy="70.3" r="1.05" fill="#e5412f"/>
<circle cx="106.9" cy="67.7" r="1.05" fill="#b4b8bc"/>
<circle cx="105.3" cy="67.5" r="1.05" fill="#b4b8bc"/>
<circle cx="101.2" cy="59.0" r="1.05" fill="#b4b8bc"/>
<circle cx="87.3" cy="76.1" r="1.05" fill="#e5412f"/>
<circle cx="96.8" cy="68.2" r="1.05" fill="#b4b8bc"/>
<circle cx="104.5" cy="66.7" r="1.05" fill="#b4b8bc"/>
<circle cx="95.5" cy="63.2" r="1.05" fill="#b4b8bc"/>
<circle cx="106.8" cy="64.7" r="1.05" fill="#b4b8bc"/>
<circle cx="99.1" cy="78.1" r="1.05" fill="#b4b8bc"/>
<circle cx="88.7" cy="71.0" r="1.05" fill="#b4b8bc"/>
<circle cx="102.6" cy="63.0" r="1.05" fill="#b4b8bc"/>
<circle cx="90.0" cy="64.9" r="1.05" fill="#b4b8bc"/>
<circle cx="96.5" cy="69.6" r="1.05" fill="#b4b8bc"/>
<circle cx="88.7" cy="68.9" r="1.05" fill="#b4b8bc"/>
<circle cx="103.9" cy="66.8" r="1.05" fill="#b4b8bc"/>
<circle cx="95.8" cy="70.6" r="1.05" fill="#b4b8bc"/>
<circle cx="115.2" cy="68.2" r="1.05" fill="#e5412f"/>
<circle cx="84.5" cy="72.9" r="1.05" fill="#e5412f"/>
<circle cx="90.2" cy="68.8" r="1.05" fill="#b4b8bc"/>
<circle cx="104.8" cy="72.4" r="1.05" fill="#b4b8bc"/>
<circle cx="100.7" cy="70.7" r="1.05" fill="#b4b8bc"/>
<circle cx="91.6" cy="64.5" r="1.05" fill="#b4b8bc"/>
<circle cx="92.0" cy="66.4" r="1.05" fill="#b4b8bc"/>
<circle cx="93.2" cy="78.3" r="1.05" fill="#b4b8bc"/>
<circle cx="98.1" cy="69.2" r="1.05" fill="#b4b8bc"/>
<circle cx="89.6" cy="67.8" r="1.05" fill="#b4b8bc"/>
<circle cx="94.8" cy="66.5" r="1.05" fill="#b4b8bc"/>
<circle cx="94.0" cy="67.4" r="1.05" fill="#b4b8bc"/>
<circle cx="100.6" cy="70.2" r="1.05" fill="#b4b8bc"/>
<circle cx="89.4" cy="73.1" r="1.05" fill="#b4b8bc"/>
<circle cx="107.3" cy="71.1" r="1.05" fill="#b4b8bc"/>
<circle cx="94.1" cy="71.0" r="1.05" fill="#b4b8bc"/>
<circle cx="73.1" cy="70.7" r="1.05" fill="#e5412f"/>
<circle cx="103.7" cy="74.9" r="1.05" fill="#b4b8bc"/>
<circle cx="74.5" cy="73.1" r="1.05" fill="#e5412f"/>
<circle cx="105.4" cy="73.4" r="1.05" fill="#b4b8bc"/>
<circle cx="99.3" cy="62.7" r="1.05" fill="#b4b8bc"/>
<circle cx="109.0" cy="82.3" r="1.05" fill="#b4b8bc"/>
<circle cx="96.2" cy="66.6" r="1.05" fill="#b4b8bc"/>
<circle cx="92.1" cy="74.5" r="1.05" fill="#b4b8bc"/>
<circle cx="92.9" cy="75.5" r="1.05" fill="#b4b8bc"/>
<circle cx="73.7" cy="72.7" r="1.05" fill="#e5412f"/>
<circle cx="89.9" cy="70.3" r="1.05" fill="#b4b8bc"/>
<circle cx="109.7" cy="69.3" r="1.05" fill="#e5412f"/>
<circle cx="90.8" cy="72.4" r="1.05" fill="#b4b8bc"/>
<circle cx="89.5" cy="67.7" r="1.05" fill="#b4b8bc"/>
<circle cx="93.2" cy="67.7" r="1.05" fill="#b4b8bc"/>
<circle cx="90.6" cy="61.9" r="1.05" fill="#b4b8bc"/>
<circle cx="101.1" cy="73.5" r="1.05" fill="#b4b8bc"/>
<circle cx="106.1" cy="69.9" r="1.05" fill="#b4b8bc"/>
<circle cx="100.5" cy="79.5" r="1.05" fill="#b4b8bc"/>
<circle cx="96.0" cy="71.4" r="1.05" fill="#b4b8bc"/>
<circle cx="96.0" cy="69.0" r="1.05" fill="#b4b8bc"/>
<circle cx="109.1" cy="75.1" r="1.05" fill="#b4b8bc"/>
<circle cx="102.9" cy="70.3" r="1.05" fill="#b4b8bc"/>
<circle cx="96.3" cy="58.8" r="1.05" fill="#b4b8bc"/>
<circle cx="100.9" cy="74.0" r="1.05" fill="#b4b8bc"/>
<circle cx="91.7" cy="65.6" r="1.05" fill="#b4b8bc"/>
<circle cx="89.7" cy="73.6" r="1.05" fill="#b4b8bc"/>
<circle cx="106.5" cy="79.7" r="1.05" fill="#b4b8bc"/>
<circle cx="99.3" cy="72.8" r="1.05" fill="#b4b8bc"/>
<circle cx="91.6" cy="68.5" r="1.05" fill="#b4b8bc"/>
<circle cx="95.5" cy="71.6" r="1.05" fill="#b4b8bc"/>
<circle cx="94.8" cy="70.8" r="1.05" fill="#b4b8bc"/>
<circle cx="90.2" cy="73.6" r="1.05" fill="#b4b8bc"/>
<circle cx="104.4" cy="74.5" r="1.05" fill="#b4b8bc"/>
<circle cx="95.6" cy="73.8" r="1.05" fill="#b4b8bc"/>
<circle cx="107.8" cy="74.6" r="1.05" fill="#b4b8bc"/>
<circle cx="95.9" cy="74.9" r="1.05" fill="#b4b8bc"/>
<circle cx="83.5" cy="84.0" r="1.05" fill="#b4b8bc"/>
<circle cx="107.8" cy="70.6" r="1.05" fill="#b4b8bc"/>
<circle cx="103.2" cy="68.7" r="1.05" fill="#b4b8bc"/>
<circle cx="104.8" cy="72.1" r="1.05" fill="#b4b8bc"/>
<circle cx="96.2" cy="73.2" r="1.05" fill="#b4b8bc"/>
<circle cx="112.1" cy="62.9" r="1.05" fill="#e5412f"/>
<circle cx="109.2" cy="66.8" r="1.05" fill="#b4b8bc"/>
<circle cx="103.8" cy="70.1" r="1.05" fill="#b4b8bc"/>
<circle cx="104.1" cy="68.1" r="1.05" fill="#b4b8bc"/>
<circle cx="105.1" cy="75.0" r="1.05" fill="#b4b8bc"/>
<circle cx="100.5" cy="60.6" r="1.05" fill="#b4b8bc"/>
<circle cx="96.3" cy="77.2" r="1.05" fill="#b4b8bc"/>
<circle cx="101.7" cy="72.5" r="1.05" fill="#b4b8bc"/>
<circle cx="105.8" cy="59.1" r="1.05" fill="#b4b8bc"/>
<circle cx="100.3" cy="74.6" r="1.05" fill="#b4b8bc"/>
<circle cx="92.5" cy="76.9" r="1.05" fill="#b4b8bc"/>
<circle cx="91.2" cy="74.2" r="1.05" fill="#b4b8bc"/>
<circle cx="107.0" cy="69.3" r="1.05" fill="#b4b8bc"/>
<circle cx="103.9" cy="68.2" r="1.05" fill="#b4b8bc"/>
<circle cx="99.6" cy="67.4" r="1.05" fill="#b4b8bc"/>
<circle cx="93.6" cy="67.7" r="1.05" fill="#b4b8bc"/>
<circle cx="100.9" cy="63.7" r="1.05" fill="#b4b8bc"/>
<circle cx="107.1" cy="79.2" r="1.05" fill="#b4b8bc"/>
<circle cx="110.5" cy="70.0" r="1.05" fill="#e5412f"/>
<circle cx="102.2" cy="73.4" r="1.05" fill="#b4b8bc"/>
<circle cx="90.7" cy="69.3" r="1.05" fill="#b4b8bc"/>
<circle cx="88.9" cy="75.8" r="1.05" fill="#b4b8bc"/>
<circle cx="92.9" cy="66.5" r="1.05" fill="#b4b8bc"/>
<circle cx="105.2" cy="72.8" r="1.05" fill="#b4b8bc"/>
<circle cx="96.8" cy="70.6" r="1.05" fill="#b4b8bc"/>
<circle cx="97.4" cy="71.2" r="1.05" fill="#b4b8bc"/>
<circle cx="113.7" cy="71.9" r="1.05" fill="#e5412f"/>
<circle cx="99.8" cy="77.2" r="1.05" fill="#b4b8bc"/>
<circle cx="91.6" cy="62.5" r="1.05" fill="#b4b8bc"/>
<circle cx="93.8" cy="74.1" r="1.05" fill="#b4b8bc"/>
<circle cx="102.4" cy="69.9" r="1.05" fill="#b4b8bc"/>
<circle cx="94.0" cy="61.2" r="1.05" fill="#b4b8bc"/>
<circle cx="96.7" cy="74.8" r="1.05" fill="#b4b8bc"/>
<circle cx="99.0" cy="70.4" r="1.05" fill="#b4b8bc"/>
<circle cx="96.7" cy="74.8" r="1.05" fill="#b4b8bc"/>
<circle cx="89.9" cy="73.9" r="1.05" fill="#b4b8bc"/>
<circle cx="90.4" cy="79.2" r="1.05" fill="#b4b8bc"/>
<circle cx="106.8" cy="74.2" r="1.05" fill="#b4b8bc"/>
<circle cx="96.5" cy="75.4" r="1.05" fill="#b4b8bc"/>
<circle cx="103.7" cy="71.9" r="1.05" fill="#b4b8bc"/>
<circle cx="95.1" cy="67.1" r="1.05" fill="#b4b8bc"/>
<circle cx="98.0" cy="67.0" r="1.05" fill="#b4b8bc"/>
<circle cx="93.0" cy="80.0" r="1.05" fill="#b4b8bc"/>
<circle cx="80.7" cy="72.7" r="1.05" fill="#e5412f"/>
<circle cx="91.1" cy="70.7" r="1.05" fill="#b4b8bc"/>
<circle cx="98.1" cy="72.1" r="1.05" fill="#b4b8bc"/>
<circle cx="95.8" cy="73.8" r="1.05" fill="#b4b8bc"/>
<circle cx="103.9" cy="73.9" r="1.05" fill="#b4b8bc"/>
<circle cx="97.5" cy="61.5" r="1.05" fill="#b4b8bc"/>
<circle cx="94.7" cy="60.3" r="1.05" fill="#b4b8bc"/>
<circle cx="86.1" cy="86.2" r="1.05" fill="#b4b8bc"/>
<circle cx="101.7" cy="75.9" r="1.05" fill="#b4b8bc"/>
<circle cx="108.7" cy="64.7" r="1.05" fill="#b4b8bc"/>
<circle cx="93.1" cy="64.1" r="1.05" fill="#b4b8bc"/>
<circle cx="105.1" cy="75.8" r="1.05" fill="#b4b8bc"/>
<circle cx="100.7" cy="76.4" r="1.05" fill="#b4b8bc"/>
<circle cx="99.5" cy="68.6" r="1.05" fill="#b4b8bc"/>
<circle cx="106.1" cy="75.6" r="1.05" fill="#b4b8bc"/>
<circle cx="105.3" cy="78.9" r="1.05" fill="#b4b8bc"/>
<circle cx="95.1" cy="75.7" r="1.05" fill="#b4b8bc"/>
<circle cx="86.0" cy="79.3" r="1.05" fill="#e5412f"/>
<circle cx="128.0" cy="67.0" r="1.05" fill="#e5412f"/>
<circle cx="85.7" cy="67.5" r="1.05" fill="#e5412f"/>
<circle cx="94.8" cy="67.4" r="1.05" fill="#b4b8bc"/>
<circle cx="93.2" cy="64.3" r="1.05" fill="#b4b8bc"/>
<circle cx="78.8" cy="72.9" r="1.05" fill="#e5412f"/>
<circle cx="98.0" cy="72.0" r="1.05" fill="#b4b8bc"/>
<circle cx="107.9" cy="68.5" r="1.05" fill="#b4b8bc"/>
<circle cx="100.4" cy="62.5" r="1.05" fill="#b4b8bc"/>
<circle cx="96.6" cy="69.2" r="1.05" fill="#b4b8bc"/>
<circle cx="101.7" cy="63.1" r="1.05" fill="#b4b8bc"/>
<circle cx="108.7" cy="79.2" r="1.05" fill="#b4b8bc"/>
<circle cx="109.7" cy="70.8" r="1.05" fill="#e5412f"/>
<circle cx="90.0" cy="73.8" r="1.05" fill="#b4b8bc"/>
<circle cx="85.1" cy="70.1" r="1.05" fill="#e5412f"/>
<circle cx="105.1" cy="70.0" r="1.05" fill="#b4b8bc"/>
<circle cx="79.6" cy="70.4" r="1.05" fill="#e5412f"/>
<circle cx="106.7" cy="63.5" r="1.05" fill="#b4b8bc"/>
<circle cx="92.7" cy="71.5" r="1.05" fill="#b4b8bc"/>
<circle cx="89.4" cy="72.8" r="1.05" fill="#b4b8bc"/>
<circle cx="91.4" cy="67.0" r="1.05" fill="#b4b8bc"/>
<circle cx="94.0" cy="71.1" r="1.05" fill="#b4b8bc"/>
<circle cx="108.8" cy="62.8" r="1.05" fill="#b4b8bc"/>
<circle cx="91.6" cy="77.3" r="1.05" fill="#b4b8bc"/>
<circle cx="103.9" cy="74.3" r="1.05" fill="#b4b8bc"/>
<circle cx="106.3" cy="68.5" r="1.05" fill="#b4b8bc"/>
<circle cx="90.5" cy="69.0" r="1.05" fill="#b4b8bc"/>
<circle cx="101.1" cy="87.6" r="1.05" fill="#b4b8bc"/>
<circle cx="110.3" cy="73.0" r="1.05" fill="#e5412f"/>
<circle cx="92.3" cy="68.9" r="1.05" fill="#b4b8bc"/>
<circle cx="81.1" cy="72.5" r="1.05" fill="#e5412f"/>
<circle cx="104.9" cy="67.7" r="1.05" fill="#b4b8bc"/>
<circle cx="107.3" cy="77.2" r="1.05" fill="#b4b8bc"/>
<circle cx="94.2" cy="70.9" r="1.05" fill="#b4b8bc"/>
<circle cx="100.6" cy="69.7" r="1.05" fill="#b4b8bc"/>
<circle cx="87.8" cy="64.1" r="1.05" fill="#e5412f"/>
<circle cx="103.0" cy="79.7" r="1.05" fill="#b4b8bc"/>
<circle cx="107.1" cy="78.9" r="1.05" fill="#b4b8bc"/>
<circle cx="85.5" cy="77.0" r="1.05" fill="#e5412f"/>
<circle cx="108.8" cy="70.2" r="1.05" fill="#b4b8bc"/>
<circle cx="91.0" cy="63.0" r="1.05" fill="#b4b8bc"/>
<circle cx="106.6" cy="70.1" r="1.05" fill="#b4b8bc"/>
<circle cx="104.6" cy="74.2" r="1.05" fill="#b4b8bc"/>
<circle cx="99.2" cy="63.9" r="1.05" fill="#b4b8bc"/>
<circle cx="91.4" cy="75.5" r="1.05" fill="#b4b8bc"/>
<circle cx="89.3" cy="81.7" r="1.05" fill="#b4b8bc"/>
<circle cx="106.6" cy="71.4" r="1.05" fill="#b4b8bc"/>
<circle cx="106.7" cy="74.7" r="1.05" fill="#b4b8bc"/>
<circle cx="104.2" cy="77.4" r="1.05" fill="#b4b8bc"/>
<circle cx="89.7" cy="76.9" r="1.05" fill="#b4b8bc"/>
<circle cx="105.7" cy="65.2" r="1.05" fill="#b4b8bc"/>
<circle cx="102.4" cy="70.7" r="1.05" fill="#b4b8bc"/>
<circle cx="94.3" cy="85.3" r="1.05" fill="#b4b8bc"/>
<circle cx="93.9" cy="78.0" r="1.05" fill="#b4b8bc"/>
<circle cx="90.6" cy="62.0" r="1.05" fill="#b4b8bc"/>
<circle cx="99.8" cy="77.3" r="1.05" fill="#b4b8bc"/>
<circle cx="100.8" cy="72.2" r="1.05" fill="#b4b8bc"/>
<circle cx="99.9" cy="75.4" r="1.05" fill="#b4b8bc"/>
<circle cx="97.5" cy="69.4" r="1.05" fill="#b4b8bc"/>
<circle cx="93.4" cy="79.8" r="1.05" fill="#b4b8bc"/>
<circle cx="100.6" cy="67.1" r="1.05" fill="#b4b8bc"/>
<circle cx="90.8" cy="65.8" r="1.05" fill="#b4b8bc"/>
<circle cx="109.0" cy="74.3" r="1.05" fill="#b4b8bc"/>
<circle cx="108.4" cy="71.5" r="1.05" fill="#b4b8bc"/>
<circle cx="101.9" cy="58.6" r="1.05" fill="#b4b8bc"/>
<circle cx="89.2" cy="65.4" r="1.05" fill="#b4b8bc"/>
<circle cx="98.3" cy="63.0" r="1.05" fill="#b4b8bc"/>
<circle cx="92.8" cy="75.7" r="1.05" fill="#b4b8bc"/>
<circle cx="110.7" cy="72.6" r="1.05" fill="#e5412f"/>
<circle cx="107.7" cy="67.1" r="1.05" fill="#b4b8bc"/>
<circle cx="110.3" cy="60.8" r="1.05" fill="#e5412f"/>
<circle cx="102.9" cy="75.3" r="1.05" fill="#b4b8bc"/>
<circle cx="89.9" cy="62.2" r="1.05" fill="#b4b8bc"/>
<circle cx="105.1" cy="67.6" r="1.05" fill="#b4b8bc"/>
<circle cx="107.0" cy="76.4" r="1.05" fill="#b4b8bc"/>
<circle cx="103.1" cy="72.0" r="1.05" fill="#b4b8bc"/>
<circle cx="91.4" cy="69.7" r="1.05" fill="#b4b8bc"/>
<circle cx="101.5" cy="67.9" r="1.05" fill="#b4b8bc"/>
<circle cx="93.2" cy="76.2" r="1.05" fill="#b4b8bc"/>
<circle cx="94.1" cy="70.6" r="1.05" fill="#b4b8bc"/>
<circle cx="105.4" cy="73.6" r="1.05" fill="#b4b8bc"/>
<circle cx="104.0" cy="70.5" r="1.05" fill="#b4b8bc"/>
<circle cx="98.0" cy="71.0" r="1.05" fill="#b4b8bc"/>
<circle cx="88.8" cy="74.8" r="1.05" fill="#b4b8bc"/>
<circle cx="95.8" cy="65.0" r="1.05" fill="#b4b8bc"/>
<circle cx="98.6" cy="71.6" r="1.05" fill="#b4b8bc"/>
<circle cx="107.8" cy="65.2" r="1.05" fill="#b4b8bc"/>
<circle cx="89.2" cy="65.6" r="1.05" fill="#b4b8bc"/>
<circle cx="99.6" cy="72.2" r="1.05" fill="#b4b8bc"/>
<circle cx="89.4" cy="69.6" r="1.05" fill="#b4b8bc"/>
<circle cx="107.2" cy="73.0" r="1.05" fill="#b4b8bc"/>
<circle cx="96.8" cy="72.5" r="1.05" fill="#b4b8bc"/>
<circle cx="100.0" cy="61.7" r="1.05" fill="#b4b8bc"/>
<circle cx="96.5" cy="74.9" r="1.05" fill="#b4b8bc"/>
<circle cx="105.3" cy="70.8" r="1.05" fill="#b4b8bc"/>
<circle cx="103.6" cy="70.1" r="1.05" fill="#b4b8bc"/>
<circle cx="114.8" cy="66.2" r="1.05" fill="#e5412f"/>
<circle cx="92.6" cy="72.7" r="1.05" fill="#b4b8bc"/>
<circle cx="91.7" cy="73.5" r="1.05" fill="#b4b8bc"/>
<circle cx="111.1" cy="75.5" r="1.05" fill="#e5412f"/>
<circle cx="100.7" cy="82.1" r="1.05" fill="#b4b8bc"/>
<circle cx="97.7" cy="65.3" r="1.05" fill="#b4b8bc"/>
<circle cx="98.9" cy="75.3" r="1.05" fill="#b4b8bc"/>
<circle cx="102.0" cy="67.0" r="1.05" fill="#b4b8bc"/>
<circle cx="90.8" cy="77.2" r="1.05" fill="#b4b8bc"/>
<circle cx="81.8" cy="72.8" r="1.05" fill="#e5412f"/>
<circle cx="93.8" cy="73.5" r="1.05" fill="#b4b8bc"/>
<circle cx="84.4" cy="66.2" r="1.05" fill="#e5412f"/>
<circle cx="101.3" cy="73.5" r="1.05" fill="#b4b8bc"/>
<circle cx="108.4" cy="69.2" r="1.05" fill="#b4b8bc"/>
<circle cx="100.6" cy="69.3" r="1.05" fill="#b4b8bc"/>
<circle cx="104.6" cy="77.3" r="1.05" fill="#b4b8bc"/>
<circle cx="91.3" cy="68.2" r="1.05" fill="#b4b8bc"/>
<circle cx="95.7" cy="70.6" r="1.05" fill="#b4b8bc"/>
<circle cx="93.8" cy="70.6" r="1.05" fill="#b4b8bc"/>
<circle cx="104.7" cy="70.0" r="1.05" fill="#b4b8bc"/>
<circle cx="91.5" cy="74.4" r="1.05" fill="#b4b8bc"/>
<circle cx="109.1" cy="74.8" r="1.05" fill="#b4b8bc"/>
<circle cx="91.0" cy="68.6" r="1.05" fill="#b4b8bc"/>
<circle cx="95.4" cy="75.0" r="1.05" fill="#b4b8bc"/>
<circle cx="107.5" cy="66.5" r="1.05" fill="#b4b8bc"/>
<circle cx="92.0" cy="74.5" r="1.05" fill="#b4b8bc"/>
<circle cx="100.0" cy="75.8" r="1.05" fill="#b4b8bc"/>
<circle cx="91.9" cy="65.0" r="1.05" fill="#b4b8bc"/>
<circle cx="108.8" cy="76.4" r="1.05" fill="#b4b8bc"/>
<circle cx="108.9" cy="72.0" r="1.05" fill="#b4b8bc"/>
<circle cx="100.2" cy="68.6" r="1.05" fill="#b4b8bc"/>
<circle cx="91.5" cy="74.6" r="1.05" fill="#b4b8bc"/>
<circle cx="107.7" cy="76.3" r="1.05" fill="#b4b8bc"/>
<circle cx="93.7" cy="66.0" r="1.05" fill="#b4b8bc"/>
<circle cx="93.9" cy="64.1" r="1.05" fill="#b4b8bc"/>
<circle cx="107.9" cy="78.1" r="1.05" fill="#b4b8bc"/>
<circle cx="102.7" cy="75.9" r="1.05" fill="#b4b8bc"/>
<circle cx="95.1" cy="70.7" r="1.05" fill="#b4b8bc"/>
<circle cx="100.6" cy="73.9" r="1.05" fill="#b4b8bc"/>
<circle cx="108.3" cy="63.6" r="1.05" fill="#b4b8bc"/>
<circle cx="84.4" cy="85.9" r="1.05" fill="#b4b8bc"/>
<circle cx="92.5" cy="73.1" r="1.05" fill="#b4b8bc"/>
<circle cx="94.0" cy="74.6" r="1.05" fill="#b4b8bc"/>
<circle cx="100.2" cy="71.5" r="1.05" fill="#b4b8bc"/>
<circle cx="103.8" cy="71.8" r="1.05" fill="#b4b8bc"/>
<circle cx="97.6" cy="69.9" r="1.05" fill="#b4b8bc"/>
<circle cx="100.7" cy="76.2" r="1.05" fill="#b4b8bc"/>
<circle cx="87.9" cy="76.3" r="1.05" fill="#e5412f"/>
<circle cx="109.0" cy="68.5" r="1.05" fill="#b4b8bc"/>
<circle cx="105.3" cy="70.3" r="1.05" fill="#b4b8bc"/>
<circle cx="101.1" cy="66.2" r="1.05" fill="#b4b8bc"/>
<circle cx="101.0" cy="78.3" r="1.05" fill="#b4b8bc"/>
<circle cx="89.9" cy="68.9" r="1.05" fill="#b4b8bc"/>
<circle cx="98.3" cy="76.3" r="1.05" fill="#b4b8bc"/>
<circle cx="96.2" cy="66.5" r="1.05" fill="#b4b8bc"/>
<circle cx="93.6" cy="72.2" r="1.05" fill="#b4b8bc"/>
<circle cx="86.3" cy="80.4" r="1.05" fill="#e5412f"/>
<circle cx="90.4" cy="67.1" r="1.05" fill="#b4b8bc"/>
<circle cx="91.5" cy="72.2" r="1.05" fill="#b4b8bc"/>
<circle cx="96.2" cy="56.9" r="1.05" fill="#b4b8bc"/>
<circle cx="98.0" cy="69.0" r="1.05" fill="#b4b8bc"/>
<circle cx="95.9" cy="77.8" r="1.05" fill="#b4b8bc"/>
<circle cx="94.0" cy="84.8" r="1.05" fill="#b4b8bc"/>
<circle cx="101.0" cy="73.8" r="1.05" fill="#b4b8bc"/>
<circle cx="106.5" cy="72.8" r="1.05" fill="#b4b8bc"/>
<circle cx="91.7" cy="73.0" r="1.05" fill="#b4b8bc"/>
<circle cx="101.8" cy="77.6" r="1.05" fill="#b4b8bc"/>
<circle cx="77.8" cy="71.7" r="1.05" fill="#e5412f"/>
<circle cx="88.7" cy="64.2" r="1.05" fill="#b4b8bc"/>
<circle cx="97.6" cy="73.3" r="1.05" fill="#b4b8bc"/>
<circle cx="100.7" cy="71.5" r="1.05" fill="#b4b8bc"/>
<circle cx="102.1" cy="70.5" r="1.05" fill="#b4b8bc"/>
<circle cx="102.8" cy="78.0" r="1.05" fill="#b4b8bc"/>
<circle cx="102.6" cy="68.5" r="1.05" fill="#b4b8bc"/>
<circle cx="105.0" cy="70.9" r="1.05" fill="#b4b8bc"/>
<circle cx="95.7" cy="77.5" r="1.05" fill="#b4b8bc"/>
<circle cx="97.5" cy="72.3" r="1.05" fill="#b4b8bc"/>
<circle cx="102.7" cy="68.5" r="1.05" fill="#b4b8bc"/>
<circle cx="96.4" cy="74.1" r="1.05" fill="#b4b8bc"/>
<circle cx="108.2" cy="66.0" r="1.05" fill="#b4b8bc"/>
<circle cx="91.7" cy="76.6" r="1.05" fill="#b4b8bc"/>
<circle cx="94.1" cy="65.9" r="1.05" fill="#b4b8bc"/>
<circle cx="109.6" cy="63.1" r="1.05" fill="#e5412f"/>
<circle cx="79.5" cy="71.6" r="1.05" fill="#e5412f"/>
<circle cx="105.8" cy="79.5" r="1.05" fill="#b4b8bc"/>
<circle cx="108.4" cy="74.9" r="1.05" fill="#b4b8bc"/>
<circle cx="107.0" cy="80.6" r="1.05" fill="#b4b8bc"/>
<circle cx="93.1" cy="85.7" r="1.05" fill="#b4b8bc"/>
<circle cx="102.7" cy="70.6" r="1.05" fill="#b4b8bc"/>
<circle cx="99.6" cy="64.1" r="1.05" fill="#b4b8bc"/>
<circle cx="99.8" cy="68.4" r="1.05" fill="#b4b8bc"/>
<circle cx="77.0" cy="72.6" r="1.05" fill="#e5412f"/>
<circle cx="106.4" cy="75.0" r="1.05" fill="#b4b8bc"/>
<circle cx="93.2" cy="69.8" r="1.05" fill="#b4b8bc"/>
<circle cx="94.8" cy="72.1" r="1.05" fill="#b4b8bc"/>
<circle cx="94.0" cy="65.1" r="1.05" fill="#b4b8bc"/>
<circle cx="115.2" cy="64.7" r="1.05" fill="#e5412f"/>
<circle cx="103.6" cy="67.1" r="1.05" fill="#b4b8bc"/>
<circle cx="105.0" cy="67.8" r="1.05" fill="#b4b8bc"/>
<circle cx="101.2" cy="64.0" r="1.05" fill="#b4b8bc"/>
<circle cx="81.6" cy="71.3" r="1.05" fill="#e5412f"/>
<circle cx="89.9" cy="66.1" r="1.05" fill="#b4b8bc"/>
<circle cx="92.0" cy="66.5" r="1.05" fill="#b4b8bc"/>
<circle cx="93.4" cy="64.0" r="1.05" fill="#b4b8bc"/>
<circle cx="98.6" cy="60.9" r="1.05" fill="#b4b8bc"/>
<circle cx="112.8" cy="61.1" r="1.05" fill="#e5412f"/>
<circle cx="97.6" cy="87.4" r="1.05" fill="#b4b8bc"/>
<circle cx="87.0" cy="74.2" r="1.05" fill="#e5412f"/>
<circle cx="108.5" cy="65.4" r="1.05" fill="#b4b8bc"/>
<circle cx="97.7" cy="72.7" r="1.05" fill="#b4b8bc"/>
<circle cx="106.9" cy="86.4" r="1.05" fill="#b4b8bc"/>
<circle cx="107.2" cy="77.0" r="1.05" fill="#b4b8bc"/>
<circle cx="94.9" cy="70.1" r="1.05" fill="#b4b8bc"/>
<circle cx="108.1" cy="70.5" r="1.05" fill="#b4b8bc"/>
<circle cx="90.9" cy="70.4" r="1.05" fill="#b4b8bc"/>
<circle cx="111.1" cy="62.7" r="1.05" fill="#e5412f"/>
<circle cx="89.0" cy="76.0" r="1.05" fill="#b4b8bc"/>
<circle cx="93.4" cy="77.1" r="1.05" fill="#b4b8bc"/>
<circle cx="92.2" cy="73.1" r="1.05" fill="#b4b8bc"/>
<circle cx="107.3" cy="74.0" r="1.05" fill="#b4b8bc"/>
<circle cx="101.1" cy="68.7" r="1.05" fill="#b4b8bc"/>
<circle cx="86.2" cy="73.3" r="1.05" fill="#e5412f"/>
<circle cx="108.7" cy="63.2" r="1.05" fill="#b4b8bc"/>
<circle cx="93.0" cy="73.4" r="1.05" fill="#b4b8bc"/>
<circle cx="74.8" cy="71.0" r="1.05" fill="#e5412f"/>
<circle cx="76.3" cy="70.1" r="1.05" fill="#e5412f"/>
<circle cx="86.0" cy="79.4" r="1.05" fill="#e5412f"/>
<circle cx="89.7" cy="72.7" r="1.05" fill="#b4b8bc"/>
<circle cx="108.2" cy="77.5" r="1.05" fill="#b4b8bc"/>
<circle cx="97.2" cy="76.4" r="1.05" fill="#b4b8bc"/>
<circle cx="91.1" cy="61.8" r="1.05" fill="#b4b8bc"/>
<circle cx="89.1" cy="65.9" r="1.05" fill="#b4b8bc"/>
<circle cx="99.5" cy="80.1" r="1.05" fill="#b4b8bc"/>
<circle cx="101.8" cy="78.2" r="1.05" fill="#b4b8bc"/>
<circle cx="93.1" cy="59.6" r="1.05" fill="#b4b8bc"/>
<circle cx="95.6" cy="72.2" r="1.05" fill="#b4b8bc"/>
<circle cx="98.4" cy="69.8" r="1.05" fill="#b4b8bc"/>
<circle cx="102.8" cy="65.1" r="1.05" fill="#b4b8bc"/>
<circle cx="86.8" cy="74.4" r="1.05" fill="#e5412f"/>
<circle cx="99.9" cy="80.8" r="1.05" fill="#b4b8bc"/>
<circle cx="105.9" cy="62.7" r="1.05" fill="#b4b8bc"/>
<circle cx="89.2" cy="71.8" r="1.05" fill="#b4b8bc"/>
<circle cx="101.9" cy="69.1" r="1.05" fill="#b4b8bc"/>
<circle cx="108.0" cy="72.0" r="1.05" fill="#b4b8bc"/>
<circle cx="100.3" cy="70.0" r="1.05" fill="#b4b8bc"/>
<circle cx="106.0" cy="61.9" r="1.05" fill="#b4b8bc"/>
<circle cx="88.7" cy="64.7" r="1.05" fill="#b4b8bc"/>
<circle cx="107.9" cy="63.9" r="1.05" fill="#b4b8bc"/>
<circle cx="107.7" cy="69.4" r="1.05" fill="#b4b8bc"/>
<circle cx="97.2" cy="71.0" r="1.05" fill="#b4b8bc"/>
<circle cx="89.6" cy="70.1" r="1.05" fill="#b4b8bc"/>
<circle cx="91.9" cy="79.7" r="1.05" fill="#b4b8bc"/>
<circle cx="102.9" cy="65.6" r="1.05" fill="#b4b8bc"/>
<circle cx="105.9" cy="62.7" r="1.05" fill="#b4b8bc"/>
<circle cx="105.5" cy="64.6" r="1.05" fill="#b4b8bc"/>
<circle cx="96.0" cy="76.1" r="1.05" fill="#b4b8bc"/>
<circle cx="88.1" cy="72.4" r="1.05" fill="#e5412f"/>
<circle cx="80.3" cy="68.2" r="1.05" fill="#e5412f"/>
<circle cx="97.9" cy="62.1" r="1.05" fill="#b4b8bc"/>
<circle cx="95.6" cy="63.1" r="1.05" fill="#b4b8bc"/>
<circle cx="90.2" cy="77.7" r="1.05" fill="#b4b8bc"/>
<circle cx="118.8" cy="75.8" r="1.05" fill="#e5412f"/>
<circle cx="97.4" cy="66.5" r="1.05" fill="#b4b8bc"/>
<circle cx="105.3" cy="67.3" r="1.05" fill="#b4b8bc"/>
<circle cx="73.1" cy="65.9" r="1.05" fill="#e5412f"/>
<circle cx="107.4" cy="66.9" r="1.05" fill="#b4b8bc"/>
<circle cx="104.7" cy="65.3" r="1.05" fill="#b4b8bc"/>
<circle cx="107.7" cy="71.6" r="1.05" fill="#b4b8bc"/>
<circle cx="104.5" cy="73.5" r="1.05" fill="#b4b8bc"/>
<circle cx="104.0" cy="73.9" r="1.05" fill="#b4b8bc"/>
<circle cx="93.6" cy="71.5" r="1.05" fill="#b4b8bc"/>
<circle cx="104.1" cy="72.4" r="1.05" fill="#b4b8bc"/>
<circle cx="102.0" cy="70.5" r="1.05" fill="#b4b8bc"/>
<circle cx="95.4" cy="63.2" r="1.05" fill="#b4b8bc"/>
<circle cx="102.9" cy="74.6" r="1.05" fill="#b4b8bc"/>
<circle cx="87.1" cy="70.0" r="1.05" fill="#e5412f"/>
<circle cx="100.9" cy="69.1" r="1.05" fill="#b4b8bc"/>
<circle cx="100.7" cy="75.3" r="1.05" fill="#b4b8bc"/>
<circle cx="97.2" cy="64.5" r="1.05" fill="#b4b8bc"/>
<circle cx="99.0" cy="78.3" r="1.05" fill="#b4b8bc"/>
<circle cx="108.6" cy="71.5" r="1.05" fill="#b4b8bc"/>
<circle cx="105.8" cy="73.0" r="1.05" fill="#b4b8bc"/>
<circle cx="107.3" cy="74.0" r="1.05" fill="#b4b8bc"/>
<circle cx="93.6" cy="69.4" r="1.05" fill="#b4b8bc"/>
<circle cx="92.6" cy="68.6" r="1.05" fill="#b4b8bc"/>
<circle cx="95.3" cy="75.0" r="1.05" fill="#b4b8bc"/>
<circle cx="99.4" cy="74.2" r="1.05" fill="#b4b8bc"/>
<circle cx="102.3" cy="67.2" r="1.05" fill="#b4b8bc"/>
<circle cx="95.2" cy="67.5" r="1.05" fill="#b4b8bc"/>
<circle cx="99.6" cy="69.3" r="1.05" fill="#b4b8bc"/>
<circle cx="104.4" cy="72.6" r="1.05" fill="#b4b8bc"/>
<circle cx="110.9" cy="73.6" r="1.05" fill="#e5412f"/>
<circle cx="101.5" cy="66.0" r="1.05" fill="#b4b8bc"/>
<circle cx="147.0" cy="69.5" r="1.05" fill="#e5412f"/>
<circle cx="91.8" cy="68.8" r="1.05" fill="#b4b8bc"/>
<circle cx="104.8" cy="67.6" r="1.05" fill="#b4b8bc"/>
<circle cx="104.4" cy="76.4" r="1.05" fill="#b4b8bc"/>
<circle cx="99.6" cy="62.9" r="1.05" fill="#b4b8bc"/>
<circle cx="96.9" cy="76.2" r="1.05" fill="#b4b8bc"/>
<circle cx="104.1" cy="68.1" r="1.05" fill="#b4b8bc"/>
<circle cx="99.3" cy="71.9" r="1.05" fill="#b4b8bc"/>
<circle cx="102.1" cy="69.3" r="1.05" fill="#b4b8bc"/>
<circle cx="104.3" cy="65.6" r="1.05" fill="#b4b8bc"/>
<circle cx="90.7" cy="78.3" r="1.05" fill="#b4b8bc"/>
<circle cx="105.2" cy="79.2" r="1.05" fill="#b4b8bc"/>
<circle cx="107.8" cy="78.5" r="1.05" fill="#b4b8bc"/>
<circle cx="95.9" cy="63.6" r="1.05" fill="#b4b8bc"/>
<circle cx="92.6" cy="69.4" r="1.05" fill="#b4b8bc"/>
<circle cx="92.1" cy="71.9" r="1.05" fill="#b4b8bc"/>
<circle cx="98.9" cy="67.9" r="1.05" fill="#b4b8bc"/>
<circle cx="90.4" cy="68.2" r="1.05" fill="#b4b8bc"/>
<circle cx="95.8" cy="70.8" r="1.05" fill="#b4b8bc"/>
<circle cx="107.7" cy="66.6" r="1.05" fill="#b4b8bc"/>
<circle cx="104.6" cy="77.9" r="1.05" fill="#b4b8bc"/>
<circle cx="93.9" cy="66.5" r="1.05" fill="#b4b8bc"/>
<circle cx="92.9" cy="74.3" r="1.05" fill="#b4b8bc"/>
<circle cx="109.0" cy="70.7" r="1.05" fill="#b4b8bc"/>
<circle cx="85.3" cy="79.4" r="1.05" fill="#e5412f"/>
<circle cx="105.9" cy="68.8" r="1.05" fill="#b4b8bc"/>
<circle cx="96.1" cy="74.5" r="1.05" fill="#b4b8bc"/>
<circle cx="93.8" cy="71.0" r="1.05" fill="#b4b8bc"/>
<circle cx="105.2" cy="68.0" r="1.05" fill="#b4b8bc"/>
<circle cx="89.4" cy="70.1" r="1.05" fill="#b4b8bc"/>
<circle cx="86.0" cy="69.0" r="1.05" fill="#e5412f"/>
<circle cx="96.5" cy="75.9" r="1.05" fill="#b4b8bc"/>
<circle cx="93.2" cy="68.2" r="1.05" fill="#b4b8bc"/>
<circle cx="96.5" cy="69.9" r="1.05" fill="#b4b8bc"/>
<circle cx="100.7" cy="70.5" r="1.05" fill="#b4b8bc"/>
<circle cx="99.7" cy="79.2" r="1.05" fill="#b4b8bc"/>
<circle cx="107.2" cy="74.3" r="1.05" fill="#b4b8bc"/>
<circle cx="104.1" cy="65.4" r="1.05" fill="#b4b8bc"/>
<circle cx="89.7" cy="67.9" r="1.05" fill="#b4b8bc"/>
<circle cx="92.5" cy="59.8" r="1.05" fill="#b4b8bc"/>
<circle cx="93.2" cy="70.2" r="1.05" fill="#b4b8bc"/>
<circle cx="93.7" cy="74.4" r="1.05" fill="#b4b8bc"/>
<circle cx="105.9" cy="65.2" r="1.05" fill="#b4b8bc"/>
<circle cx="96.6" cy="71.8" r="1.05" fill="#b4b8bc"/>
<circle cx="105.2" cy="73.2" r="1.05" fill="#b4b8bc"/>
<circle cx="93.4" cy="64.4" r="1.05" fill="#b4b8bc"/>
<circle cx="82.7" cy="72.7" r="1.05" fill="#e5412f"/>
<circle cx="107.5" cy="69.6" r="1.05" fill="#b4b8bc"/>
<circle cx="88.7" cy="64.6" r="1.05" fill="#b4b8bc"/>
<circle cx="92.8" cy="63.1" r="1.05" fill="#b4b8bc"/>
<circle cx="110.2" cy="70.8" r="1.05" fill="#e5412f"/>
<circle cx="92.4" cy="77.0" r="1.05" fill="#b4b8bc"/>
<circle cx="89.6" cy="77.7" r="1.05" fill="#b4b8bc"/>
<circle cx="94.7" cy="74.3" r="1.05" fill="#b4b8bc"/>
<circle cx="89.5" cy="72.8" r="1.05" fill="#b4b8bc"/>
<circle cx="91.5" cy="66.1" r="1.05" fill="#b4b8bc"/>
<circle cx="101.5" cy="72.3" r="1.05" fill="#b4b8bc"/>
<circle cx="101.4" cy="64.7" r="1.05" fill="#b4b8bc"/>
<circle cx="101.1" cy="81.8" r="1.05" fill="#b4b8bc"/>
<circle cx="108.4" cy="66.0" r="1.05" fill="#b4b8bc"/>
<circle cx="100.9" cy="71.5" r="1.05" fill="#b4b8bc"/>
<circle cx="105.9" cy="66.9" r="1.05" fill="#b4b8bc"/>
<circle cx="105.8" cy="76.9" r="1.05" fill="#b4b8bc"/>
<circle cx="96.9" cy="66.2" r="1.05" fill="#b4b8bc"/>
<circle cx="91.1" cy="83.0" r="1.05" fill="#b4b8bc"/>
<circle cx="98.7" cy="72.3" r="1.05" fill="#b4b8bc"/>
<circle cx="108.0" cy="69.2" r="1.05" fill="#b4b8bc"/>
<circle cx="109.0" cy="77.3" r="1.05" fill="#b4b8bc"/>
<circle cx="119.5" cy="62.5" r="1.05" fill="#e5412f"/>
<circle cx="88.2" cy="68.1" r="1.05" fill="#e5412f"/>
<circle cx="93.5" cy="75.3" r="1.05" fill="#b4b8bc"/>
<circle cx="106.6" cy="63.8" r="1.05" fill="#b4b8bc"/>
<circle cx="107.4" cy="71.9" r="1.05" fill="#b4b8bc"/>
<circle cx="105.6" cy="76.5" r="1.05" fill="#b4b8bc"/>
<circle cx="66.7" cy="71.4" r="1.05" fill="#e5412f"/>
<circle cx="91.2" cy="71.7" r="1.05" fill="#b4b8bc"/>
<circle cx="110.3" cy="72.6" r="1.05" fill="#e5412f"/>
<circle cx="84.3" cy="74.9" r="1.05" fill="#e5412f"/>
<circle cx="99.9" cy="77.4" r="1.05" fill="#b4b8bc"/>
<circle cx="97.7" cy="73.6" r="1.05" fill="#b4b8bc"/>
<circle cx="103.5" cy="69.2" r="1.05" fill="#b4b8bc"/>
<circle cx="98.1" cy="67.9" r="1.05" fill="#b4b8bc"/>
<circle cx="99.3" cy="74.4" r="1.05" fill="#b4b8bc"/>
<circle cx="93.9" cy="75.2" r="1.05" fill="#b4b8bc"/>
<circle cx="109.1" cy="68.7" r="1.05" fill="#b4b8bc"/>
<circle cx="96.1" cy="64.5" r="1.05" fill="#b4b8bc"/>
<circle cx="91.1" cy="60.2" r="1.05" fill="#b4b8bc"/>
<circle cx="90.3" cy="71.7" r="1.05" fill="#b4b8bc"/>
<circle cx="98.3" cy="59.4" r="1.05" fill="#b4b8bc"/>
<circle cx="98.6" cy="70.4" r="1.05" fill="#b4b8bc"/>
<circle cx="82.9" cy="69.2" r="1.05" fill="#e5412f"/>
<circle cx="99.6" cy="71.9" r="1.05" fill="#b4b8bc"/>
<circle cx="94.3" cy="77.2" r="1.05" fill="#b4b8bc"/>
<circle cx="95.3" cy="74.5" r="1.05" fill="#b4b8bc"/>
<circle cx="103.9" cy="66.7" r="1.05" fill="#b4b8bc"/>
<circle cx="108.0" cy="69.6" r="1.05" fill="#b4b8bc"/>
<circle cx="90.8" cy="68.6" r="1.05" fill="#b4b8bc"/>
<circle cx="104.4" cy="62.8" r="1.05" fill="#b4b8bc"/>
<circle cx="107.7" cy="62.5" r="1.05" fill="#b4b8bc"/>
<circle cx="100.2" cy="69.1" r="1.05" fill="#b4b8bc"/>
<circle cx="96.0" cy="71.1" r="1.05" fill="#b4b8bc"/>
<circle cx="98.1" cy="70.5" r="1.05" fill="#b4b8bc"/>
<circle cx="108.9" cy="75.6" r="1.05" fill="#b4b8bc"/>
<circle cx="89.5" cy="70.2" r="1.05" fill="#b4b8bc"/>
<circle cx="88.6" cy="72.0" r="1.05" fill="#e5412f"/>
<circle cx="97.7" cy="74.7" r="1.05" fill="#b4b8bc"/>
<circle cx="96.2" cy="59.9" r="1.05" fill="#b4b8bc"/>
<circle cx="108.2" cy="69.7" r="1.05" fill="#b4b8bc"/>
<circle cx="104.6" cy="70.2" r="1.05" fill="#b4b8bc"/>
<circle cx="91.0" cy="75.2" r="1.05" fill="#b4b8bc"/>
<circle cx="102.6" cy="71.8" r="1.05" fill="#b4b8bc"/>
<circle cx="110.5" cy="69.6" r="1.05" fill="#e5412f"/>
<circle cx="104.8" cy="67.4" r="1.05" fill="#b4b8bc"/>
<circle cx="120.8" cy="67.0" r="1.05" fill="#e5412f"/>
<circle cx="96.7" cy="70.4" r="1.05" fill="#b4b8bc"/>
<circle cx="109.6" cy="74.9" r="1.05" fill="#e5412f"/>
<circle cx="110.0" cy="63.5" r="1.05" fill="#e5412f"/>
<circle cx="93.0" cy="70.8" r="1.05" fill="#b4b8bc"/>
<circle cx="88.6" cy="88.7" r="1.05" fill="#b4b8bc"/>
<circle cx="101.6" cy="58.0" r="1.05" fill="#b4b8bc"/>
<circle cx="103.5" cy="70.9" r="1.05" fill="#b4b8bc"/>
<circle cx="97.1" cy="87.5" r="1.05" fill="#b4b8bc"/>
<circle cx="91.1" cy="69.9" r="1.05" fill="#b4b8bc"/>
<circle cx="96.1" cy="69.6" r="1.05" fill="#b4b8bc"/>
<circle cx="94.7" cy="73.1" r="1.05" fill="#b4b8bc"/>
<circle cx="102.7" cy="69.2" r="1.05" fill="#b4b8bc"/>
<circle cx="96.8" cy="63.4" r="1.05" fill="#b4b8bc"/>
<circle cx="106.3" cy="78.4" r="1.05" fill="#b4b8bc"/>
<circle cx="89.4" cy="67.0" r="1.05" fill="#b4b8bc"/>
<circle cx="94.8" cy="70.1" r="1.05" fill="#b4b8bc"/>
<circle cx="96.8" cy="69.2" r="1.05" fill="#b4b8bc"/>
<circle cx="96.3" cy="81.3" r="1.05" fill="#b4b8bc"/>
<circle cx="98.8" cy="74.4" r="1.05" fill="#b4b8bc"/>
<circle cx="97.2" cy="68.4" r="1.05" fill="#b4b8bc"/>
<circle cx="107.3" cy="67.0" r="1.05" fill="#b4b8bc"/>
<circle cx="99.4" cy="60.8" r="1.05" fill="#b4b8bc"/>
<circle cx="96.1" cy="76.3" r="1.05" fill="#b4b8bc"/>
<circle cx="88.8" cy="83.2" r="1.05" fill="#b4b8bc"/>
<circle cx="109.0" cy="64.5" r="1.05" fill="#b4b8bc"/>
<circle cx="107.4" cy="77.0" r="1.05" fill="#b4b8bc"/>
<circle cx="106.3" cy="74.7" r="1.05" fill="#b4b8bc"/>
<circle cx="97.0" cy="77.2" r="1.05" fill="#b4b8bc"/>
<circle cx="95.7" cy="76.4" r="1.05" fill="#b4b8bc"/>
<circle cx="98.8" cy="75.0" r="1.05" fill="#b4b8bc"/>
<circle cx="93.3" cy="68.1" r="1.05" fill="#b4b8bc"/>
<circle cx="89.8" cy="76.8" r="1.05" fill="#b4b8bc"/>
<circle cx="103.6" cy="88.8" r="1.05" fill="#b4b8bc"/>
<circle cx="95.4" cy="74.1" r="1.05" fill="#b4b8bc"/>
<circle cx="104.0" cy="74.4" r="1.05" fill="#b4b8bc"/>
<circle cx="100.4" cy="72.4" r="1.05" fill="#b4b8bc"/>
<circle cx="105.1" cy="60.3" r="1.05" fill="#b4b8bc"/>
<circle cx="99.8" cy="69.1" r="1.05" fill="#b4b8bc"/>
<circle cx="92.0" cy="71.4" r="1.05" fill="#b4b8bc"/>
<circle cx="102.5" cy="62.6" r="1.05" fill="#b4b8bc"/>
<circle cx="89.6" cy="64.7" r="1.05" fill="#b4b8bc"/>
<circle cx="103.3" cy="83.9" r="1.05" fill="#b4b8bc"/>
<circle cx="92.8" cy="67.8" r="1.05" fill="#b4b8bc"/>
<circle cx="90.4" cy="68.6" r="1.05" fill="#b4b8bc"/>
<circle cx="99.0" cy="71.3" r="1.05" fill="#b4b8bc"/>
<circle cx="104.9" cy="71.0" r="1.05" fill="#b4b8bc"/>
<circle cx="107.3" cy="76.8" r="1.05" fill="#b4b8bc"/>
<circle cx="95.6" cy="70.6" r="1.05" fill="#b4b8bc"/>
<circle cx="107.2" cy="73.8" r="1.05" fill="#b4b8bc"/>
<circle cx="87.7" cy="83.2" r="1.05" fill="#b4b8bc"/>
<circle cx="95.3" cy="76.9" r="1.05" fill="#b4b8bc"/>
<circle cx="105.7" cy="69.0" r="1.05" fill="#b4b8bc"/>
<circle cx="101.6" cy="67.7" r="1.05" fill="#b4b8bc"/>
<circle cx="91.8" cy="65.2" r="1.05" fill="#b4b8bc"/>
<circle cx="100.4" cy="65.3" r="1.05" fill="#b4b8bc"/>
<circle cx="111.6" cy="63.9" r="1.05" fill="#e5412f"/>
<circle cx="90.7" cy="75.4" r="1.05" fill="#b4b8bc"/>
<circle cx="86.3" cy="70.5" r="1.05" fill="#e5412f"/>
<circle cx="89.7" cy="68.4" r="1.05" fill="#b4b8bc"/>
<circle cx="105.3" cy="69.2" r="1.05" fill="#b4b8bc"/>
<circle cx="108.3" cy="67.7" r="1.05" fill="#b4b8bc"/>
<circle cx="99.1" cy="65.1" r="1.05" fill="#b4b8bc"/>
<circle cx="89.1" cy="78.3" r="1.05" fill="#b4b8bc"/>
<circle cx="102.3" cy="70.8" r="1.05" fill="#b4b8bc"/>
<circle cx="104.0" cy="77.2" r="1.05" fill="#b4b8bc"/>
<circle cx="90.4" cy="67.7" r="1.05" fill="#b4b8bc"/>
<circle cx="91.9" cy="76.3" r="1.05" fill="#b4b8bc"/>
<circle cx="56.5" cy="66.4" r="1.05" fill="#e5412f"/>
<circle cx="97.5" cy="72.4" r="1.05" fill="#b4b8bc"/>
<circle cx="105.0" cy="70.1" r="1.05" fill="#b4b8bc"/>
<circle cx="103.6" cy="85.2" r="1.05" fill="#b4b8bc"/>
<circle cx="108.3" cy="67.9" r="1.05" fill="#b4b8bc"/>
<circle cx="102.6" cy="73.1" r="1.05" fill="#b4b8bc"/>
<circle cx="84.8" cy="74.9" r="1.05" fill="#e5412f"/>
<circle cx="97.1" cy="72.9" r="1.05" fill="#b4b8bc"/>
<circle cx="96.1" cy="82.1" r="1.05" fill="#b4b8bc"/>
<circle cx="92.8" cy="76.8" r="1.05" fill="#b4b8bc"/>
<circle cx="92.2" cy="62.9" r="1.05" fill="#b4b8bc"/>
<circle cx="87.8" cy="66.7" r="1.05" fill="#e5412f"/>
<circle cx="96.6" cy="70.8" r="1.05" fill="#b4b8bc"/>
<circle cx="98.3" cy="77.9" r="1.05" fill="#b4b8bc"/>
<circle cx="100.3" cy="74.0" r="1.05" fill="#b4b8bc"/>
<circle cx="103.6" cy="84.1" r="1.05" fill="#b4b8bc"/>
<circle cx="87.7" cy="71.8" r="1.05" fill="#e5412f"/>
<circle cx="98.4" cy="69.2" r="1.05" fill="#b4b8bc"/>
<circle cx="89.0" cy="69.2" r="1.05" fill="#b4b8bc"/>
<circle cx="104.6" cy="71.8" r="1.05" fill="#b4b8bc"/>
<circle cx="94.2" cy="78.7" r="1.05" fill="#b4b8bc"/>
<circle cx="99.5" cy="71.8" r="1.05" fill="#b4b8bc"/>
<circle cx="103.9" cy="60.4" r="1.05" fill="#b4b8bc"/>
<circle cx="100.9" cy="73.8" r="1.05" fill="#b4b8bc"/>
<circle cx="102.8" cy="68.5" r="1.05" fill="#b4b8bc"/>
<circle cx="89.8" cy="64.0" r="1.05" fill="#b4b8bc"/>
<circle cx="110.1" cy="72.2" r="1.05" fill="#e5412f"/>
<circle cx="98.1" cy="70.1" r="1.05" fill="#b4b8bc"/>
<circle cx="82.9" cy="74.6" r="1.05" fill="#e5412f"/>
<circle cx="104.6" cy="74.8" r="1.05" fill="#b4b8bc"/>
<circle cx="95.8" cy="70.6" r="1.05" fill="#b4b8bc"/>
<circle cx="94.6" cy="70.8" r="1.05" fill="#b4b8bc"/>
<circle cx="111.5" cy="68.2" r="1.05" fill="#e5412f"/>
<circle cx="113.7" cy="75.2" r="1.05" fill="#e5412f"/>
<circle cx="88.9" cy="70.0" r="1.05" fill="#b4b8bc"/>
<circle cx="89.2" cy="87.9" r="1.05" fill="#b4b8bc"/>
<circle cx="104.3" cy="73.2" r="1.05" fill="#b4b8bc"/>
<circle cx="91.9" cy="72.0" r="1.05" fill="#b4b8bc"/>
<circle cx="89.4" cy="71.7" r="1.05" fill="#b4b8bc"/>
<circle cx="106.6" cy="71.7" r="1.05" fill="#b4b8bc"/>
<circle cx="108.0" cy="70.3" r="1.05" fill="#b4b8bc"/>
<circle cx="108.9" cy="63.0" r="1.05" fill="#b4b8bc"/>
<circle cx="92.3" cy="64.6" r="1.05" fill="#b4b8bc"/>
<circle cx="99.9" cy="70.7" r="1.05" fill="#b4b8bc"/>
<circle cx="89.4" cy="69.0" r="1.05" fill="#b4b8bc"/>
<circle cx="92.4" cy="68.7" r="1.05" fill="#b4b8bc"/>
<circle cx="91.0" cy="69.3" r="1.05" fill="#b4b8bc"/>
<circle cx="100.7" cy="82.8" r="1.05" fill="#b4b8bc"/>
<circle cx="100.8" cy="61.1" r="1.05" fill="#b4b8bc"/>
<circle cx="91.7" cy="70.5" r="1.05" fill="#b4b8bc"/>
<circle cx="106.2" cy="63.3" r="1.05" fill="#b4b8bc"/>
<circle cx="99.0" cy="73.1" r="1.05" fill="#b4b8bc"/>
<circle cx="61.8" cy="75.1" r="1.05" fill="#e5412f"/>
<circle cx="97.5" cy="74.7" r="1.05" fill="#b4b8bc"/>
<circle cx="90.9" cy="67.8" r="1.05" fill="#b4b8bc"/>
<circle cx="98.7" cy="68.6" r="1.05" fill="#b4b8bc"/>
<circle cx="94.9" cy="68.9" r="1.05" fill="#b4b8bc"/>
<circle cx="100.7" cy="76.1" r="1.05" fill="#b4b8bc"/>
<circle cx="99.4" cy="73.2" r="1.05" fill="#b4b8bc"/>
<circle cx="103.9" cy="71.8" r="1.05" fill="#b4b8bc"/>
<circle cx="88.7" cy="71.5" r="1.05" fill="#b4b8bc"/>
<circle cx="93.4" cy="66.2" r="1.05" fill="#b4b8bc"/>
<circle cx="94.4" cy="75.6" r="1.05" fill="#b4b8bc"/>
<circle cx="103.9" cy="87.1" r="1.05" fill="#b4b8bc"/>
<circle cx="106.0" cy="71.0" r="1.05" fill="#b4b8bc"/>
<circle cx="115.7" cy="71.8" r="1.05" fill="#e5412f"/>
<circle cx="83.7" cy="75.0" r="1.05" fill="#e5412f"/>
<circle cx="105.2" cy="68.1" r="1.05" fill="#b4b8bc"/>
<circle cx="104.5" cy="70.1" r="1.05" fill="#b4b8bc"/>
<circle cx="96.0" cy="71.0" r="1.05" fill="#b4b8bc"/>
<circle cx="102.3" cy="74.0" r="1.05" fill="#b4b8bc"/>
<circle cx="99.6" cy="71.1" r="1.05" fill="#b4b8bc"/>
<circle cx="83.0" cy="65.4" r="1.05" fill="#e5412f"/>
<circle cx="89.2" cy="79.2" r="1.05" fill="#b4b8bc"/>
<circle cx="98.7" cy="67.4" r="1.05" fill="#b4b8bc"/>
<circle cx="95.6" cy="73.9" r="1.05" fill="#b4b8bc"/>
<circle cx="101.6" cy="72.3" r="1.05" fill="#b4b8bc"/>
<circle cx="90.6" cy="62.2" r="1.05" fill="#b4b8bc"/>
<circle cx="108.4" cy="77.3" r="1.05" fill="#b4b8bc"/>
<circle cx="92.8" cy="73.3" r="1.05" fill="#b4b8bc"/>
<circle cx="98.6" cy="73.0" r="1.05" fill="#b4b8bc"/>
<circle cx="94.2" cy="67.6" r="1.05" fill="#b4b8bc"/>
<circle cx="102.9" cy="72.2" r="1.05" fill="#b4b8bc"/>
<circle cx="96.0" cy="69.0" r="1.05" fill="#b4b8bc"/>
<circle cx="103.9" cy="67.2" r="1.05" fill="#b4b8bc"/>
<circle cx="108.3" cy="73.1" r="1.05" fill="#b4b8bc"/>
<circle cx="104.8" cy="70.3" r="1.05" fill="#b4b8bc"/>
<circle cx="76.2" cy="68.2" r="1.05" fill="#e5412f"/>
<circle cx="103.7" cy="70.1" r="1.05" fill="#b4b8bc"/>
<circle cx="97.8" cy="70.6" r="1.05" fill="#b4b8bc"/>
<circle cx="89.0" cy="68.2" r="1.05" fill="#b4b8bc"/>
<circle cx="88.3" cy="60.8" r="1.05" fill="#e5412f"/>
<circle cx="91.0" cy="85.2" r="1.05" fill="#b4b8bc"/>
<circle cx="94.7" cy="58.5" r="1.05" fill="#b4b8bc"/>
<circle cx="105.3" cy="75.2" r="1.05" fill="#b4b8bc"/>
<circle cx="105.4" cy="74.5" r="1.05" fill="#b4b8bc"/>
<circle cx="85.3" cy="69.0" r="1.05" fill="#e5412f"/>
<circle cx="104.6" cy="63.9" r="1.05" fill="#b4b8bc"/>
<circle cx="100.8" cy="68.3" r="1.05" fill="#b4b8bc"/>
<circle cx="92.8" cy="69.5" r="1.05" fill="#b4b8bc"/>
<circle cx="92.8" cy="62.0" r="1.05" fill="#b4b8bc"/>
<circle cx="112.3" cy="66.4" r="1.05" fill="#e5412f"/>
<circle cx="90.8" cy="71.6" r="1.05" fill="#b4b8bc"/>
<circle cx="94.2" cy="74.1" r="1.05" fill="#b4b8bc"/>
<circle cx="101.1" cy="81.2" r="1.05" fill="#b4b8bc"/>
<circle cx="89.9" cy="77.3" r="1.05" fill="#b4b8bc"/>
<circle cx="96.4" cy="65.2" r="1.05" fill="#b4b8bc"/>
<circle cx="93.0" cy="77.9" r="1.05" fill="#b4b8bc"/>
<circle cx="95.4" cy="57.5" r="1.05" fill="#b4b8bc"/>
<circle cx="112.9" cy="65.9" r="1.05" fill="#e5412f"/>
<circle cx="87.8" cy="71.0" r="1.05" fill="#e5412f"/>
<circle cx="95.2" cy="69.5" r="1.05" fill="#b4b8bc"/>
<circle cx="83.7" cy="75.2" r="1.05" fill="#e5412f"/>
<circle cx="102.6" cy="78.1" r="1.05" fill="#b4b8bc"/>
<circle cx="79.4" cy="68.7" r="1.05" fill="#e5412f"/>
<circle cx="88.9" cy="67.4" r="1.05" fill="#b4b8bc"/>
<circle cx="106.8" cy="68.8" r="1.05" fill="#b4b8bc"/>
<circle cx="92.8" cy="66.9" r="1.05" fill="#b4b8bc"/>
<circle cx="95.3" cy="76.7" r="1.05" fill="#b4b8bc"/>
<circle cx="108.6" cy="73.4" r="1.05" fill="#b4b8bc"/>
<circle cx="98.1" cy="89.3" r="1.05" fill="#b4b8bc"/>
<circle cx="91.4" cy="69.4" r="1.05" fill="#b4b8bc"/>
<circle cx="98.4" cy="66.6" r="1.05" fill="#b4b8bc"/>
<circle cx="106.8" cy="74.7" r="1.05" fill="#b4b8bc"/>
<circle cx="97.7" cy="57.7" r="1.05" fill="#b4b8bc"/>
<circle cx="101.5" cy="60.7" r="1.05" fill="#b4b8bc"/>
<circle cx="89.4" cy="68.6" r="1.05" fill="#b4b8bc"/>
<circle cx="100.9" cy="75.0" r="1.05" fill="#b4b8bc"/>
<circle cx="89.2" cy="73.6" r="1.05" fill="#b4b8bc"/>
<circle cx="102.2" cy="70.3" r="1.05" fill="#b4b8bc"/>
<circle cx="92.6" cy="71.2" r="1.05" fill="#b4b8bc"/>
<circle cx="92.0" cy="67.3" r="1.05" fill="#b4b8bc"/>
<circle cx="102.2" cy="63.7" r="1.05" fill="#b4b8bc"/>
<circle cx="106.5" cy="69.2" r="1.05" fill="#b4b8bc"/>
<circle cx="97.0" cy="76.6" r="1.05" fill="#b4b8bc"/>
<circle cx="107.3" cy="68.6" r="1.05" fill="#b4b8bc"/>
<circle cx="94.3" cy="80.2" r="1.05" fill="#b4b8bc"/>
<circle cx="93.8" cy="72.1" r="1.05" fill="#b4b8bc"/>
<circle cx="91.3" cy="66.3" r="1.05" fill="#b4b8bc"/>
<circle cx="95.6" cy="72.7" r="1.05" fill="#b4b8bc"/>
<circle cx="105.6" cy="73.5" r="1.05" fill="#b4b8bc"/>
<circle cx="94.8" cy="74.6" r="1.05" fill="#b4b8bc"/>
<circle cx="105.4" cy="60.9" r="1.05" fill="#b4b8bc"/>
<circle cx="93.7" cy="67.5" r="1.05" fill="#b4b8bc"/>
<circle cx="94.7" cy="69.5" r="1.05" fill="#b4b8bc"/>
<circle cx="90.0" cy="73.6" r="1.05" fill="#b4b8bc"/>
<circle cx="107.9" cy="68.6" r="1.05" fill="#b4b8bc"/>
<circle cx="103.1" cy="69.9" r="1.05" fill="#b4b8bc"/>
<circle cx="81.4" cy="67.7" r="1.05" fill="#e5412f"/>
<circle cx="102.5" cy="69.5" r="1.05" fill="#b4b8bc"/>
<circle cx="92.3" cy="71.6" r="1.05" fill="#b4b8bc"/>
<circle cx="99.1" cy="71.9" r="1.05" fill="#b4b8bc"/>
<circle cx="92.4" cy="65.2" r="1.05" fill="#b4b8bc"/>
<circle cx="107.6" cy="75.5" r="1.05" fill="#b4b8bc"/>
<circle cx="93.4" cy="71.1" r="1.05" fill="#b4b8bc"/>
<circle cx="98.5" cy="72.3" r="1.05" fill="#b4b8bc"/>
<circle cx="100.2" cy="75.5" r="1.05" fill="#b4b8bc"/>
<circle cx="93.2" cy="68.5" r="1.05" fill="#b4b8bc"/>
<circle cx="89.1" cy="76.8" r="1.05" fill="#b4b8bc"/>
<circle cx="92.3" cy="69.7" r="1.05" fill="#b4b8bc"/>
<circle cx="108.6" cy="66.1" r="1.05" fill="#b4b8bc"/>
<circle cx="98.9" cy="79.8" r="1.05" fill="#b4b8bc"/>
<circle cx="93.4" cy="71.3" r="1.05" fill="#b4b8bc"/>
<circle cx="108.9" cy="76.0" r="1.05" fill="#b4b8bc"/>
<circle cx="95.8" cy="69.0" r="1.05" fill="#b4b8bc"/>
<circle cx="97.0" cy="81.9" r="1.05" fill="#b4b8bc"/>
<circle cx="106.7" cy="68.2" r="1.05" fill="#b4b8bc"/>
<circle cx="97.0" cy="68.6" r="1.05" fill="#b4b8bc"/>
<circle cx="106.0" cy="68.6" r="1.05" fill="#b4b8bc"/>
<circle cx="91.9" cy="80.5" r="1.05" fill="#b4b8bc"/>
<circle cx="96.8" cy="76.9" r="1.05" fill="#b4b8bc"/>
<circle cx="89.5" cy="71.5" r="1.05" fill="#b4b8bc"/>
<circle cx="109.0" cy="68.7" r="1.05" fill="#b4b8bc"/>
<circle cx="97.9" cy="58.3" r="1.05" fill="#b4b8bc"/>
<circle cx="101.7" cy="62.9" r="1.05" fill="#b4b8bc"/>
<circle cx="133.0" cy="67.5" r="1.05" fill="#e5412f"/>
<circle cx="95.0" cy="68.4" r="1.05" fill="#b4b8bc"/>
<circle cx="109.2" cy="75.6" r="1.05" fill="#e5412f"/>
<circle cx="105.3" cy="67.4" r="1.05" fill="#b4b8bc"/>
<circle cx="100.0" cy="81.2" r="1.05" fill="#b4b8bc"/>
<circle cx="108.3" cy="74.2" r="1.05" fill="#b4b8bc"/>
<circle cx="92.7" cy="66.4" r="1.05" fill="#b4b8bc"/>
<circle cx="90.7" cy="64.5" r="1.05" fill="#b4b8bc"/>
<circle cx="88.0" cy="69.2" r="1.05" fill="#e5412f"/>
<circle cx="92.4" cy="71.2" r="1.05" fill="#b4b8bc"/>
<circle cx="100.3" cy="68.4" r="1.05" fill="#b4b8bc"/>
<circle cx="101.3" cy="62.1" r="1.05" fill="#b4b8bc"/>
<circle cx="113.7" cy="78.1" r="1.05" fill="#e5412f"/>
<circle cx="112.2" cy="64.9" r="1.05" fill="#e5412f"/>
<circle cx="102.6" cy="65.7" r="1.05" fill="#b4b8bc"/>
<circle cx="92.1" cy="75.9" r="1.05" fill="#b4b8bc"/>
<circle cx="89.7" cy="65.0" r="1.05" fill="#b4b8bc"/>
<circle cx="76.9" cy="66.9" r="1.05" fill="#e5412f"/>
<circle cx="89.8" cy="67.0" r="1.05" fill="#b4b8bc"/>
<circle cx="111.3" cy="69.6" r="1.05" fill="#e5412f"/>
<circle cx="98.9" cy="72.7" r="1.05" fill="#b4b8bc"/>
<circle cx="95.2" cy="62.1" r="1.05" fill="#b4b8bc"/>
<circle cx="88.1" cy="83.7" r="1.05" fill="#b4b8bc"/>
<circle cx="107.2" cy="72.8" r="1.05" fill="#b4b8bc"/>
<circle cx="99.6" cy="64.4" r="1.05" fill="#b4b8bc"/>
<circle cx="103.0" cy="76.4" r="1.05" fill="#b4b8bc"/>
<circle cx="101.3" cy="70.3" r="1.05" fill="#b4b8bc"/>
<circle cx="96.7" cy="69.7" r="1.05" fill="#b4b8bc"/>
<circle cx="101.9" cy="87.8" r="1.05" fill="#b4b8bc"/>
<circle cx="97.2" cy="76.3" r="1.05" fill="#b4b8bc"/>
<circle cx="91.2" cy="72.3" r="1.05" fill="#b4b8bc"/>
<circle cx="97.6" cy="75.0" r="1.05" fill="#b4b8bc"/>
<circle cx="93.9" cy="68.0" r="1.05" fill="#b4b8bc"/>
<circle cx="74.3" cy="66.6" r="1.05" fill="#e5412f"/>
<circle cx="98.5" cy="70.4" r="1.05" fill="#b4b8bc"/>
<circle cx="92.1" cy="75.0" r="1.05" fill="#b4b8bc"/>
<circle cx="98.3" cy="72.8" r="1.05" fill="#b4b8bc"/>
<circle cx="97.0" cy="75.2" r="1.05" fill="#b4b8bc"/>
<circle cx="95.3" cy="62.6" r="1.05" fill="#b4b8bc"/>
<circle cx="106.8" cy="75.2" r="1.05" fill="#b4b8bc"/>
<circle cx="93.9" cy="73.7" r="1.05" fill="#b4b8bc"/>
<circle cx="100.7" cy="61.7" r="1.05" fill="#b4b8bc"/>
<circle cx="94.9" cy="65.2" r="1.05" fill="#b4b8bc"/>
<circle cx="96.1" cy="77.8" r="1.05" fill="#b4b8bc"/>
<circle cx="86.3" cy="86.3" r="1.05" fill="#b4b8bc"/>
<circle cx="88.8" cy="76.8" r="1.05" fill="#b4b8bc"/>
<circle cx="108.1" cy="76.2" r="1.05" fill="#b4b8bc"/>
<circle cx="104.1" cy="68.8" r="1.05" fill="#b4b8bc"/>
<circle cx="88.8" cy="75.8" r="1.05" fill="#b4b8bc"/>
<circle cx="90.4" cy="75.6" r="1.05" fill="#b4b8bc"/>
<circle cx="88.8" cy="73.1" r="1.05" fill="#b4b8bc"/>
<circle cx="97.7" cy="75.0" r="1.05" fill="#b4b8bc"/>
<circle cx="108.0" cy="68.1" r="1.05" fill="#b4b8bc"/>
<circle cx="94.6" cy="73.6" r="1.05" fill="#b4b8bc"/>
<circle cx="78.1" cy="68.5" r="1.05" fill="#e5412f"/>
<circle cx="94.2" cy="71.2" r="1.05" fill="#b4b8bc"/>
<circle cx="92.4" cy="65.6" r="1.05" fill="#b4b8bc"/>
<circle cx="81.1" cy="66.1" r="1.05" fill="#e5412f"/>
<circle cx="95.9" cy="66.7" r="1.05" fill="#b4b8bc"/>
<circle cx="102.4" cy="77.5" r="1.05" fill="#b4b8bc"/>
<circle cx="100.0" cy="71.3" r="1.05" fill="#b4b8bc"/>
<circle cx="97.7" cy="74.4" r="1.05" fill="#b4b8bc"/>
<circle cx="92.9" cy="75.9" r="1.05" fill="#b4b8bc"/>
<circle cx="98.1" cy="76.6" r="1.05" fill="#b4b8bc"/>
<circle cx="140.0" cy="62.0" r="1" fill="#b4b8bc"/>
<circle cx="61.3" cy="113.5" r="1" fill="#b4b8bc"/>
<line x1="99.20" y1="18.00" x2="99.20" y2="122.50" stroke="#4a4a4a" stroke-width="1.1" stroke-dasharray="3.6,4"/>
<line x1="45.00" y1="70.00" x2="157.00" y2="70.00" stroke="#4a4a4a" stroke-width="1.1" stroke-dasharray="3.6,3.6"/>
<line x1="43.80" y1="17.20" x2="43.80" y2="123.70" stroke="#231f20" stroke-width="1.05" />
<line x1="43.30" y1="123.20" x2="157.50" y2="123.20" stroke="#231f20" stroke-width="1.05" />
<line x1="39.60" y1="22.00" x2="43.80" y2="22.00" stroke="#231f20" stroke-width="1" />
<text x="37.60" y="25.10" font-size="8.6" text-anchor="end" fill="#231f20" stroke="#231f20" font-weight="normal" >4</text>
<line x1="39.60" y1="46.00" x2="43.80" y2="46.00" stroke="#231f20" stroke-width="1" />
<text x="37.60" y="49.10" font-size="8.6" text-anchor="end" fill="#231f20" stroke="#231f20" font-weight="normal" >2</text>
<line x1="39.60" y1="70.00" x2="43.80" y2="70.00" stroke="#231f20" stroke-width="1" />
<text x="37.60" y="73.10" font-size="8.6" text-anchor="end" fill="#231f20" stroke="#231f20" font-weight="normal" >0</text>
<line x1="39.60" y1="94.00" x2="43.80" y2="94.00" stroke="#231f20" stroke-width="1" />
<text x="37.60" y="97.10" font-size="8.6" text-anchor="end" fill="#231f20" stroke="#231f20" font-weight="normal" >−2</text>
<line x1="39.60" y1="118.00" x2="43.80" y2="118.00" stroke="#231f20" stroke-width="1" />
<text x="37.60" y="121.10" font-size="8.6" text-anchor="end" fill="#231f20" stroke="#231f20" font-weight="normal" >−4</text>
<line x1="48.16" y1="123.20" x2="48.16" y2="126.00" stroke="#231f20" stroke-width="1" />
<text x="48.16" y="134.70" font-size="8.6" text-anchor="middle" fill="#231f20" stroke="#231f20" font-weight="normal" >−4</text>
<line x1="73.68" y1="123.20" x2="73.68" y2="126.00" stroke="#231f20" stroke-width="1" />
<text x="73.68" y="134.70" font-size="8.6" text-anchor="middle" fill="#231f20" stroke="#231f20" font-weight="normal" >−2</text>
<line x1="99.20" y1="123.20" x2="99.20" y2="126.00" stroke="#231f20" stroke-width="1" />
<text x="99.20" y="134.70" font-size="8.6" text-anchor="middle" fill="#231f20" stroke="#231f20" font-weight="normal" >0</text>
<line x1="124.72" y1="123.20" x2="124.72" y2="126.00" stroke="#231f20" stroke-width="1" />
<text x="124.72" y="134.70" font-size="8.6" text-anchor="middle" fill="#231f20" stroke="#231f20" font-weight="normal" >2</text>
<line x1="150.24" y1="123.20" x2="150.24" y2="126.00" stroke="#231f20" stroke-width="1" />
<text x="150.24" y="134.70" font-size="8.6" text-anchor="middle" fill="#231f20" stroke="#231f20" font-weight="normal" >4</text>
<text x="47.70" y="42.70" font-size="8.6" text-anchor="start" fill="#231f20" stroke="#231f20" font-weight="normal" >Down = 213</text>
<text x="107.10" y="42.70" font-size="8.6" text-anchor="start" fill="#231f20" stroke="#231f20" font-weight="normal" >Up = 133</text>
<text x="77.80" y="107.50" font-size="8.6" text-anchor="start" fill="#231f20" stroke="#231f20" font-weight="normal" >FBL</text>
<line x1="74.20" y1="106.90" x2="68.50" y2="110.10" stroke="#231f20" stroke-width="1.0" />
<path d="M64.8,112.5 L67.2,108.1 L70.5,111.7 Z" fill="#231f20"/>
<text x="31" y="147.10" font-size="8.6" fill="#231f20" stroke="#231f20">Nascent protein log<tspan font-size="7" dy="2">2</tspan><tspan dy="-2"> FC</tspan><tspan font-size="6.7" dy="-3.0">shFBL/shCtrl</tspan></text>
<text transform="translate(21.70,117.60) rotate(-90)" x="0" y="0" font-size="8.6" fill="#231f20" stroke="#231f20">mRNA log<tspan font-size="7" dy="2">2</tspan><tspan dy="-2"> FC</tspan><tspan font-size="6.7" dy="-3.0">shFBL/shCtrl</tspan></text>
<text x="324.20" y="19.30" font-size="8.6" text-anchor="middle" fill="#231f20" stroke="#231f20" font-weight="normal" >−Log<tspan font-size="6.6" dy="2">10</tspan><tspan dy="-2"> (FDR)</tspan></text>
<line x1="294.90" y1="42.60" x2="359.60" y2="42.60" stroke="#231f20" stroke-width="1" />
<line x1="294.90" y1="40.00" x2="294.90" y2="42.60" stroke="#231f20" stroke-width="1" />
<text x="294.90" y="35.10" font-size="8.6" text-anchor="middle" fill="#231f20" stroke="#231f20" font-weight="normal" >0</text>
<line x1="316.25" y1="40.00" x2="316.25" y2="42.60" stroke="#231f20" stroke-width="1" />
<text x="316.25" y="35.10" font-size="8.6" text-anchor="middle" fill="#231f20" stroke="#231f20" font-weight="normal" >2</text>
<line x1="337.60" y1="40.00" x2="337.60" y2="42.60" stroke="#231f20" stroke-width="1" />
<text x="337.60" y="35.10" font-size="8.6" text-anchor="middle" fill="#231f20" stroke="#231f20" font-weight="normal" >4</text>
<line x1="358.95" y1="40.00" x2="358.95" y2="42.60" stroke="#231f20" stroke-width="1" />
<text x="358.95" y="35.10" font-size="8.6" text-anchor="middle" fill="#231f20" stroke="#231f20" font-weight="normal" >6</text>
<line x1="294.90" y1="42.10" x2="294.90" y2="132.20" stroke="#231f20" stroke-width="1" />
<text x="280.50" y="36.90" font-size="8.6" text-anchor="end" fill="#231f20" stroke="#231f20" font-weight="normal" >Hallmarks</text>
<rect x="295.40" y="48.90" width="55.40" height="7.20" fill="#e34a3a" />
<line x1="292.20" y1="52.50" x2="294.90" y2="52.50" stroke="#231f20" stroke-width="1" />
<text x="289.80" y="54.10" font-size="8.6" text-anchor="end" fill="#231f20" stroke="#231f20" font-weight="normal" >mTORC1 signaling</text>
<rect x="295.40" y="62.92" width="53.40" height="7.20" fill="#e34a3a" />
<line x1="292.20" y1="66.52" x2="294.90" y2="66.52" stroke="#231f20" stroke-width="1" />
<text x="289.80" y="68.12" font-size="8.6" text-anchor="end" fill="#231f20" stroke="#231f20" font-weight="normal" >E–M transition</text>
<rect x="295.40" y="76.94" width="40.80" height="7.20" fill="#e34a3a" />
<line x1="292.20" y1="80.54" x2="294.90" y2="80.54" stroke="#231f20" stroke-width="1" />
<text x="289.80" y="82.14" font-size="8.6" text-anchor="end" fill="#231f20" stroke="#231f20" font-weight="normal" >Unfolded protein response</text>
<rect x="295.40" y="90.96" width="38.40" height="7.20" fill="#e34a3a" />
<line x1="292.20" y1="94.56" x2="294.90" y2="94.56" stroke="#231f20" stroke-width="1" />
<text x="289.80" y="96.16" font-size="8.6" text-anchor="end" fill="#231f20" stroke="#231f20" font-weight="normal" >Apoptosis</text>
<rect x="295.40" y="104.98" width="31.60" height="7.20" fill="#e34a3a" />
<line x1="292.20" y1="108.58" x2="294.90" y2="108.58" stroke="#231f20" stroke-width="1" />
<text x="289.80" y="110.18" font-size="8.6" text-anchor="end" fill="#231f20" stroke="#231f20" font-weight="normal" >Glycolysis</text>
<rect x="295.40" y="119.00" width="22.80" height="7.20" fill="#e34a3a" />
<line x1="292.20" y1="122.60" x2="294.90" y2="122.60" stroke="#231f20" stroke-width="1" />
<text x="289.80" y="124.20" font-size="8.6" text-anchor="end" fill="#231f20" stroke="#231f20" font-weight="normal" >ROS pathway</text>
<text x="436.4" y="11.4" font-size="8.6" fill="#231f20" stroke="#231f20">Log<tspan font-size="7" dy="2">2</tspan><tspan dy="-2"> FC</tspan><tspan font-size="6.7" dy="-3.4">shFBL/shCtrl</tspan></text>
<line x1="434.10" y1="31.40" x2="513.80" y2="31.40" stroke="#231f20" stroke-width="1" />
<line x1="434.00" y1="28.90" x2="434.00" y2="31.40" stroke="#231f20" stroke-width="1" />
<line x1="447.20" y1="28.90" x2="447.20" y2="31.40" stroke="#231f20" stroke-width="1" />
<line x1="460.40" y1="28.90" x2="460.40" y2="31.40" stroke="#231f20" stroke-width="1" />
<line x1="473.60" y1="28.90" x2="473.60" y2="31.40" stroke="#231f20" stroke-width="1" />
<line x1="486.80" y1="28.90" x2="486.80" y2="31.40" stroke="#231f20" stroke-width="1" />
<line x1="500.00" y1="28.90" x2="500.00" y2="31.40" stroke="#231f20" stroke-width="1" />
<line x1="513.20" y1="28.90" x2="513.20" y2="31.40" stroke="#231f20" stroke-width="1" />
<text x="434.00" y="25.70" font-size="8.6" text-anchor="middle" fill="#231f20" stroke="#231f20" font-weight="normal" >−2.0</text>
<text x="460.40" y="25.70" font-size="8.6" text-anchor="middle" fill="#231f20" stroke="#231f20" font-weight="normal" >−1.0</text>
<text x="486.80" y="25.70" font-size="8.6" text-anchor="middle" fill="#231f20" stroke="#231f20" font-weight="normal" >0.0</text>
<text x="513.20" y="25.70" font-size="8.6" text-anchor="middle" fill="#231f20" stroke="#231f20" font-weight="normal" >1.0</text>
<rect x="453.54" y="32.80" width="33.26" height="5.10" fill="#e34a3a" />
<rect x="486.80" y="37.90" width="17.69" height="4.30" fill="#8c8c8c" />
<text x="398.00" y="40.30" font-size="8.6" text-anchor="start" fill="#231f20" stroke="#231f20" font-weight="normal" >SLC1A4</text>
<rect x="465.68" y="45.55" width="21.12" height="5.10" fill="#e34a3a" />
<rect x="479.41" y="50.65" width="7.39" height="4.30" fill="#8c8c8c" />
<text x="398.00" y="53.05" font-size="8.6" text-anchor="start" fill="#231f20" stroke="#231f20" font-weight="normal" >SLC1A5</text>
<rect x="459.08" y="58.30" width="27.72" height="5.10" fill="#e34a3a" />
<rect x="479.41" y="63.40" width="7.39" height="4.30" fill="#8c8c8c" />
<text x="398.00" y="65.80" font-size="8.6" text-anchor="start" fill="#231f20" stroke="#231f20" font-weight="normal" >SLC38A10</text>
<rect x="463.83" y="71.05" width="22.97" height="5.10" fill="#e34a3a" />
<rect x="478.35" y="76.15" width="8.45" height="4.30" fill="#8c8c8c" />
<text x="398.00" y="78.55" font-size="8.6" text-anchor="start" fill="#231f20" stroke="#231f20" font-weight="normal" >SLC38A2</text>
<rect x="449.31" y="83.80" width="37.49" height="5.10" fill="#e34a3a" />
<rect x="480.73" y="88.90" width="6.07" height="4.30" fill="#8c8c8c" />
<text x="398.00" y="91.30" font-size="8.6" text-anchor="start" fill="#231f20" stroke="#231f20" font-weight="normal" >SLC38A5</text>
<rect x="457.23" y="96.55" width="29.57" height="5.10" fill="#e34a3a" />
<rect x="473.34" y="101.65" width="13.46" height="4.30" fill="#8c8c8c" />
<text x="398.00" y="104.05" font-size="8.6" text-anchor="start" fill="#231f20" stroke="#231f20" font-weight="normal" >SLC7A1</text>
<rect x="446.94" y="109.30" width="39.86" height="5.10" fill="#e34a3a" />
<rect x="480.73" y="114.40" width="6.07" height="4.30" fill="#8c8c8c" />
<text x="398.00" y="116.80" font-size="8.6" text-anchor="start" fill="#231f20" stroke="#231f20" font-weight="normal" >SLC7A5</text>
<rect x="444.82" y="122.05" width="41.98" height="5.10" fill="#e34a3a" />
<rect x="476.77" y="127.15" width="10.03" height="4.30" fill="#8c8c8c" />
<text x="398.00" y="129.55" font-size="8.6" text-anchor="start" fill="#231f20" stroke="#231f20" font-weight="normal" >SLC3A2</text>
<line x1="486.80" y1="31.40" x2="486.80" y2="132.80" stroke="#231f20" stroke-width="1.1" />
<rect x="437.00" y="138.60" width="8.80" height="5.80" fill="#e34a3a" />
<rect x="437.00" y="148.30" width="8.80" height="5.40" fill="#8c8c8c" />
<text x="447.90" y="144.60" font-size="8.6" text-anchor="start" fill="#231f20" stroke="#231f20" font-weight="normal" >Nascent protein</text>
<text x="447.90" y="153.90" font-size="8.6" text-anchor="start" fill="#231f20" stroke="#231f20" font-weight="normal" >mRNA</text>
<text x="30.90" y="202.30" font-size="8.6" text-anchor="start" fill="#231f20" stroke="#231f20" font-weight="normal" >PDX:</text>
<text x="86.30" y="202.50" font-size="8.6" text-anchor="middle" fill="#231f20" stroke="#231f20" font-weight="normal" >Empty</text>
<text x="145" y="202.50" font-size="8.6" fill="#231f20" stroke="#231f20" text-anchor="middle">FBL<tspan font-size="6.7" dy="-3.2">WT</tspan></text>
<line x1="53.00" y1="205.80" x2="114.70" y2="205.80" stroke="#666" stroke-width="1.2" />
<line x1="124.20" y1="205.80" x2="166.20" y2="205.80" stroke="#666" stroke-width="1.2" />
<defs><filter id="bl" x="-30%" y="-100%" width="160%" height="300%"><feGaussianBlur stdDeviation="1.0"/></filter><filter id="bl2" x="-30%" y="-100%" width="160%" height="300%"><feGaussianBlur stdDeviation="1.6"/></filter></defs>
<rect x="51.60" y="208.60" width="120.00" height="17.40" fill="#c1c1c1" stroke="#a8a8a8" stroke-width="0.6"/>
<g filter="url(#bl2)">
<rect x="67.80" y="209.60" width="3.60" height="15.40" fill="#cbcbcb" />
<rect x="84.30" y="209.60" width="3.60" height="15.40" fill="#cbcbcb" />
<rect x="101.40" y="209.60" width="3.60" height="15.40" fill="#cbcbcb" />
<rect x="119.30" y="209.60" width="3.60" height="15.40" fill="#cbcbcb" />
<rect x="136.90" y="209.60" width="3.60" height="15.40" fill="#cbcbcb" />
<rect x="153.40" y="209.60" width="3.60" height="15.40" fill="#cbcbcb" />
</g>
<g filter="url(#bl2)">
<rect x="55.4" y="211.0" width="12.0" height="4.0" rx="2.0" fill="#0c0c0c" fill-opacity="0.25"/>
<rect x="72.3" y="211.0" width="11.0" height="4.0" rx="2.0" fill="#0c0c0c" fill-opacity="0.15"/>
<rect x="88.9" y="211.0" width="11.0" height="4.0" rx="2.0" fill="#0c0c0c" fill-opacity="0.2"/>
<rect x="123.7" y="210.5" width="13.0" height="5.0" rx="2.5" fill="#0c0c0c" fill-opacity="0.35"/>
</g>
<g filter="url(#bl)">
<rect x="54.9" y="216.6" width="13.0" height="5.2" rx="2.5" fill="#0c0c0c" fill-opacity="0.97"/>
<rect x="72.3" y="216.8" width="11.0" height="4.8" rx="2.4" fill="#0c0c0c" fill-opacity="0.92"/>
<rect x="88.9" y="216.8" width="11.0" height="4.4" rx="2.2" fill="#0c0c0c" fill-opacity="0.85"/>
<rect x="107.0" y="217.7" width="10.0" height="3.6" rx="1.8" fill="#0c0c0c" fill-opacity="0.35"/>
<rect x="123.2" y="214.2" width="14.0" height="8.0" rx="2.5" fill="#0c0c0c" fill-opacity="1.0"/>
<rect x="139.9" y="215.8" width="14.5" height="7.6" rx="2.5" fill="#0c0c0c" fill-opacity="1.0"/>
<rect x="156.7" y="216.0" width="13.0" height="6.8" rx="2.5" fill="#0c0c0c" fill-opacity="0.97"/>
</g>
<text x="47.00" y="220.40" font-size="8.6" text-anchor="end" fill="#231f20" stroke="#231f20" font-weight="normal" >SLC1A5</text>
<rect x="51.60" y="228.30" width="120.00" height="15.90" fill="#c1c1c1" stroke="#a8a8a8" stroke-width="0.6"/>
<g filter="url(#bl2)">
<rect x="67.80" y="229.30" width="3.60" height="13.90" fill="#cbcbcb" />
<rect x="84.30" y="229.30" width="3.60" height="13.90" fill="#cbcbcb" />
<rect x="101.40" y="229.30" width="3.60" height="13.90" fill="#cbcbcb" />
<rect x="119.30" y="229.30" width="3.60" height="13.90" fill="#cbcbcb" />
<rect x="136.90" y="229.30" width="3.60" height="13.90" fill="#cbcbcb" />
<rect x="153.40" y="229.30" width="3.60" height="13.90" fill="#cbcbcb" />
</g>
<g filter="url(#bl2)">
</g>
<g filter="url(#bl)">
<rect x="54.9" y="233.0" width="13.0" height="2.8" rx="1.4" fill="#0c0c0c" fill-opacity="0.82"/>
<rect x="72.3" y="233.3" width="11.0" height="2.6" rx="1.3" fill="#0c0c0c" fill-opacity="0.7"/>
<rect x="88.4" y="232.8" width="12.0" height="2.8" rx="1.4" fill="#0c0c0c" fill-opacity="0.76"/>
<rect x="106.0" y="232.8" width="12.0" height="2.8" rx="1.4" fill="#0c0c0c" fill-opacity="0.68"/>
<rect x="123.7" y="233.0" width="13.0" height="2.8" rx="1.4" fill="#0c0c0c" fill-opacity="0.82"/>
<rect x="140.2" y="232.3" width="14.0" height="3.8" rx="1.9" fill="#0c0c0c" fill-opacity="1.0"/>
<rect x="156.7" y="232.8" width="13.0" height="3.2" rx="1.6" fill="#0c0c0c" fill-opacity="0.92"/>
<rect x="55.4" y="237.3" width="12.0" height="2.0" rx="1.0" fill="#0c0c0c" fill-opacity="0.38"/>
<rect x="72.3" y="237.3" width="11.0" height="2.0" rx="1.0" fill="#0c0c0c" fill-opacity="0.3"/>
<rect x="88.4" y="237.3" width="12.0" height="2.0" rx="1.0" fill="#0c0c0c" fill-opacity="0.38"/>
<rect x="106.0" y="237.3" width="12.0" height="2.0" rx="1.0" fill="#0c0c0c" fill-opacity="0.32"/>
<rect x="124.2" y="237.3" width="12.0" height="2.0" rx="1.0" fill="#0c0c0c" fill-opacity="0.3"/>
<rect x="140.7" y="237.4" width="13.0" height="2.2" rx="1.1" fill="#0c0c0c" fill-opacity="0.5"/>
<rect x="157.2" y="237.4" width="12.0" height="2.2" rx="1.1" fill="#0c0c0c" fill-opacity="0.48"/>
</g>
<text x="47.00" y="239.35" font-size="8.6" text-anchor="end" fill="#231f20" stroke="#231f20" font-weight="normal" >SLC2A1</text>
<rect x="51.60" y="246.80" width="120.00" height="16.40" fill="#c1c1c1" stroke="#a8a8a8" stroke-width="0.6"/>
<g filter="url(#bl2)">
<rect x="67.80" y="247.80" width="3.60" height="14.40" fill="#cbcbcb" />
<rect x="84.30" y="247.80" width="3.60" height="14.40" fill="#cbcbcb" />
<rect x="101.40" y="247.80" width="3.60" height="14.40" fill="#cbcbcb" />
<rect x="119.30" y="247.80" width="3.60" height="14.40" fill="#cbcbcb" />
<rect x="136.90" y="247.80" width="3.60" height="14.40" fill="#cbcbcb" />
<rect x="153.40" y="247.80" width="3.60" height="14.40" fill="#cbcbcb" />
</g>
<g filter="url(#bl2)">
<rect x="55.4" y="248.5" width="12.0" height="5.0" rx="2.5" fill="#0c0c0c" fill-opacity="0.45"/>
<rect x="123.2" y="248.0" width="14.0" height="6.0" rx="2.5" fill="#0c0c0c" fill-opacity="0.65"/>
<rect x="140.2" y="248.0" width="14.0" height="6.0" rx="2.5" fill="#0c0c0c" fill-opacity="0.6"/>
<rect x="156.2" y="248.5" width="14.0" height="6.0" rx="2.5" fill="#0c0c0c" fill-opacity="0.6"/>
<rect x="72.3" y="250.0" width="11.0" height="4.0" rx="2.0" fill="#0c0c0c" fill-opacity="0.15"/>
<rect x="88.9" y="250.0" width="11.0" height="4.0" rx="2.0" fill="#0c0c0c" fill-opacity="0.15"/>
</g>
<g filter="url(#bl)">
<rect x="54.9" y="253.5" width="13.0" height="3.6" rx="1.8" fill="#0c0c0c" fill-opacity="0.97"/>
<rect x="71.5" y="254.0" width="12.5" height="3.2" rx="1.6" fill="#0c0c0c" fill-opacity="0.95"/>
<rect x="88.2" y="254.0" width="12.5" height="3.2" rx="1.6" fill="#0c0c0c" fill-opacity="0.95"/>
<rect x="106.0" y="254.3" width="12.0" height="3.0" rx="1.5" fill="#0c0c0c" fill-opacity="0.92"/>
<rect x="123.2" y="252.4" width="14.0" height="6.0" rx="2.5" fill="#0c0c0c" fill-opacity="1.0"/>
<rect x="139.9" y="252.2" width="14.5" height="6.4" rx="2.5" fill="#0c0c0c" fill-opacity="1.0"/>
<rect x="155.9" y="251.6" width="14.5" height="7.2" rx="2.5" fill="#0c0c0c" fill-opacity="1.0"/>
</g>
<text x="47.00" y="258.10" font-size="8.6" text-anchor="end" fill="#231f20" stroke="#231f20" font-weight="normal" >SLC7A5</text>
<rect x="51.60" y="265.60" width="120.00" height="16.60" fill="#c1c1c1" stroke="#a8a8a8" stroke-width="0.6"/>
<g filter="url(#bl2)">
<rect x="67.80" y="266.60" width="3.60" height="14.60" fill="#cbcbcb" />
<rect x="84.30" y="266.60" width="3.60" height="14.60" fill="#cbcbcb" />
<rect x="101.40" y="266.60" width="3.60" height="14.60" fill="#cbcbcb" />
<rect x="119.30" y="266.60" width="3.60" height="14.60" fill="#cbcbcb" />
<rect x="136.90" y="266.60" width="3.60" height="14.60" fill="#cbcbcb" />
<rect x="153.40" y="266.60" width="3.60" height="14.60" fill="#cbcbcb" />
</g>
<g filter="url(#bl2)">
<rect x="55.4" y="268.5" width="12.0" height="5.0" rx="2.5" fill="#0c0c0c" fill-opacity="0.2"/>
<rect x="72.3" y="268.5" width="11.0" height="5.0" rx="2.5" fill="#0c0c0c" fill-opacity="0.18"/>
<rect x="88.9" y="268.5" width="11.0" height="5.0" rx="2.5" fill="#0c0c0c" fill-opacity="0.15"/>
<rect x="123.7" y="267.5" width="13.0" height="5.0" rx="2.5" fill="#0c0c0c" fill-opacity="0.5"/>
<rect x="140.2" y="267.5" width="14.0" height="5.0" rx="2.5" fill="#0c0c0c" fill-opacity="0.5"/>
<rect x="156.7" y="268.0" width="13.0" height="5.0" rx="2.5" fill="#0c0c0c" fill-opacity="0.45"/>
</g>
<g filter="url(#bl)">
<rect x="55.4" y="273.9" width="12.0" height="2.6" rx="1.3" fill="#0c0c0c" fill-opacity="0.65"/>
<rect x="72.3" y="274.0" width="11.0" height="2.4" rx="1.2" fill="#0c0c0c" fill-opacity="0.58"/>
<rect x="88.9" y="274.0" width="11.0" height="2.4" rx="1.2" fill="#0c0c0c" fill-opacity="0.5"/>
<rect x="107.0" y="274.3" width="10.0" height="2.2" rx="1.1" fill="#0c0c0c" fill-opacity="0.4"/>
<rect x="123.7" y="271.5" width="13.0" height="7.0" rx="2.5" fill="#0c0c0c" fill-opacity="0.85"/>
<rect x="139.9" y="270.1" width="14.5" height="9.0" rx="2.5" fill="#0c0c0c" fill-opacity="1.0"/>
<rect x="156.4" y="271.5" width="13.5" height="7.0" rx="2.5" fill="#0c0c0c" fill-opacity="0.92"/>
</g>
<text x="47.00" y="277.00" font-size="8.6" text-anchor="end" fill="#231f20" stroke="#231f20" font-weight="normal" >SLC38A1</text>
<rect x="51.60" y="284.50" width="120.00" height="16.50" fill="#cdcdd2" stroke="#a8a8a8" stroke-width="0.6"/>
<g filter="url(#bl2)">
<rect x="67.80" y="285.50" width="3.60" height="14.50" fill="#eeeef2" />
<rect x="84.30" y="285.50" width="3.60" height="14.50" fill="#eeeef2" />
<rect x="101.40" y="285.50" width="3.60" height="14.50" fill="#eeeef2" />
<rect x="119.30" y="285.50" width="3.60" height="14.50" fill="#eeeef2" />
<rect x="136.90" y="285.50" width="3.60" height="14.50" fill="#eeeef2" />
<rect x="153.40" y="285.50" width="3.60" height="14.50" fill="#eeeef2" />
</g>
<g filter="url(#bl2)">
<rect x="71.8" y="288.2" width="12.0" height="4.5" rx="2.2" fill="#0c0c0c" fill-opacity="0.42"/>
<rect x="88.4" y="288.2" width="12.0" height="4.5" rx="2.2" fill="#0c0c0c" fill-opacity="0.38"/>
<rect x="106.5" y="289.5" width="11.0" height="4.0" rx="2.0" fill="#0c0c0c" fill-opacity="0.3"/>
<rect x="123.2" y="287.0" width="14.0" height="9.0" rx="2.5" fill="#0c0c0c" fill-opacity="0.6"/>
<rect x="140.2" y="286.5" width="14.0" height="5.0" rx="2.5" fill="#0c0c0c" fill-opacity="0.4"/>
<rect x="157.2" y="287.5" width="12.0" height="4.0" rx="2.0" fill="#0c0c0c" fill-opacity="0.2"/>
<rect x="55.4" y="289.0" width="12.0" height="6.0" rx="2.5" fill="#0c0c0c" fill-opacity="0.08"/>
</g>
<g filter="url(#bl)">
<rect x="140.2" y="291.4" width="14.0" height="3.6" rx="1.8" fill="#0c0c0c" fill-opacity="0.85"/>
<rect x="156.9" y="291.6" width="12.5" height="3.2" rx="1.6" fill="#0c0c0c" fill-opacity="0.72"/>
<rect x="123.7" y="291.0" width="13.0" height="4.0" rx="2.0" fill="#0c0c0c" fill-opacity="0.4"/>
</g>
<text x="47.00" y="295.85" font-size="8.6" text-anchor="end" fill="#231f20" stroke="#231f20" font-weight="normal" >SLC38A10</text>
<rect x="51.60" y="303.40" width="120.00" height="16.60" fill="#c1c1c1" stroke="#a8a8a8" stroke-width="0.6"/>
<g filter="url(#bl2)">
<rect x="67.80" y="304.40" width="3.60" height="14.60" fill="#cbcbcb" />
<rect x="84.30" y="304.40" width="3.60" height="14.60" fill="#cbcbcb" />
<rect x="101.40" y="304.40" width="3.60" height="14.60" fill="#cbcbcb" />
<rect x="119.30" y="304.40" width="3.60" height="14.60" fill="#cbcbcb" />
<rect x="136.90" y="304.40" width="3.60" height="14.60" fill="#cbcbcb" />
<rect x="153.40" y="304.40" width="3.60" height="14.60" fill="#cbcbcb" />
</g>
<g filter="url(#bl2)">
</g>
<g filter="url(#bl)">
<rect x="54.4" y="310.6" width="14.0" height="3.6" rx="1.8" fill="#0c0c0c" fill-opacity="0.95"/>
<rect x="71.0" y="310.6" width="13.5" height="3.6" rx="1.8" fill="#0c0c0c" fill-opacity="0.95"/>
<rect x="87.7" y="310.3" width="13.5" height="3.8" rx="1.9" fill="#0c0c0c" fill-opacity="0.95"/>
<rect x="106.5" y="311.5" width="11.0" height="3.0" rx="1.5" fill="#0c0c0c" fill-opacity="0.72"/>
<rect x="123.7" y="312.6" width="13.0" height="3.6" rx="1.8" fill="#0c0c0c" fill-opacity="0.92"/>
<rect x="140.4" y="312.6" width="13.5" height="3.6" rx="1.8" fill="#0c0c0c" fill-opacity="0.92"/>
<rect x="156.4" y="312.8" width="13.5" height="3.6" rx="1.8" fill="#0c0c0c" fill-opacity="0.92"/>
</g>
<text x="47.00" y="314.80" font-size="8.6" text-anchor="end" fill="#231f20" stroke="#231f20" font-weight="normal" >Actin</text>
<text x="203.00" y="186.60" font-size="8.6" text-anchor="start" fill="#231f20" stroke="#231f20" font-weight="normal" >PDX:</text>
<text x="245.60" y="186.50" font-size="8.6" text-anchor="middle" fill="#231f20" stroke="#231f20" font-weight="normal" >Empty</text>
<text x="291.3" y="186.50" font-size="8.6" fill="#231f20" stroke="#231f20" text-anchor="middle">FBL<tspan font-size="6.7" dy="-3.2">WT</tspan></text>
<line x1="226.30" y1="191.10" x2="265.80" y2="191.10" stroke="#231f20" stroke-width="1" />
<line x1="272.00" y1="191.10" x2="312.20" y2="191.10" stroke="#231f20" stroke-width="1" />
<rect x="227.40" y="194.10" width="14.32" height="7.17" fill="#8c95cd" stroke="#55555f" stroke-width="0.7"/>
<rect x="241.72" y="194.10" width="14.32" height="7.17" fill="#f8f0f0" stroke="#55555f" stroke-width="0.7"/>
<rect x="256.03" y="194.10" width="14.32" height="7.17" fill="#4d5fb3" stroke="#55555f" stroke-width="0.7"/>
<rect x="270.35" y="194.10" width="14.32" height="7.17" fill="#ef5d52" stroke="#55555f" stroke-width="0.7"/>
<rect x="284.67" y="194.10" width="14.32" height="7.17" fill="#abb2dc" stroke="#55555f" stroke-width="0.7"/>
<rect x="298.98" y="194.10" width="14.32" height="7.17" fill="#f07065" stroke="#55555f" stroke-width="0.7"/>
<rect x="227.40" y="201.27" width="14.32" height="7.17" fill="#a3aad8" stroke="#55555f" stroke-width="0.7"/>
<rect x="241.72" y="201.27" width="14.32" height="7.17" fill="#f4f2f6" stroke="#55555f" stroke-width="0.7"/>
<rect x="256.03" y="201.27" width="14.32" height="7.17" fill="#7281c4" stroke="#55555f" stroke-width="0.7"/>
<rect x="270.35" y="201.27" width="14.32" height="7.17" fill="#dadef0" stroke="#55555f" stroke-width="0.7"/>
<rect x="284.67" y="201.27" width="14.32" height="7.17" fill="#f8f8fa" stroke="#55555f" stroke-width="0.7"/>
<rect x="298.98" y="201.27" width="14.32" height="7.17" fill="#e8282a" stroke="#55555f" stroke-width="0.7"/>
<rect x="227.40" y="208.44" width="14.32" height="7.17" fill="#4d5fb3" stroke="#55555f" stroke-width="0.7"/>
<rect x="241.72" y="208.44" width="14.32" height="7.17" fill="#f7c6bf" stroke="#55555f" stroke-width="0.7"/>
<rect x="256.03" y="208.44" width="14.32" height="7.17" fill="#aeb4dc" stroke="#55555f" stroke-width="0.7"/>
<rect x="270.35" y="208.44" width="14.32" height="7.17" fill="#b4bae0" stroke="#55555f" stroke-width="0.7"/>
<rect x="284.67" y="208.44" width="14.32" height="7.17" fill="#f4f4f8" stroke="#55555f" stroke-width="0.7"/>
<rect x="298.98" y="208.44" width="14.32" height="7.17" fill="#e83a30" stroke="#55555f" stroke-width="0.7"/>
<rect x="227.40" y="215.62" width="14.32" height="7.17" fill="#9aa2d4" stroke="#55555f" stroke-width="0.7"/>
<rect x="241.72" y="215.62" width="14.32" height="7.17" fill="#5263b4" stroke="#55555f" stroke-width="0.7"/>
<rect x="256.03" y="215.62" width="14.32" height="7.17" fill="#dfe2f2" stroke="#55555f" stroke-width="0.7"/>
<rect x="270.35" y="215.62" width="14.32" height="7.17" fill="#ea3a30" stroke="#55555f" stroke-width="0.7"/>
<rect x="284.67" y="215.62" width="14.32" height="7.17" fill="#dee0f0" stroke="#55555f" stroke-width="0.7"/>
<rect x="298.98" y="215.62" width="14.32" height="7.17" fill="#f3a098" stroke="#55555f" stroke-width="0.7"/>
<rect x="227.40" y="222.79" width="14.32" height="7.17" fill="#eeeef7" stroke="#55555f" stroke-width="0.7"/>
<rect x="241.72" y="222.79" width="14.32" height="7.17" fill="#4c5db1" stroke="#55555f" stroke-width="0.7"/>
<rect x="256.03" y="222.79" width="14.32" height="7.17" fill="#6878c0" stroke="#55555f" stroke-width="0.7"/>
<rect x="270.35" y="222.79" width="14.32" height="7.17" fill="#f4a098" stroke="#55555f" stroke-width="0.7"/>
<rect x="284.67" y="222.79" width="14.32" height="7.17" fill="#f7f0f0" stroke="#55555f" stroke-width="0.7"/>
<rect x="298.98" y="222.79" width="14.32" height="7.17" fill="#ef5a50" stroke="#55555f" stroke-width="0.7"/>
<rect x="227.40" y="229.96" width="14.32" height="7.17" fill="#b3b9df" stroke="#55555f" stroke-width="0.7"/>
<rect x="241.72" y="229.96" width="14.32" height="7.17" fill="#bcc1e3" stroke="#55555f" stroke-width="0.7"/>
<rect x="256.03" y="229.96" width="14.32" height="7.17" fill="#6373bd" stroke="#55555f" stroke-width="0.7"/>
<rect x="270.35" y="229.96" width="14.32" height="7.17" fill="#e9342c" stroke="#55555f" stroke-width="0.7"/>
<rect x="284.67" y="229.96" width="14.32" height="7.17" fill="#c3c7e5" stroke="#55555f" stroke-width="0.7"/>
<rect x="298.98" y="229.96" width="14.32" height="7.17" fill="#f2a49c" stroke="#55555f" stroke-width="0.7"/>
<rect x="227.40" y="237.13" width="14.32" height="7.17" fill="#5364b4" stroke="#55555f" stroke-width="0.7"/>
<rect x="241.72" y="237.13" width="14.32" height="7.17" fill="#f5f5f8" stroke="#55555f" stroke-width="0.7"/>
<rect x="256.03" y="237.13" width="14.32" height="7.17" fill="#a7aed9" stroke="#55555f" stroke-width="0.7"/>
<rect x="270.35" y="237.13" width="14.32" height="7.17" fill="#ef6c62" stroke="#55555f" stroke-width="0.7"/>
<rect x="284.67" y="237.13" width="14.32" height="7.17" fill="#9ea6d5" stroke="#55555f" stroke-width="0.7"/>
<rect x="298.98" y="237.13" width="14.32" height="7.17" fill="#ee5a50" stroke="#55555f" stroke-width="0.7"/>
<rect x="227.40" y="244.31" width="14.32" height="7.17" fill="#bfc4e4" stroke="#55555f" stroke-width="0.7"/>
<rect x="241.72" y="244.31" width="14.32" height="7.17" fill="#adb3dc" stroke="#55555f" stroke-width="0.7"/>
<rect x="256.03" y="244.31" width="14.32" height="7.17" fill="#7d8ac8" stroke="#55555f" stroke-width="0.7"/>
<rect x="270.35" y="244.31" width="14.32" height="7.17" fill="#f39c94" stroke="#55555f" stroke-width="0.7"/>
<rect x="284.67" y="244.31" width="14.32" height="7.17" fill="#a6add9" stroke="#55555f" stroke-width="0.7"/>
<rect x="298.98" y="244.31" width="14.32" height="7.17" fill="#e6302a" stroke="#55555f" stroke-width="0.7"/>
<rect x="227.40" y="251.48" width="14.32" height="7.17" fill="#f8cac4" stroke="#55555f" stroke-width="0.7"/>
<rect x="241.72" y="251.48" width="14.32" height="7.17" fill="#dcdff0" stroke="#55555f" stroke-width="0.7"/>
<rect x="256.03" y="251.48" width="14.32" height="7.17" fill="#4253ab" stroke="#55555f" stroke-width="0.7"/>
<rect x="270.35" y="251.48" width="14.32" height="7.17" fill="#f3958d" stroke="#55555f" stroke-width="0.7"/>
<rect x="284.67" y="251.48" width="14.32" height="7.17" fill="#ef6e64" stroke="#55555f" stroke-width="0.7"/>
<rect x="298.98" y="251.48" width="14.32" height="7.17" fill="#b6bce1" stroke="#55555f" stroke-width="0.7"/>
<rect x="227.40" y="258.65" width="14.32" height="7.17" fill="#f0f0f6" stroke="#55555f" stroke-width="0.7"/>
<rect x="241.72" y="258.65" width="14.32" height="7.17" fill="#b7bce0" stroke="#55555f" stroke-width="0.7"/>
<rect x="256.03" y="258.65" width="14.32" height="7.17" fill="#4050a8" stroke="#55555f" stroke-width="0.7"/>
<rect x="270.35" y="258.65" width="14.32" height="7.17" fill="#ee5a50" stroke="#55555f" stroke-width="0.7"/>
<rect x="284.67" y="258.65" width="14.32" height="7.17" fill="#f07b72" stroke="#55555f" stroke-width="0.7"/>
<rect x="298.98" y="258.65" width="14.32" height="7.17" fill="#b6bce1" stroke="#55555f" stroke-width="0.7"/>
<rect x="227.40" y="265.82" width="14.32" height="7.17" fill="#8e97cf" stroke="#55555f" stroke-width="0.7"/>
<rect x="241.72" y="265.82" width="14.32" height="7.17" fill="#fae3de" stroke="#55555f" stroke-width="0.7"/>
<rect x="256.03" y="265.82" width="14.32" height="7.17" fill="#5a6ab8" stroke="#55555f" stroke-width="0.7"/>
<rect x="270.35" y="265.82" width="14.32" height="7.17" fill="#fcfcfc" stroke="#55555f" stroke-width="0.7"/>
<rect x="284.67" y="265.82" width="14.32" height="7.17" fill="#d2d5ec" stroke="#55555f" stroke-width="0.7"/>
<rect x="298.98" y="265.82" width="14.32" height="7.17" fill="#e8302a" stroke="#55555f" stroke-width="0.7"/>
<rect x="227.40" y="272.99" width="14.32" height="7.17" fill="#a0a8d7" stroke="#55555f" stroke-width="0.7"/>
<rect x="241.72" y="272.99" width="14.32" height="7.17" fill="#f5a59d" stroke="#55555f" stroke-width="0.7"/>
<rect x="256.03" y="272.99" width="14.32" height="7.17" fill="#5060b3" stroke="#55555f" stroke-width="0.7"/>
<rect x="270.35" y="272.99" width="14.32" height="7.17" fill="#ea3228" stroke="#55555f" stroke-width="0.7"/>
<rect x="284.67" y="272.99" width="14.32" height="7.17" fill="#bec3e4" stroke="#55555f" stroke-width="0.7"/>
<rect x="298.98" y="272.99" width="14.32" height="7.17" fill="#e0e3f2" stroke="#55555f" stroke-width="0.7"/>
<rect x="227.40" y="280.17" width="14.32" height="7.17" fill="#dfe2f2" stroke="#55555f" stroke-width="0.7"/>
<rect x="241.72" y="280.17" width="14.32" height="7.17" fill="#f8cfc8" stroke="#55555f" stroke-width="0.7"/>
<rect x="256.03" y="280.17" width="14.32" height="7.17" fill="#4656ad" stroke="#55555f" stroke-width="0.7"/>
<rect x="270.35" y="280.17" width="14.32" height="7.17" fill="#e93028" stroke="#55555f" stroke-width="0.7"/>
<rect x="284.67" y="280.17" width="14.32" height="7.17" fill="#a9b0da" stroke="#55555f" stroke-width="0.7"/>
<rect x="298.98" y="280.17" width="14.32" height="7.17" fill="#f6f6f8" stroke="#55555f" stroke-width="0.7"/>
<rect x="227.40" y="287.34" width="14.32" height="7.17" fill="#f4a098" stroke="#55555f" stroke-width="0.7"/>
<rect x="241.72" y="287.34" width="14.32" height="7.17" fill="#f07c72" stroke="#55555f" stroke-width="0.7"/>
<rect x="256.03" y="287.34" width="14.32" height="7.17" fill="#4555aa" stroke="#55555f" stroke-width="0.7"/>
<rect x="270.35" y="287.34" width="14.32" height="7.17" fill="#f39890" stroke="#55555f" stroke-width="0.7"/>
<rect x="284.67" y="287.34" width="14.32" height="7.17" fill="#4a5cb0" stroke="#55555f" stroke-width="0.7"/>
<rect x="298.98" y="287.34" width="14.32" height="7.17" fill="#f6f6f8" stroke="#55555f" stroke-width="0.7"/>
<rect x="227.40" y="294.51" width="14.32" height="7.17" fill="#96a0d3" stroke="#55555f" stroke-width="0.7"/>
<rect x="241.72" y="294.51" width="14.32" height="7.17" fill="#dde0f0" stroke="#55555f" stroke-width="0.7"/>
<rect x="256.03" y="294.51" width="14.32" height="7.17" fill="#4a5aae" stroke="#55555f" stroke-width="0.7"/>
<rect x="270.35" y="294.51" width="14.32" height="7.17" fill="#ef6a60" stroke="#55555f" stroke-width="0.7"/>
<rect x="284.67" y="294.51" width="14.32" height="7.17" fill="#e5e7f4" stroke="#55555f" stroke-width="0.7"/>
<rect x="298.98" y="294.51" width="14.32" height="7.17" fill="#ef6258" stroke="#55555f" stroke-width="0.7"/>
<rect x="227.40" y="301.68" width="14.32" height="7.17" fill="#b8bee2" stroke="#55555f" stroke-width="0.7"/>
<rect x="241.72" y="301.68" width="14.32" height="7.17" fill="#f8f8f8" stroke="#55555f" stroke-width="0.7"/>
<rect x="256.03" y="301.68" width="14.32" height="7.17" fill="#5f6fba" stroke="#55555f" stroke-width="0.7"/>
<rect x="270.35" y="301.68" width="14.32" height="7.17" fill="#f39088" stroke="#55555f" stroke-width="0.7"/>
<rect x="284.67" y="301.68" width="14.32" height="7.17" fill="#7482c5" stroke="#55555f" stroke-width="0.7"/>
<rect x="298.98" y="301.68" width="14.32" height="7.17" fill="#e9382e" stroke="#55555f" stroke-width="0.7"/>
<rect x="227.40" y="308.86" width="14.32" height="7.17" fill="#6878c0" stroke="#55555f" stroke-width="0.7"/>
<rect x="241.72" y="308.86" width="14.32" height="7.17" fill="#f5ada5" stroke="#55555f" stroke-width="0.7"/>
<rect x="256.03" y="308.86" width="14.32" height="7.17" fill="#5a6ab5" stroke="#55555f" stroke-width="0.7"/>
<rect x="270.35" y="308.86" width="14.32" height="7.17" fill="#e83a30" stroke="#55555f" stroke-width="0.7"/>
<rect x="284.67" y="308.86" width="14.32" height="7.17" fill="#f6f4f6" stroke="#55555f" stroke-width="0.7"/>
<rect x="298.98" y="308.86" width="14.32" height="7.17" fill="#dadef0" stroke="#55555f" stroke-width="0.7"/>
<rect x="227.40" y="316.03" width="14.32" height="7.17" fill="#e2e4f2" stroke="#55555f" stroke-width="0.7"/>
<rect x="241.72" y="316.03" width="14.32" height="7.17" fill="#f8d0ca" stroke="#55555f" stroke-width="0.7"/>
<rect x="256.03" y="316.03" width="14.32" height="7.17" fill="#4050a8" stroke="#55555f" stroke-width="0.7"/>
<rect x="270.35" y="316.03" width="14.32" height="7.17" fill="#ef6a60" stroke="#55555f" stroke-width="0.7"/>
<rect x="284.67" y="316.03" width="14.32" height="7.17" fill="#b3b9df" stroke="#55555f" stroke-width="0.7"/>
<rect x="298.98" y="316.03" width="14.32" height="7.17" fill="#f07065" stroke="#55555f" stroke-width="0.7"/>
<rect x="227.40" y="194.10" width="85.90" height="129.10" fill="none" stroke="#4a4a55" stroke-width="0.8"/>
<text x="222.60" y="200.30" font-size="7.6" text-anchor="end" fill="#231f20" stroke="#231f20" font-weight="normal" >Ala</text>
<text x="222.60" y="207.17" font-size="7.6" text-anchor="end" fill="#231f20" stroke="#231f20" font-weight="normal" >Arg</text>
<text x="222.60" y="214.04" font-size="7.6" text-anchor="end" fill="#231f20" stroke="#231f20" font-weight="normal" >Asn</text>
<text x="222.60" y="220.91" font-size="7.6" text-anchor="end" fill="#231f20" stroke="#231f20" font-weight="normal" >Asp</text>
<text x="222.60" y="227.78" font-size="7.6" text-anchor="end" fill="#231f20" stroke="#231f20" font-weight="normal" >Gln</text>
<text x="222.60" y="234.65" font-size="7.6" text-anchor="end" fill="#231f20" stroke="#231f20" font-weight="normal" >Glu</text>
<text x="222.60" y="241.52" font-size="7.6" text-anchor="end" fill="#231f20" stroke="#231f20" font-weight="normal" >Gly</text>
<text x="222.60" y="248.39" font-size="7.6" text-anchor="end" fill="#231f20" stroke="#231f20" font-weight="normal" >His</text>
<text x="222.60" y="255.26" font-size="7.6" text-anchor="end" fill="#231f20" stroke="#231f20" font-weight="normal" >Ile</text>
<text x="222.60" y="262.13" font-size="7.6" text-anchor="end" fill="#231f20" stroke="#231f20" font-weight="normal" >Leu</text>
<text x="222.60" y="269.00" font-size="7.6" text-anchor="end" fill="#231f20" stroke="#231f20" font-weight="normal" >Lys</text>
<text x="222.60" y="275.87" font-size="7.6" text-anchor="end" fill="#231f20" stroke="#231f20" font-weight="normal" >Met</text>
<text x="222.60" y="282.74" font-size="7.6" text-anchor="end" fill="#231f20" stroke="#231f20" font-weight="normal" >Orn</text>
<text x="222.60" y="289.61" font-size="7.6" text-anchor="end" fill="#231f20" stroke="#231f20" font-weight="normal" >Phe</text>
<text x="222.60" y="296.48" font-size="7.6" text-anchor="end" fill="#231f20" stroke="#231f20" font-weight="normal" >Pro</text>
<text x="222.60" y="303.35" font-size="7.6" text-anchor="end" fill="#231f20" stroke="#231f20" font-weight="normal" >Ser</text>
<text x="222.60" y="310.22" font-size="7.6" text-anchor="end" fill="#231f20" stroke="#231f20" font-weight="normal" >Thr</text>
<text x="222.60" y="317.09" font-size="7.6" text-anchor="end" fill="#231f20" stroke="#231f20" font-weight="normal" >Tyr</text>
<text x="222.60" y="323.96" font-size="7.6" text-anchor="end" fill="#231f20" stroke="#231f20" font-weight="normal" >Val</text>
<defs><linearGradient id="cb" x1="0" x2="1" y1="0" y2="0"><stop offset="0" stop-color="#3a4ea6"/><stop offset="0.25" stop-color="#7d89c8"/><stop offset="0.5" stop-color="#f7f7fa"/><stop offset="0.75" stop-color="#f08a80"/><stop offset="1" stop-color="#e3261e"/></linearGradient></defs>
<rect x="256.20" y="326.70" width="27.10" height="5.70" fill="url(#cb)" stroke="#555" stroke-width="0.4"/>
<line x1="261.90" y1="331.20" x2="261.90" y2="333.40" stroke="#231f20" stroke-width="0.7" />
<line x1="269.40" y1="331.20" x2="269.40" y2="333.40" stroke="#231f20" stroke-width="0.7" />
<line x1="276.90" y1="331.20" x2="276.90" y2="333.40" stroke="#231f20" stroke-width="0.7" />
<text x="261.60" y="340.20" font-size="8.6" text-anchor="middle" fill="#231f20" stroke="#231f20" font-weight="normal" >−1</text>
<text x="276.60" y="340.20" font-size="8.6" text-anchor="middle" fill="#231f20" stroke="#231f20" font-weight="normal" >1</text>
<line x1="379.00" y1="195.50" x2="379.00" y2="305.00" stroke="#231f20" stroke-width="1" />
<line x1="375.00" y1="197.89" x2="379.00" y2="197.89" stroke="#231f20" stroke-width="1" />
<text x="373.20" y="200.99" font-size="8.6" text-anchor="end" fill="#231f20" stroke="#231f20" font-weight="normal" >15</text>
<line x1="375.00" y1="232.43" x2="379.00" y2="232.43" stroke="#231f20" stroke-width="1" />
<text x="373.20" y="235.53" font-size="8.6" text-anchor="end" fill="#231f20" stroke="#231f20" font-weight="normal" >10</text>
<line x1="375.00" y1="266.97" x2="379.00" y2="266.97" stroke="#231f20" stroke-width="1" />
<text x="373.20" y="270.06" font-size="8.6" text-anchor="end" fill="#231f20" stroke="#231f20" font-weight="normal" >5</text>
<line x1="375.00" y1="301.50" x2="379.00" y2="301.50" stroke="#231f20" stroke-width="1" />
<text x="373.20" y="304.60" font-size="8.6" text-anchor="end" fill="#231f20" stroke="#231f20" font-weight="normal" >0</text>
<line x1="378.50" y1="304.80" x2="495.40" y2="304.80" stroke="#231f20" stroke-width="1" />
<line x1="383.90" y1="304.80" x2="383.90" y2="307.60" stroke="#231f20" stroke-width="1" />
<text x="383.90" y="321.30" font-size="8.6" text-anchor="middle" fill="#231f20" stroke="#231f20" font-weight="normal" >0.0</text>
<line x1="410.60" y1="304.80" x2="410.60" y2="307.60" stroke="#231f20" stroke-width="1" />
<text x="410.60" y="321.30" font-size="8.6" text-anchor="middle" fill="#231f20" stroke="#231f20" font-weight="normal" >0.2</text>
<line x1="437.30" y1="304.80" x2="437.30" y2="307.60" stroke="#231f20" stroke-width="1" />
<text x="437.30" y="321.30" font-size="8.6" text-anchor="middle" fill="#231f20" stroke="#231f20" font-weight="normal" >0.4</text>
<line x1="464.00" y1="304.80" x2="464.00" y2="307.60" stroke="#231f20" stroke-width="1" />
<text x="464.00" y="321.30" font-size="8.6" text-anchor="middle" fill="#231f20" stroke="#231f20" font-weight="normal" >0.6</text>
<line x1="490.70" y1="304.80" x2="490.70" y2="307.60" stroke="#231f20" stroke-width="1" />
<text x="490.70" y="321.30" font-size="8.6" text-anchor="middle" fill="#231f20" stroke="#231f20" font-weight="normal" >0.8</text>
<text x="440.70" y="331.60" font-size="8.6" text-anchor="middle" fill="#231f20" stroke="#231f20" font-weight="normal" >Frequence</text>
<text transform="translate(357.6,250) rotate(-90)" x="0" y="0" font-size="8.6" fill="#231f20" stroke="#231f20" text-anchor="middle">Density</text>
<path d="M383.90,301.50 L384.35,301.50 L384.81,301.50 L385.26,301.50 L385.72,301.50 L386.17,301.50 L386.62,301.50 L387.08,301.50 L387.53,301.50 L387.99,301.50 L388.44,301.50 L388.89,301.50 L389.35,301.50 L389.80,301.50 L390.25,301.50 L390.71,301.50 L391.16,301.50 L391.62,301.50 L392.07,301.50 L392.52,301.50 L392.98,301.50 L393.43,301.50 L393.89,301.50 L394.34,301.50 L394.79,301.50 L395.25,301.50 L395.70,301.50 L396.16,301.50 L396.61,301.50 L397.06,301.50 L397.52,301.50 L397.97,301.50 L398.42,301.50 L398.88,301.49 L399.33,301.49 L399.79,301.49 L400.24,301.49 L400.69,301.48 L401.15,301.47 L401.60,301.47 L402.06,301.46 L402.51,301.44 L402.96,301.43 L403.42,301.41 L403.87,301.38 L404.33,301.35 L404.78,301.31 L405.23,301.27 L405.69,301.21 L406.14,301.14 L406.59,301.05 L407.05,300.95 L407.50,300.83 L407.96,300.68 L408.41,300.51 L408.86,300.30 L409.32,300.06 L409.77,299.78 L410.23,299.45 L410.68,299.08 L411.13,298.65 L411.59,298.15 L412.04,297.59 L412.50,296.97 L412.95,296.26 L413.40,295.47 L413.86,294.60 L414.31,293.64 L414.77,292.59 L415.22,291.45 L415.67,290.22 L416.13,288.89 L416.58,287.48 L417.03,285.98 L417.49,284.41 L417.94,282.76 L418.40,281.06 L418.85,279.30 L419.30,277.51 L419.76,275.70 L420.21,273.88 L420.67,272.07 L421.12,270.30 L421.57,268.57 L422.03,266.91 L422.48,265.33 L422.94,263.85 L423.39,262.50 L423.84,261.28 L424.30,260.22 L424.75,259.31 L425.20,258.58 L425.66,258.02 L426.11,257.65 L426.57,257.47 L427.02,257.47 L427.47,257.65 L427.93,258.00 L428.38,258.52 L428.84,259.19 L429.29,260.00 L429.74,260.93 L430.20,261.97 L430.65,263.10 L431.11,264.30 L431.56,265.56 L432.01,266.85 L432.47,268.16 L432.92,269.47 L433.38,270.77 L433.83,272.05 L434.28,273.30 L434.74,274.50 L435.19,275.65 L435.64,276.75 L436.10,277.79 L436.55,278.77 L437.01,279.70 L437.46,280.56 L437.91,281.38 L438.37,282.15 L438.82,282.87 L439.28,283.55 L439.73,284.21 L440.18,284.83 L440.64,285.44 L441.09,286.03 L441.55,286.61 L442.00,287.18 L442.45,287.75 L442.91,288.32 L443.36,288.89 L443.81,289.46 L444.27,290.04 L444.72,290.62 L445.18,291.20 L445.63,291.78 L446.08,292.36 L446.54,292.93 L446.99,293.50 L447.45,294.06 L447.90,294.60 L448.35,295.14 L448.81,295.65 L449.26,296.14 L449.72,296.62 L450.17,297.07 L450.62,297.50 L451.08,297.90 L451.53,298.27 L451.99,298.62 L452.44,298.94 L452.89,299.24 L453.35,299.51 L453.80,299.76 L454.25,299.98 L454.71,300.18 L455.16,300.36 L455.62,300.52 L456.07,300.66 L456.52,300.79 L456.98,300.89 L457.43,300.99 L457.89,301.07 L458.34,301.14 L458.79,301.20 L459.25,301.25 L459.70,301.29 L460.16,301.33 L460.61,301.36 L461.06,301.39 L461.52,301.41 L461.97,301.43 L462.42,301.44 L462.88,301.45 L463.33,301.46 L463.79,301.47 L464.24,301.48 L464.69,301.48 L465.15,301.49 L465.60,301.49 L466.06,301.49 L466.51,301.49 L466.96,301.49 L467.42,301.50 L467.87,301.50 L468.33,301.50 L468.78,301.50 L469.23,301.50 L469.69,301.50 L470.14,301.50 L470.59,301.50 L471.05,301.50 L471.50,301.50 L471.96,301.50 L472.41,301.50 L472.86,301.50 L473.32,301.50 L473.77,301.50 L474.23,301.50 L474.68,301.50" fill="none" stroke="#98a2ac" stroke-width="1.1" stroke-dasharray="3,2"/>
<path d="M383.90,301.50 L384.35,301.50 L384.81,301.50 L385.26,301.50 L385.72,301.50 L386.17,301.50 L386.62,301.50 L387.08,301.50 L387.53,301.50 L387.99,301.50 L388.44,301.50 L388.89,301.50 L389.35,301.50 L389.80,301.50 L390.25,301.50 L390.71,301.50 L391.16,301.50 L391.62,301.50 L392.07,301.50 L392.52,301.50 L392.98,301.50 L393.43,301.50 L393.89,301.50 L394.34,301.50 L394.79,301.50 L395.25,301.50 L395.70,301.50 L396.16,301.50 L396.61,301.50 L397.06,301.50 L397.52,301.50 L397.97,301.50 L398.42,301.50 L398.88,301.50 L399.33,301.49 L399.79,301.49 L400.24,301.49 L400.69,301.49 L401.15,301.48 L401.60,301.48 L402.06,301.47 L402.51,301.46 L402.96,301.45 L403.42,301.43 L403.87,301.41 L404.33,301.38 L404.78,301.35 L405.23,301.31 L405.69,301.26 L406.14,301.20 L406.59,301.12 L407.05,301.03 L407.50,300.91 L407.96,300.78 L408.41,300.61 L408.86,300.41 L409.32,300.18 L409.77,299.91 L410.23,299.59 L410.68,299.21 L411.13,298.78 L411.59,298.28 L412.04,297.71 L412.50,297.06 L412.95,296.33 L413.40,295.51 L413.86,294.59 L414.31,293.58 L414.77,292.46 L415.22,291.25 L415.67,289.92 L416.13,288.50 L416.58,286.98 L417.03,285.36 L417.49,283.66 L417.94,281.87 L418.40,280.02 L418.85,278.12 L419.30,276.19 L419.76,274.23 L420.21,272.27 L420.67,270.34 L421.12,268.45 L421.57,266.62 L422.03,264.87 L422.48,263.24 L422.94,261.73 L423.39,260.38 L423.84,259.18 L424.30,258.17 L424.75,257.36 L425.20,256.74 L425.66,256.34 L426.11,256.14 L426.57,256.16 L427.02,256.38 L427.47,256.80 L427.93,257.41 L428.38,258.20 L428.84,259.13 L429.29,260.21 L429.74,261.41 L430.20,262.70 L430.65,264.07 L431.11,265.50 L431.56,266.96 L432.01,268.43 L432.47,269.90 L432.92,271.34 L433.38,272.75 L433.83,274.12 L434.28,275.42 L434.74,276.66 L435.19,277.83 L435.64,278.93 L436.10,279.96 L436.55,280.92 L437.01,281.81 L437.46,282.63 L437.91,283.40 L438.37,284.12 L438.82,284.80 L439.28,285.44 L439.73,286.05 L440.18,286.64 L440.64,287.22 L441.09,287.78 L441.55,288.34 L442.00,288.90 L442.45,289.46 L442.91,290.01 L443.36,290.58 L443.81,291.14 L444.27,291.71 L444.72,292.28 L445.18,292.84 L445.63,293.40 L446.08,293.96 L446.54,294.51 L446.99,295.04 L447.45,295.56 L447.90,296.06 L448.35,296.55 L448.81,297.01 L449.26,297.44 L449.72,297.85 L450.17,298.24 L450.62,298.60 L451.08,298.93 L451.53,299.23 L451.99,299.51 L452.44,299.76 L452.89,299.99 L453.35,300.20 L453.80,300.38 L454.25,300.54 L454.71,300.68 L455.16,300.81 L455.62,300.92 L456.07,301.01 L456.52,301.09 L456.98,301.16 L457.43,301.22 L457.89,301.27 L458.34,301.31 L458.79,301.35 L459.25,301.38 L459.70,301.40 L460.16,301.42 L460.61,301.44 L461.06,301.45 L461.52,301.46 L461.97,301.47 L462.42,301.48 L462.88,301.48 L463.33,301.49 L463.79,301.49 L464.24,301.49 L464.69,301.49 L465.15,301.49 L465.60,301.50 L466.06,301.50 L466.51,301.50 L466.96,301.50 L467.42,301.50 L467.87,301.50 L468.33,301.50 L468.78,301.50 L469.23,301.50 L469.69,301.50 L470.14,301.50 L470.59,301.50 L471.05,301.50 L471.50,301.50 L471.96,301.50 L472.41,301.50 L472.86,301.50 L473.32,301.50 L473.77,301.50 L474.23,301.50 L474.68,301.50" fill="none" stroke="#7390ad" stroke-width="1.2"/>
<path d="M411.94,301.48 L412.19,301.48 L412.44,301.47 L412.70,301.47 L412.95,301.46 L413.20,301.45 L413.46,301.44 L413.71,301.42 L413.96,301.41 L414.22,301.39 L414.47,301.36 L414.73,301.33 L414.98,301.30 L415.23,301.26 L415.49,301.21 L415.74,301.15 L415.99,301.09 L416.25,301.01 L416.50,300.92 L416.75,300.82 L417.01,300.69 L417.26,300.56 L417.52,300.40 L417.77,300.22 L418.02,300.01 L418.28,299.78 L418.53,299.51 L418.78,299.22 L419.04,298.88 L419.29,298.51 L419.54,298.10 L419.80,297.65 L420.05,297.15 L420.31,296.59 L420.56,295.99 L420.81,295.34 L421.07,294.63 L421.32,293.86 L421.57,293.04 L421.83,292.15 L422.08,291.21 L422.33,290.21 L422.59,289.16 L422.84,288.05 L423.10,286.89 L423.35,285.69 L423.60,284.44 L423.86,283.15 L424.11,281.84 L424.36,280.49 L424.62,279.13 L424.87,277.76 L425.12,276.39 L425.38,275.03 L425.63,273.69 L425.89,272.37 L426.14,271.09 L426.39,269.86 L426.65,268.69 L426.90,267.59 L427.15,266.56 L427.41,265.63 L427.66,264.78 L427.91,264.04 L428.17,263.41 L428.42,262.89 L428.68,262.48 L428.93,262.20 L429.18,262.04 L429.44,262.01 L429.69,262.09 L429.94,262.29 L430.20,262.61 L430.45,263.04 L430.71,263.56 L430.96,264.18 L431.21,264.89 L431.47,265.67 L431.72,266.51 L431.97,267.40 L432.23,268.33 L432.48,269.28 L432.73,270.24 L432.99,271.21 L433.24,272.15 L433.50,273.07 L433.75,273.94 L434.00,274.76 L434.26,275.51 L434.51,276.19 L434.76,276.77 L435.02,277.26 L435.27,277.65 L435.52,277.92 L435.78,278.08 L436.03,278.12 L436.29,278.04 L436.54,277.84 L436.79,277.52 L437.05,277.08 L437.30,276.53 L437.55,275.87 L437.81,275.11 L438.06,274.26 L438.31,273.34 L438.57,272.34 L438.82,271.28 L439.08,270.18 L439.33,269.05 L439.58,267.91 L439.84,266.77 L440.09,265.64 L440.34,264.54 L440.60,263.48 L440.85,262.49 L441.10,261.57 L441.36,260.74 L441.61,260.00 L441.87,259.38 L442.12,258.87 L442.37,258.49 L442.63,258.25 L442.88,258.14 L443.13,258.17 L443.39,258.35 L443.64,258.67 L443.89,259.14 L444.15,259.74 L444.40,260.47 L444.66,261.33 L444.91,262.30 L445.16,263.39 L445.42,264.57 L445.67,265.84 L445.92,267.19 L446.18,268.60 L446.43,270.06 L446.69,271.56 L446.94,273.09 L447.19,274.64 L447.45,276.19 L447.70,277.74 L447.95,279.27 L448.21,280.77 L448.46,282.25 L448.71,283.67 L448.97,285.06 L449.22,286.38 L449.48,287.65 L449.73,288.86 L449.98,290.00 L450.24,291.08 L450.49,292.09 L450.74,293.03 L451.00,293.90 L451.25,294.71 L451.50,295.45 L451.76,296.13 L452.01,296.75 L452.27,297.32 L452.52,297.83 L452.77,298.29 L453.03,298.70 L453.28,299.06 L453.53,299.39 L453.79,299.68 L454.04,299.94 L454.29,300.16 L454.55,300.36 L454.80,300.53 L455.06,300.68 L455.31,300.80 L455.56,300.91 L455.82,301.01 L456.07,301.09 L456.32,301.16 L456.58,301.22 L456.83,301.26 L457.08,301.31 L457.34,301.34 L457.59,301.37 L457.85,301.39 L458.10,301.41 L458.35,301.43 L458.61,301.44 L458.86,301.45 L459.11,301.46 L459.37,301.47 L459.62,301.48 L459.87,301.48 L460.13,301.49 L460.38,301.49 L460.64,301.49 L460.89,301.49 L461.14,301.49 L461.40,301.50 L461.65,301.50 L461.90,301.50 L462.16,301.50 L462.41,301.50 L462.66,301.50" fill="none" stroke="#c98b2c" stroke-width="1.3"/>
<path d="M429.29,300.78 L429.45,300.70 L429.62,300.62 L429.78,300.52 L429.94,300.42 L430.11,300.31 L430.27,300.18 L430.43,300.05 L430.60,299.90 L430.76,299.74 L430.93,299.57 L431.09,299.39 L431.25,299.19 L431.42,298.97 L431.58,298.73 L431.74,298.48 L431.91,298.21 L432.07,297.92 L432.23,297.61 L432.40,297.27 L432.56,296.92 L432.72,296.53 L432.89,296.13 L433.05,295.70 L433.21,295.24 L433.38,294.75 L433.54,294.23 L433.71,293.68 L433.87,293.11 L434.03,292.50 L434.20,291.85 L434.36,291.18 L434.52,290.47 L434.69,289.73 L434.85,288.95 L435.01,288.13 L435.18,287.28 L435.34,286.40 L435.50,285.48 L435.67,284.53 L435.83,283.54 L436.00,282.51 L436.16,281.45 L436.32,280.36 L436.49,279.24 L436.65,278.08 L436.81,276.90 L436.98,275.68 L437.14,274.44 L437.30,273.17 L437.47,271.88 L437.63,270.57 L437.79,269.24 L437.96,267.89 L438.12,266.53 L438.28,265.16 L438.45,263.78 L438.61,262.39 L438.78,261.00 L438.94,259.61 L439.10,258.23 L439.27,256.85 L439.43,255.48 L439.59,254.13 L439.76,252.80 L439.92,251.48 L440.08,250.19 L440.25,248.93 L440.41,247.71 L440.57,246.51 L440.74,245.36 L440.90,244.25 L441.06,243.18 L441.23,242.16 L441.39,241.19 L441.56,240.28 L441.72,239.42 L441.88,238.62 L442.05,237.88 L442.21,237.21 L442.37,236.59 L442.54,236.05 L442.70,235.56 L442.86,235.15 L443.03,234.81 L443.19,234.53 L443.35,234.32 L443.52,234.19 L443.68,234.12 L443.84,234.12 L444.01,234.18 L444.17,234.31 L444.34,234.51 L444.50,234.77 L444.66,235.09 L444.83,235.48 L444.99,235.92 L445.15,236.42 L445.32,236.97 L445.48,237.57 L445.64,238.22 L445.81,238.92 L445.97,239.66 L446.13,240.44 L446.30,241.26 L446.46,242.12 L446.62,243.01 L446.79,243.93 L446.95,244.88 L447.12,245.85 L447.28,246.85 L447.44,247.86 L447.61,248.90 L447.77,249.95 L447.93,251.01 L448.10,252.08 L448.26,253.16 L448.42,254.25 L448.59,255.34 L448.75,256.44 L448.91,257.53 L449.08,258.63 L449.24,259.73 L449.41,260.82 L449.57,261.91 L449.73,263.00 L449.90,264.07 L450.06,265.14 L450.22,266.21 L450.39,267.26 L450.55,268.31 L450.71,269.34 L450.88,270.36 L451.04,271.38 L451.20,272.37 L451.37,273.36 L451.53,274.33 L451.69,275.29 L451.86,276.24 L452.02,277.17 L452.19,278.08 L452.35,278.98 L452.51,279.86 L452.68,280.73 L452.84,281.58 L453.00,282.41 L453.17,283.22 L453.33,284.02 L453.49,284.79 L453.66,285.55 L453.82,286.29 L453.98,287.01 L454.15,287.71 L454.31,288.39 L454.47,289.06 L454.64,289.70 L454.80,290.32 L454.97,290.92 L455.13,291.50 L455.29,292.06 L455.46,292.60 L455.62,293.11 L455.78,293.61 L455.95,294.09 L456.11,294.55 L456.27,294.99 L456.44,295.40 L456.60,295.80 L456.76,296.18 L456.93,296.54 L457.09,296.89 L457.25,297.21 L457.42,297.52 L457.58,297.81 L457.75,298.09 L457.91,298.35 L458.07,298.59 L458.24,298.82 L458.40,299.03 L458.56,299.23 L458.73,299.42 L458.89,299.59 L459.05,299.75 L459.22,299.91 L459.38,300.05 L459.54,300.18 L459.71,300.30 L459.87,300.41 L460.04,300.51 L460.20,300.60 L460.36,300.69 L460.53,300.77 L460.69,300.84 L460.85,300.91 L461.02,300.97 L461.18,301.02 L461.34,301.07 L461.51,301.12 L461.67,301.16 L461.83,301.20 L462.00,301.23" fill="none" stroke="#e23b2e" stroke-width="1.3"/>
<text x="388.20" y="239.17" font-size="7.7" text-anchor="start" fill="#8499b0" stroke="#8499b0" font-weight="normal" >Transcriptome</text>
<text x="385.20" y="254.77" font-size="7.7" text-anchor="start" fill="#8499b0" stroke="#8499b0" font-weight="normal" >Random</text>
<line x1="420.40" y1="241.50" x2="423.40" y2="256.50" stroke="#8499b0" stroke-width="0.9" />
<line x1="407.00" y1="257.30" x2="419.50" y2="260.00" stroke="#8499b0" stroke-width="0.9" stroke-dasharray="2.5,1.5"/>
<line x1="448.70" y1="235.80" x2="460.20" y2="235.80" stroke="#e23b2e" stroke-width="1.1" />
<line x1="448.70" y1="268.60" x2="460.20" y2="268.60" stroke="#c98b2c" stroke-width="1.1" />
<text x="463.50" y="239.07" font-size="7.7" text-anchor="start" fill="#e23b2e" stroke="#e23b2e" font-weight="normal" >AA transporter</text>
<text x="463.50" y="247.37" font-size="7.7" text-anchor="start" fill="#e23b2e" stroke="#e23b2e" font-weight="normal" >downregulated</text>
<text x="460.20" y="278.97" font-size="7.7" text-anchor="start" fill="#c98b2c" stroke="#c98b2c" font-weight="normal" >All AA transporter</text>
<line x1="38.20" y1="370.50" x2="38.20" y2="475.80" stroke="#231f20" stroke-width="1" />
<line x1="35.40" y1="370.40" x2="38.20" y2="370.40" stroke="#231f20" stroke-width="1" />
<text x="33.30" y="373.50" font-size="8.6" text-anchor="end" fill="#231f20" stroke="#231f20" font-weight="normal" >1.0</text>
<line x1="35.40" y1="396.65" x2="38.20" y2="396.65" stroke="#231f20" stroke-width="1" />
<text x="33.30" y="399.75" font-size="8.6" text-anchor="end" fill="#231f20" stroke="#231f20" font-weight="normal" >0.5</text>
<line x1="35.40" y1="422.90" x2="38.20" y2="422.90" stroke="#231f20" stroke-width="1" />
<text x="33.30" y="426.00" font-size="8.6" text-anchor="end" fill="#231f20" stroke="#231f20" font-weight="normal" >0.0</text>
<line x1="35.40" y1="449.15" x2="38.20" y2="449.15" stroke="#231f20" stroke-width="1" />
<text x="33.30" y="452.25" font-size="8.6" text-anchor="end" fill="#231f20" stroke="#231f20" font-weight="normal" >−0.5</text>
<line x1="35.40" y1="475.40" x2="38.20" y2="475.40" stroke="#231f20" stroke-width="1" />
<text x="33.30" y="478.50" font-size="8.6" text-anchor="end" fill="#231f20" stroke="#231f20" font-weight="normal" >−1.0</text>
<line x1="38.20" y1="407.00" x2="502.50" y2="407.00" stroke="#8a8e9a" stroke-width="1.1" stroke-dasharray="4,3.6"/>
<rect x="40.05" y="390.03" width="4.40" height="32.87" fill="#c8343c" />
<rect x="47.65" y="397.96" width="4.40" height="24.94" fill="#c8343c" />
<rect x="55.25" y="398.70" width="4.40" height="24.20" fill="#c8343c" />
<rect x="62.85" y="407.83" width="4.40" height="15.07" fill="#c8343c" />
<rect x="70.45" y="395.70" width="4.40" height="27.20" fill="#cd5a3c" />
<rect x="78.05" y="415.50" width="4.40" height="7.40" fill="#cd5a3c" />
<rect x="85.65" y="422.90" width="4.40" height="2.26" fill="#c7843a" />
<rect x="93.25" y="422.90" width="4.40" height="26.04" fill="#c7843a" />
<rect x="100.85" y="419.75" width="4.40" height="3.15" fill="#c8b040" />
<rect x="108.45" y="422.90" width="4.40" height="20.37" fill="#c8b040" />
<rect x="116.05" y="408.09" width="4.40" height="14.80" fill="#b0c640" />
<rect x="123.65" y="417.75" width="4.40" height="5.15" fill="#b0c640" />
<rect x="131.25" y="396.96" width="4.40" height="25.93" fill="#8cc040" />
<rect x="138.85" y="422.90" width="4.40" height="4.72" fill="#8cc040" />
<rect x="146.45" y="422.90" width="4.40" height="5.51" fill="#8cc040" />
<rect x="154.05" y="410.82" width="4.40" height="12.08" fill="#8cc040" />
<rect x="161.65" y="422.90" width="4.40" height="10.45" fill="#42b24e" />
<rect x="169.25" y="422.90" width="4.40" height="29.51" fill="#42b24e" />
<rect x="176.85" y="422.90" width="4.40" height="10.45" fill="#40b275" />
<rect x="184.45" y="400.43" width="4.40" height="22.47" fill="#40b275" />
<rect x="192.05" y="388.77" width="4.40" height="34.12" fill="#40b275" />
<rect x="199.65" y="422.90" width="4.40" height="29.03" fill="#3cb0a0" />
<rect x="207.25" y="422.90" width="4.40" height="0.53" fill="#3cb0a0" />
<rect x="214.85" y="396.23" width="4.40" height="26.67" fill="#32a8c2" />
<rect x="222.45" y="405.63" width="4.40" height="17.27" fill="#32a8c2" />
<rect x="230.05" y="422.90" width="4.40" height="1.79" fill="#32a8c2" />
<rect x="237.65" y="400.64" width="4.40" height="22.26" fill="#32a8c2" />
<rect x="245.25" y="412.29" width="4.40" height="10.61" fill="#32a8c2" />
<rect x="252.85" y="406.62" width="4.40" height="16.27" fill="#32a8c2" />
<rect x="260.45" y="369.72" width="4.40" height="53.18" fill="#2f82c0" />
<rect x="268.05" y="422.90" width="4.40" height="0.21" fill="#3a4fa6" />
<rect x="275.65" y="422.90" width="4.40" height="9.19" fill="#3a4fa6" />
<rect x="283.25" y="411.56" width="4.40" height="11.34" fill="#4250b0" />
<rect x="290.85" y="414.76" width="4.40" height="8.14" fill="#4250b0" />
<rect x="298.45" y="411.56" width="4.40" height="11.34" fill="#4250b0" />
<rect x="306.05" y="402.90" width="4.40" height="20.00" fill="#4250b0" />
<rect x="313.65" y="422.90" width="4.40" height="11.71" fill="#6545ae" />
<rect x="321.25" y="422.90" width="4.40" height="1.31" fill="#6545ae" />
<rect x="328.85" y="404.89" width="4.40" height="18.01" fill="#9a48b0" />
<rect x="336.45" y="401.16" width="4.40" height="21.73" fill="#9a48b0" />
<rect x="344.05" y="418.96" width="4.40" height="3.94" fill="#9a48b0" />
<rect x="351.65" y="413.55" width="4.40" height="9.34" fill="#9a48b0" />
<rect x="359.25" y="413.55" width="4.40" height="9.34" fill="#9a48b0" />
<rect x="366.85" y="422.90" width="4.40" height="0.79" fill="#9a48b0" />
<rect x="374.45" y="418.96" width="4.40" height="3.94" fill="#b6409e" />
<rect x="382.05" y="422.90" width="4.40" height="1.05" fill="#b6409e" />
<rect x="389.65" y="422.90" width="4.40" height="4.20" fill="#b6409e" />
<rect x="397.25" y="422.90" width="4.40" height="24.05" fill="#b6409e" />
<rect x="404.85" y="422.90" width="4.40" height="22.84" fill="#b6409e" />
<rect x="412.45" y="422.90" width="4.40" height="24.05" fill="#b6409e" />
<rect x="420.05" y="415.29" width="4.40" height="7.61" fill="#bec232" />
<rect x="427.65" y="402.90" width="4.40" height="20.00" fill="#bec232" />
<rect x="435.25" y="411.82" width="4.40" height="11.08" fill="#bec232" />
<rect x="442.85" y="413.03" width="4.40" height="9.87" fill="#bec232" />
<rect x="450.45" y="401.16" width="4.40" height="21.73" fill="#8e8e8e" />
<rect x="458.05" y="390.51" width="4.40" height="32.39" fill="#8e8e8e" />
<rect x="465.65" y="414.03" width="4.40" height="8.87" fill="#8e8e8e" />
<rect x="473.25" y="415.29" width="4.40" height="7.61" fill="#8e8e8e" />
<rect x="480.85" y="394.23" width="4.40" height="28.67" fill="#5fbe3e" />
<rect x="488.45" y="422.90" width="4.40" height="16.64" fill="#c0621e" />
<rect x="496.05" y="422.90" width="4.40" height="2.26" fill="#c0621e" />
<text transform="translate(45.65,430.3) rotate(-90)" x="0" y="0" font-size="8.0" text-anchor="end" fill="#3a3a3a" stroke="#3a3a3a">GCC</text>
<text transform="translate(53.25,430.3) rotate(-90)" x="0" y="0" font-size="8.0" text-anchor="end" fill="#3a3a3a" stroke="#3a3a3a">GCG</text>
<text transform="translate(60.85,430.3) rotate(-90)" x="0" y="0" font-size="8.0" text-anchor="end" fill="#3a3a3a" stroke="#3a3a3a">GCU</text>
<text transform="translate(68.45,430.3) rotate(-90)" x="0" y="0" font-size="8.0" text-anchor="end" fill="#3a3a3a" stroke="#3a3a3a">GCA</text>
<text transform="translate(76.05,430.3) rotate(-90)" x="0" y="0" font-size="8.0" text-anchor="end" fill="#3a3a3a" stroke="#3a3a3a">UGC</text>
<text transform="translate(83.65,430.3) rotate(-90)" x="0" y="0" font-size="8.0" text-anchor="end" fill="#3a3a3a" stroke="#3a3a3a">UGU</text>
<text transform="translate(91.25,430.3) rotate(-90)" x="0" y="0" font-size="8.0" text-anchor="end" fill="#3a3a3a" stroke="#3a3a3a">GAC</text>
<text transform="translate(98.85,430.3) rotate(-90)" x="0" y="0" font-size="8.0" text-anchor="end" fill="#3a3a3a" stroke="#3a3a3a">GAU</text>
<text transform="translate(106.45,430.3) rotate(-90)" x="0" y="0" font-size="8.0" text-anchor="end" fill="#3a3a3a" stroke="#3a3a3a">GAG</text>
<text transform="translate(114.05,430.3) rotate(-90)" x="0" y="0" font-size="8.0" text-anchor="end" fill="#3a3a3a" stroke="#3a3a3a">GAA</text>
<text transform="translate(121.65,430.3) rotate(-90)" x="0" y="0" font-size="8.0" text-anchor="end" fill="#3a3a3a" stroke="#3a3a3a">UUC</text>
<text transform="translate(129.25,430.3) rotate(-90)" x="0" y="0" font-size="8.0" text-anchor="end" fill="#3a3a3a" stroke="#3a3a3a">UUU</text>
<text transform="translate(136.85,430.3) rotate(-90)" x="0" y="0" font-size="8.0" text-anchor="end" fill="#3a3a3a" stroke="#3a3a3a">GGC</text>
<text transform="translate(144.45,430.3) rotate(-90)" x="0" y="0" font-size="8.0" text-anchor="end" fill="#3a3a3a" stroke="#3a3a3a">GGU</text>
<text transform="translate(152.05,430.3) rotate(-90)" x="0" y="0" font-size="8.0" text-anchor="end" fill="#3a3a3a" stroke="#3a3a3a">GGA</text>
<text transform="translate(159.65,430.3) rotate(-90)" x="0" y="0" font-size="8.0" text-anchor="end" fill="#3a3a3a" stroke="#3a3a3a">GGG</text>
<text transform="translate(167.25,430.3) rotate(-90)" x="0" y="0" font-size="8.0" text-anchor="end" fill="#3a3a3a" stroke="#3a3a3a">CAC</text>
<text transform="translate(174.85,430.3) rotate(-90)" x="0" y="0" font-size="8.0" text-anchor="end" fill="#3a3a3a" stroke="#3a3a3a">CAU</text>
<text transform="translate(182.45,430.3) rotate(-90)" x="0" y="0" font-size="8.0" text-anchor="end" fill="#3a3a3a" stroke="#3a3a3a">AUA</text>
<text transform="translate(190.05,430.3) rotate(-90)" x="0" y="0" font-size="8.0" text-anchor="end" fill="#3a3a3a" stroke="#3a3a3a">AUC</text>
<text transform="translate(197.65,430.3) rotate(-90)" x="0" y="0" font-size="8.0" text-anchor="end" fill="#3a3a3a" stroke="#3a3a3a">AUU</text>
<text transform="translate(205.25,430.3) rotate(-90)" x="0" y="0" font-size="8.0" text-anchor="end" fill="#3a3a3a" stroke="#3a3a3a">AAA</text>
<text transform="translate(212.85,430.3) rotate(-90)" x="0" y="0" font-size="8.0" text-anchor="end" fill="#3a3a3a" stroke="#3a3a3a">AAG</text>
<text transform="translate(220.45,430.3) rotate(-90)" x="0" y="0" font-size="8.0" text-anchor="end" fill="#3a3a3a" stroke="#3a3a3a">CUG</text>
<text transform="translate(228.05,430.3) rotate(-90)" x="0" y="0" font-size="8.0" text-anchor="end" fill="#3a3a3a" stroke="#3a3a3a">CUA</text>
<text transform="translate(235.65,430.3) rotate(-90)" x="0" y="0" font-size="8.0" text-anchor="end" fill="#3a3a3a" stroke="#3a3a3a">UUA</text>
<text transform="translate(243.25,430.3) rotate(-90)" x="0" y="0" font-size="8.0" text-anchor="end" fill="#3a3a3a" stroke="#3a3a3a">CUU</text>
<text transform="translate(250.85,430.3) rotate(-90)" x="0" y="0" font-size="8.0" text-anchor="end" fill="#3a3a3a" stroke="#3a3a3a">UUG</text>
<text transform="translate(258.45,430.3) rotate(-90)" x="0" y="0" font-size="8.0" text-anchor="end" fill="#3a3a3a" stroke="#3a3a3a">CUC</text>
<text transform="translate(266.05,430.3) rotate(-90)" x="0" y="0" font-size="8.0" text-anchor="end" fill="#3a3a3a" stroke="#3a3a3a">AUG</text>
<text transform="translate(273.65,430.3) rotate(-90)" x="0" y="0" font-size="8.0" text-anchor="end" fill="#3a3a3a" stroke="#3a3a3a">AAC</text>
<text transform="translate(281.25,430.3) rotate(-90)" x="0" y="0" font-size="8.0" text-anchor="end" fill="#3a3a3a" stroke="#3a3a3a">AAU</text>
<text transform="translate(288.85,430.3) rotate(-90)" x="0" y="0" font-size="8.0" text-anchor="end" fill="#3a3a3a" stroke="#3a3a3a">CCG</text>
<text transform="translate(296.45,430.3) rotate(-90)" x="0" y="0" font-size="8.0" text-anchor="end" fill="#3a3a3a" stroke="#3a3a3a">CCC</text>
<text transform="translate(304.05,430.3) rotate(-90)" x="0" y="0" font-size="8.0" text-anchor="end" fill="#3a3a3a" stroke="#3a3a3a">CCU</text>
<text transform="translate(311.65,430.3) rotate(-90)" x="0" y="0" font-size="8.0" text-anchor="end" fill="#3a3a3a" stroke="#3a3a3a">CCA</text>
<text transform="translate(319.25,430.3) rotate(-90)" x="0" y="0" font-size="8.0" text-anchor="end" fill="#3a3a3a" stroke="#3a3a3a">CAA</text>
<text transform="translate(326.85,430.3) rotate(-90)" x="0" y="0" font-size="8.0" text-anchor="end" fill="#3a3a3a" stroke="#3a3a3a">CAG</text>
<text transform="translate(334.45,430.3) rotate(-90)" x="0" y="0" font-size="8.0" text-anchor="end" fill="#3a3a3a" stroke="#3a3a3a">AGA</text>
<text transform="translate(342.05,430.3) rotate(-90)" x="0" y="0" font-size="8.0" text-anchor="end" fill="#3a3a3a" stroke="#3a3a3a">CGG</text>
<text transform="translate(349.65,430.3) rotate(-90)" x="0" y="0" font-size="8.0" text-anchor="end" fill="#3a3a3a" stroke="#3a3a3a">AGG</text>
<text transform="translate(357.25,430.3) rotate(-90)" x="0" y="0" font-size="8.0" text-anchor="end" fill="#3a3a3a" stroke="#3a3a3a">CGA</text>
<text transform="translate(364.85,430.3) rotate(-90)" x="0" y="0" font-size="8.0" text-anchor="end" fill="#3a3a3a" stroke="#3a3a3a">CGC</text>
<text transform="translate(372.45,430.3) rotate(-90)" x="0" y="0" font-size="8.0" text-anchor="end" fill="#3a3a3a" stroke="#3a3a3a">CGU</text>
<text transform="translate(380.05,430.3) rotate(-90)" x="0" y="0" font-size="8.0" text-anchor="end" fill="#3a3a3a" stroke="#3a3a3a">AGC</text>
<text transform="translate(387.65,430.3) rotate(-90)" x="0" y="0" font-size="8.0" text-anchor="end" fill="#3a3a3a" stroke="#3a3a3a">UCG</text>
<text transform="translate(395.25,430.3) rotate(-90)" x="0" y="0" font-size="8.0" text-anchor="end" fill="#3a3a3a" stroke="#3a3a3a">UCU</text>
<text transform="translate(402.85,430.3) rotate(-90)" x="0" y="0" font-size="8.0" text-anchor="end" fill="#3a3a3a" stroke="#3a3a3a">UCA</text>
<text transform="translate(410.45,430.3) rotate(-90)" x="0" y="0" font-size="8.0" text-anchor="end" fill="#3a3a3a" stroke="#3a3a3a">UCC</text>
<text transform="translate(418.05,430.3) rotate(-90)" x="0" y="0" font-size="8.0" text-anchor="end" fill="#3a3a3a" stroke="#3a3a3a">AGU</text>
<text transform="translate(425.65,430.3) rotate(-90)" x="0" y="0" font-size="8.0" text-anchor="end" fill="#3a3a3a" stroke="#3a3a3a">ACA</text>
<text transform="translate(433.25,430.3) rotate(-90)" x="0" y="0" font-size="8.0" text-anchor="end" fill="#3a3a3a" stroke="#3a3a3a">ACC</text>
<text transform="translate(440.85,430.3) rotate(-90)" x="0" y="0" font-size="8.0" text-anchor="end" fill="#3a3a3a" stroke="#3a3a3a">ACG</text>
<text transform="translate(448.45,430.3) rotate(-90)" x="0" y="0" font-size="8.0" text-anchor="end" fill="#3a3a3a" stroke="#3a3a3a">ACU</text>
<text transform="translate(456.05,430.3) rotate(-90)" x="0" y="0" font-size="8.0" text-anchor="end" fill="#3a3a3a" stroke="#3a3a3a">GUA</text>
<text transform="translate(463.65,430.3) rotate(-90)" x="0" y="0" font-size="8.0" text-anchor="end" fill="#3a3a3a" stroke="#3a3a3a">GUG</text>
<text transform="translate(471.25,430.3) rotate(-90)" x="0" y="0" font-size="8.0" text-anchor="end" fill="#3a3a3a" stroke="#3a3a3a">GUU</text>
<text transform="translate(478.85,430.3) rotate(-90)" x="0" y="0" font-size="8.0" text-anchor="end" fill="#3a3a3a" stroke="#3a3a3a">GUC</text>
<text transform="translate(486.45,430.3) rotate(-90)" x="0" y="0" font-size="8.0" text-anchor="end" fill="#3a3a3a" stroke="#3a3a3a">UGG</text>
<text transform="translate(494.05,430.3) rotate(-90)" x="0" y="0" font-size="8.0" text-anchor="end" fill="#3a3a3a" stroke="#3a3a3a">UAU</text>
<text transform="translate(501.65,430.3) rotate(-90)" x="0" y="0" font-size="8.0" text-anchor="end" fill="#3a3a3a" stroke="#3a3a3a">UAC</text>
<line x1="38.20" y1="422.90" x2="502.50" y2="422.90" stroke="#2a2a2a" stroke-width="1.3" />
<text x="52.10" y="378.40" font-size="8.6" text-anchor="middle" fill="#231f20" stroke="#231f20" font-weight="normal" >A</text>
<text x="76.30" y="378.40" font-size="8.6" text-anchor="middle" fill="#231f20" stroke="#231f20" font-weight="normal" >C</text>
<text x="89.80" y="378.40" font-size="8.6" text-anchor="middle" fill="#231f20" stroke="#231f20" font-weight="normal" >D</text>
<text x="102.70" y="378.40" font-size="8.6" text-anchor="middle" fill="#231f20" stroke="#231f20" font-weight="normal" >E</text>
<text x="116.70" y="378.40" font-size="8.6" text-anchor="middle" fill="#231f20" stroke="#231f20" font-weight="normal" >F</text>
<text x="139.60" y="378.40" font-size="8.6" text-anchor="middle" fill="#231f20" stroke="#231f20" font-weight="normal" >G</text>
<text x="166.50" y="378.40" font-size="8.6" text-anchor="middle" fill="#231f20" stroke="#231f20" font-weight="normal" >H</text>
<text x="184.60" y="378.40" font-size="8.6" text-anchor="middle" fill="#231f20" stroke="#231f20" font-weight="normal" >I</text>
<text x="203.00" y="378.40" font-size="8.6" text-anchor="middle" fill="#231f20" stroke="#231f20" font-weight="normal" >K</text>
<text x="233.00" y="378.40" font-size="8.6" text-anchor="middle" fill="#231f20" stroke="#231f20" font-weight="normal" >L</text>
<text x="260.60" y="378.40" font-size="8.6" text-anchor="middle" fill="#231f20" stroke="#231f20" font-weight="normal" >M</text>
<text x="272.30" y="378.40" font-size="8.6" text-anchor="middle" fill="#231f20" stroke="#231f20" font-weight="normal" >N</text>
<text x="293.80" y="378.40" font-size="8.6" text-anchor="middle" fill="#231f20" stroke="#231f20" font-weight="normal" >P</text>
<text x="314.80" y="378.40" font-size="8.6" text-anchor="middle" fill="#231f20" stroke="#231f20" font-weight="normal" >Q</text>
<text x="349.00" y="378.40" font-size="8.6" text-anchor="middle" fill="#231f20" stroke="#231f20" font-weight="normal" >R</text>
<text x="391.60" y="378.40" font-size="8.6" text-anchor="middle" fill="#231f20" stroke="#231f20" font-weight="normal" >S</text>
<text x="431.40" y="378.40" font-size="8.6" text-anchor="middle" fill="#231f20" stroke="#231f20" font-weight="normal" >T</text>
<text x="460.80" y="378.40" font-size="8.6" text-anchor="middle" fill="#231f20" stroke="#231f20" font-weight="normal" >V</text>
<text x="480.60" y="378.40" font-size="8.6" text-anchor="middle" fill="#231f20" stroke="#231f20" font-weight="normal" >W</text>
<text x="492.70" y="378.40" font-size="8.6" text-anchor="middle" fill="#231f20" stroke="#231f20" font-weight="normal" >Y</text>
<text transform="translate(13.3,464.2) rotate(-90)" x="0" y="0" font-size="8.6" fill="#231f20" stroke="#231f20">Log<tspan font-size="7" dy="2">2</tspan><tspan dy="-2"> FC</tspan><tspan font-size="6.7" dy="-3.0">shFBL/shCtrl</tspan></text>
</svg></body></html>
